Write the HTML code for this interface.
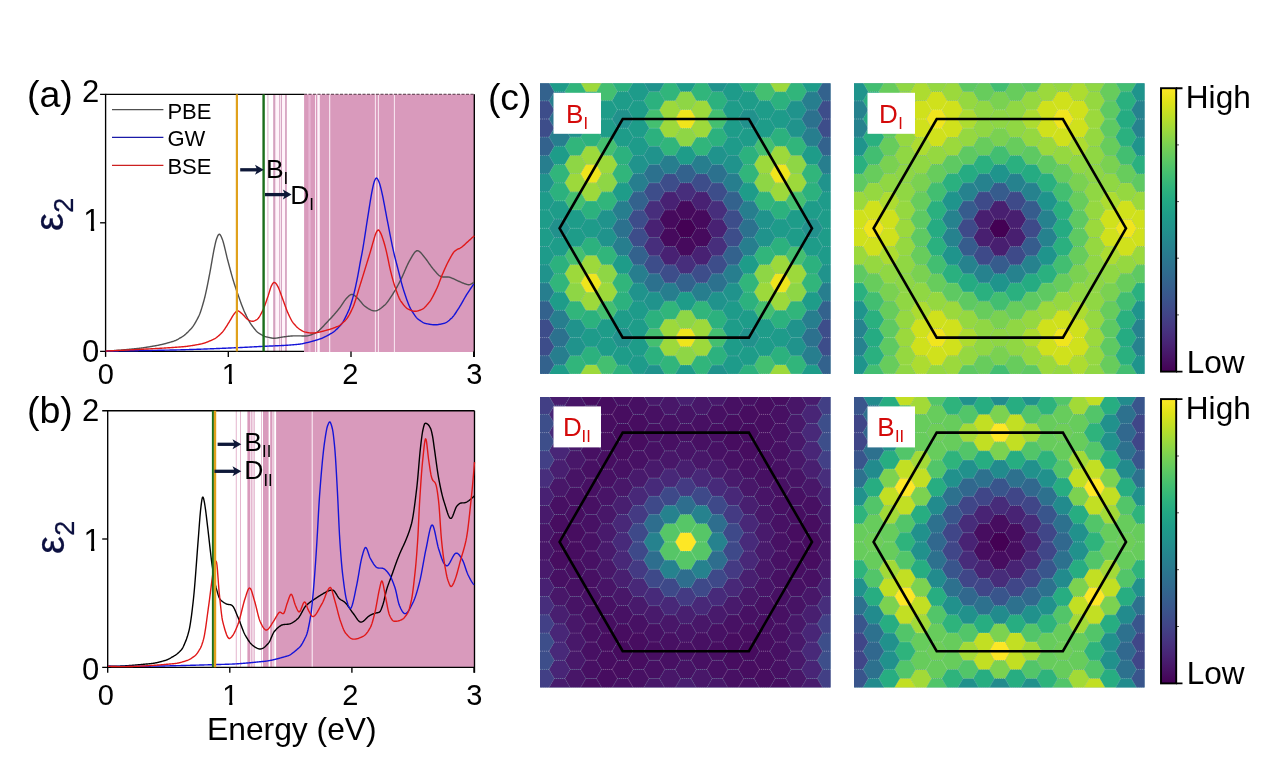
<!DOCTYPE html>
<html><head><meta charset="utf-8"><title>figure</title><style>html,body{margin:0;padding:0;background:#fff}svg{display:block}</style></head><body>
<svg width="1270" height="767" viewBox="0 0 1270 767" font-family="'Liberation Sans', Arial, sans-serif">
<rect width="1270" height="767" fill="#fff"/>
<rect x="304.1" y="94.3" width="170.7" height="257.7" fill="#d99abc"/>
<rect x="273" y="94.3" width="14" height="257.1" fill="#fff4fa"/>
<rect x="267.4" y="94.3" width="1" height="257.1" fill="#cf98b8" opacity="0.75"/>
<rect x="273.2" y="94.3" width="2.1" height="257.1" fill="#cf98b8" opacity="0.9"/>
<rect x="279.2" y="94.3" width="1" height="257.1" fill="#cf98b8" opacity="0.85"/>
<rect x="281" y="94.3" width="1" height="257.1" fill="#cf98b8" opacity="0.85"/>
<rect x="285.1" y="94.3" width="1.7" height="257.1" fill="#cf98b8" opacity="0.9"/>
<rect x="308.4" y="94.3" width="2.2" height="257.7" fill="#e6b3d2"/>
<rect x="315.1" y="94.3" width="0.9" height="257.7" fill="#fdf3f9"/>
<rect x="317" y="94.3" width="2.8" height="257.7" fill="#fdf3f9"/>
<rect x="329.2" y="94.3" width="1" height="257.7" fill="#fdf3f9"/>
<rect x="374.9" y="94.3" width="0.9" height="257.7" fill="#fdf3f9"/>
<rect x="377.9" y="94.3" width="0.9" height="257.7" fill="#fdf3f9"/>
<rect x="393.9" y="94.3" width="0.9" height="257.7" fill="#fdf3f9"/>
<rect x="316.7" y="94.3" width="0.6" height="257.7" fill="#d99abc"/>
<path d="M100.1,94.3 H105.6 M105.6,93.8 V351.9 M100.1,351.4 H304 M474.3,94.3 V356.9" stroke="#000" stroke-width="1.35" fill="none"/>
<path d="M105.6,94.3 H304" stroke="#000" stroke-width="1.35" fill="none"/>
<path d="M304,94.3 H474.3" stroke="#30101f" stroke-width="1.1" stroke-dasharray="3 1.5" opacity="0.8" fill="none"/>
<path d="M100.1,222.8 H105.6" stroke="#000" stroke-width="1.35"/>
<path d="M105.6,351.4 V356.9" stroke="#000" stroke-width="1.35"/>
<path d="M228.3,351.4 V356.9" stroke="#000" stroke-width="1.35"/>
<path d="M351,351.4 V356.9" stroke="#000" stroke-width="1.35"/>
<path d="M473.7,351.4 V356.9" stroke="#000" stroke-width="1.35"/>
<path d="M105.8,351 106.3,350.98 106.8,350.97 107.3,350.95 107.8,350.93 108.3,350.9 108.8,350.88 109.3,350.86 109.8,350.83 110.3,350.81 110.8,350.78 111.3,350.76 111.8,350.73 112.3,350.7 112.8,350.67 113.3,350.64 113.8,350.61 114.3,350.57 114.8,350.54 115.3,350.5 115.8,350.47 116.3,350.43 116.8,350.4 117.3,350.36 117.8,350.32 118.3,350.28 118.8,350.24 119.3,350.2 119.8,350.16 120.3,350.12 120.8,350.08 121.3,350.04 121.8,350 122.3,349.95 122.8,349.91 123.3,349.86 123.8,349.82 124.3,349.77 124.8,349.73 125.3,349.68 125.8,349.64 126.3,349.59 126.8,349.54 127.3,349.5 127.8,349.45 128.3,349.4 128.8,349.35 129.3,349.3 129.8,349.26 130.3,349.21 130.8,349.16 131.3,349.11 131.8,349.06 132.3,349.01 132.8,348.96 133.3,348.91 133.8,348.86 134.3,348.82 134.8,348.77 135.3,348.72 135.8,348.67 136.3,348.62 136.8,348.57 137.3,348.52 137.8,348.47 138.3,348.41 138.8,348.35 139.3,348.29 139.8,348.23 140.3,348.17 140.8,348.11 141.3,348.04 141.8,347.97 142.3,347.9 142.8,347.83 143.3,347.76 143.8,347.69 144.3,347.61 144.8,347.54 145.3,347.46 145.8,347.38 146.3,347.31 146.8,347.23 147.3,347.15 147.8,347.06 148.3,346.98 148.8,346.9 149.3,346.82 149.8,346.73 150.3,346.65 150.8,346.56 151.3,346.48 151.8,346.39 152.3,346.31 152.8,346.22 153.3,346.14 153.8,346.05 154.3,345.97 154.8,345.88 155.3,345.8 155.8,345.71 156.3,345.61 156.8,345.52 157.3,345.42 157.8,345.32 158.3,345.22 158.8,345.12 159.3,345.01 159.8,344.9 160.3,344.79 160.8,344.68 161.3,344.56 161.8,344.45 162.3,344.33 162.8,344.21 163.3,344.09 163.8,343.96 164.3,343.84 164.8,343.71 165.3,343.58 165.8,343.45 166.3,343.31 166.8,343.18 167.3,343.04 167.8,342.91 168.3,342.77 168.8,342.63 169.3,342.48 169.8,342.34 170.3,342.2 170.8,342.05 171.3,341.91 171.8,341.76 172.3,341.61 172.8,341.46 173.3,341.31 173.8,341.14 174.3,340.95 174.8,340.75 175.3,340.54 175.8,340.32 176.3,340.08 176.8,339.83 177.3,339.57 177.8,339.31 178.3,339.03 178.8,338.75 179.3,338.47 179.8,338.17 180.3,337.88 180.8,337.58 181.3,337.28 181.8,336.98 182.3,336.68 182.8,336.36 183.3,336.01 183.8,335.65 184.3,335.27 184.8,334.86 185.3,334.44 185.8,334.01 186.3,333.56 186.8,333.09 187.3,332.62 187.8,332.13 188.3,331.63 188.8,331.12 189.3,330.61 189.8,330.09 190.3,329.56 190.8,329.03 191.3,328.49 191.8,327.92 192.3,327.3 192.8,326.64 193.3,325.93 193.8,325.18 194.3,324.39 194.8,323.57 195.3,322.72 195.8,321.84 196.3,320.93 196.8,320 197.3,319.05 197.8,318.08 198.3,317.1 198.8,316.08 199.3,314.96 199.8,313.72 200.3,312.39 200.8,310.97 201.3,309.46 201.8,307.89 202.3,306.24 202.8,304.55 203.3,302.8 203.8,301.02 204.3,299.19 204.8,297.22 205.3,295.13 205.8,292.93 206.3,290.64 206.8,288.26 207.3,285.82 207.8,283.33 208.3,280.8 208.8,278.26 209.3,275.72 209.8,273.15 210.3,270.43 210.8,267.6 211.3,264.7 211.8,261.77 212.3,258.86 212.8,256.01 213.3,253.26 213.8,250.67 214.3,248.25 214.8,245.87 215.3,243.59 215.8,241.49 216.3,239.66 216.8,238.2 217.3,236.97 217.8,235.84 218.3,234.93 218.8,234.35 219.3,234.21 219.8,234.45 220.3,234.99 220.8,235.77 221.3,236.77 221.8,237.93 222.3,239.2 222.8,240.63 223.3,242.27 223.8,244.08 224.3,246.02 224.8,248.06 225.3,250.17 225.8,252.31 226.3,254.44 226.8,256.54 227.3,258.56 227.8,260.48 228.3,262.36 228.8,264.25 229.3,266.15 229.8,268.04 230.3,269.91 230.8,271.77 231.3,273.6 231.8,275.4 232.3,277.16 232.8,278.87 233.3,280.53 233.8,282.14 234.3,283.72 234.8,285.27 235.3,286.79 235.8,288.29 236.3,289.76 236.8,291.21 237.3,292.65 237.8,294.07 238.3,295.48 238.8,296.88 239.3,298.29 239.8,299.7 240.3,301.11 240.8,302.51 241.3,303.9 241.8,305.26 242.3,306.59 242.8,307.87 243.3,309.11 243.8,310.3 244.3,311.42 244.8,312.51 245.3,313.59 245.8,314.66 246.3,315.71 246.8,316.73 247.3,317.74 247.8,318.72 248.3,319.67 248.8,320.59 249.3,321.47 249.8,322.32 250.3,323.13 250.8,323.9 251.3,324.62 251.8,325.31 252.3,325.99 252.8,326.66 253.3,327.33 253.8,327.98 254.3,328.61 254.8,329.23 255.3,329.83 255.8,330.4 256.3,330.94 256.8,331.45 257.3,331.92 257.8,332.36 258.3,332.75 258.8,333.1 259.3,333.42 259.8,333.75 260.3,334.07 260.8,334.38 261.3,334.69 261.8,334.98 262.3,335.26 262.8,335.53 263.3,335.78 263.8,336.02 264.3,336.23 264.8,336.42 265.3,336.59 265.8,336.73 266.3,336.84 266.8,336.96 267.3,337.07 267.8,337.19 268.3,337.32 268.8,337.44 269.3,337.55 269.8,337.67 270.3,337.78 270.8,337.88 271.3,337.97 271.8,338.05 272.3,338.12 272.8,338.18 273.3,338.22 273.8,338.24 274.3,338.24 274.8,338.23 275.3,338.19 275.8,338.14 276.3,338.08 276.8,338.02 277.3,337.94 277.8,337.87 278.3,337.78 278.8,337.7 279.3,337.61 279.8,337.52 280.3,337.43 280.8,337.34 281.3,337.25 281.8,337.17 282.3,337.08 282.8,337.01 283.3,336.93 283.8,336.86 284.3,336.8 284.8,336.74 285.3,336.68 285.8,336.62 286.3,336.55 286.8,336.49 287.3,336.42 287.8,336.36 288.3,336.3 288.8,336.24 289.3,336.18 289.8,336.13 290.3,336.08 290.8,336.04 291.3,336 291.8,335.96 292.3,335.93 292.8,335.91 293.3,335.9 293.8,335.89 294.3,335.89 294.8,335.89 295.3,335.88 295.8,335.88 296.3,335.88 296.8,335.88 297.3,335.89 297.8,335.89 298.3,335.89 298.8,335.89 299.3,335.9 299.8,335.9 300.3,335.9 300.8,335.91 301.3,335.92 301.8,335.93 302.3,335.94 302.8,335.95 303.3,335.97 303.8,335.98 304.3,335.99 304.8,336 305.3,336 305.8,335.98 306.3,335.95 306.8,335.9 307.3,335.82 307.8,335.74 308.3,335.63 308.8,335.52 309.3,335.38 309.8,335.24 310.3,335.08 310.8,334.91 311.3,334.74 311.8,334.55 312.3,334.35 312.8,334.15 313.3,333.94 313.8,333.72 314.3,333.5 314.8,333.27 315.3,333.05 315.8,332.8 316.3,332.53 316.8,332.22 317.3,331.89 317.8,331.52 318.3,331.13 318.8,330.71 319.3,330.28 319.8,329.82 320.3,329.34 320.8,328.85 321.3,328.34 321.8,327.82 322.3,327.3 322.8,326.76 323.3,326.22 323.8,325.67 324.3,325.12 324.8,324.57 325.3,324.03 325.8,323.49 326.3,322.95 326.8,322.42 327.3,321.9 327.8,321.39 328.3,320.87 328.8,320.36 329.3,319.83 329.8,319.3 330.3,318.77 330.8,318.23 331.3,317.69 331.8,317.15 332.3,316.59 332.8,316.04 333.3,315.48 333.8,314.92 334.3,314.35 334.8,313.78 335.3,313.2 335.8,312.62 336.3,312.03 336.8,311.44 337.3,310.85 337.8,310.25 338.3,309.64 338.8,309.04 339.3,308.42 339.8,307.79 340.3,307.12 340.8,306.42 341.3,305.69 341.8,304.95 342.3,304.19 342.8,303.42 343.3,302.66 343.8,301.91 344.3,301.18 344.8,300.47 345.3,299.79 345.8,299.14 346.3,298.55 346.8,298 347.3,297.49 347.8,296.99 348.3,296.49 348.8,296.03 349.3,295.59 349.8,295.21 350.3,294.88 350.8,294.63 351.3,294.46 351.8,294.39 352.3,294.43 352.8,294.55 353.3,294.75 353.8,295.02 354.3,295.35 354.8,295.72 355.3,296.13 355.8,296.56 356.3,297 356.8,297.45 357.3,297.9 357.8,298.36 358.3,298.87 358.8,299.41 359.3,299.99 359.8,300.58 360.3,301.19 360.8,301.8 361.3,302.42 361.8,303.03 362.3,303.62 362.8,304.19 363.3,304.73 363.8,305.23 364.3,305.69 364.8,306.1 365.3,306.48 365.8,306.85 366.3,307.21 366.8,307.56 367.3,307.91 367.8,308.24 368.3,308.56 368.8,308.86 369.3,309.15 369.8,309.42 370.3,309.68 370.8,309.91 371.3,310.12 371.8,310.31 372.3,310.48 372.8,310.62 373.3,310.73 373.8,310.82 374.3,310.87 374.8,310.9 375.3,310.89 375.8,310.84 376.3,310.74 376.8,310.6 377.3,310.42 377.8,310.2 378.3,309.96 378.8,309.68 379.3,309.37 379.8,309.04 380.3,308.69 380.8,308.32 381.3,307.93 381.8,307.53 382.3,307.11 382.8,306.69 383.3,306.26 383.8,305.83 384.3,305.4 384.8,304.95 385.3,304.45 385.8,303.92 386.3,303.36 386.8,302.76 387.3,302.13 387.8,301.47 388.3,300.79 388.8,300.08 389.3,299.36 389.8,298.62 390.3,297.87 390.8,297.11 391.3,296.34 391.8,295.57 392.3,294.79 392.8,294.02 393.3,293.25 393.8,292.46 394.3,291.65 394.8,290.82 395.3,289.97 395.8,289.1 396.3,288.21 396.8,287.31 397.3,286.4 397.8,285.47 398.3,284.53 398.8,283.58 399.3,282.62 399.8,281.65 400.3,280.68 400.8,279.7 401.3,278.69 401.8,277.64 402.3,276.56 402.8,275.45 403.3,274.31 403.8,273.16 404.3,272 404.8,270.84 405.3,269.68 405.8,268.53 406.3,267.39 406.8,266.27 407.3,265.18 407.8,264.12 408.3,263.1 408.8,262.12 409.3,261.2 409.8,260.33 410.3,259.46 410.8,258.58 411.3,257.69 411.8,256.81 412.3,255.95 412.8,255.11 413.3,254.31 413.8,253.56 414.3,252.88 414.8,252.27 415.3,251.74 415.8,251.3 416.3,250.98 416.8,250.77 417.3,250.68 417.8,250.74 418.3,250.89 418.8,251.13 419.3,251.45 419.8,251.84 420.3,252.29 420.8,252.79 421.3,253.33 421.8,253.91 422.3,254.52 422.8,255.14 423.3,255.77 423.8,256.4 424.3,257.02 424.8,257.62 425.3,258.24 425.8,258.88 426.3,259.54 426.8,260.22 427.3,260.92 427.8,261.62 428.3,262.34 428.8,263.06 429.3,263.78 429.8,264.5 430.3,265.21 430.8,265.91 431.3,266.6 431.8,267.27 432.3,267.92 432.8,268.55 433.3,269.15 433.8,269.73 434.3,270.31 434.8,270.89 435.3,271.48 435.8,272.07 436.3,272.65 436.8,273.21 437.3,273.75 437.8,274.26 438.3,274.75 438.8,275.19 439.3,275.59 439.8,275.95 440.3,276.25 440.8,276.49 441.3,276.66 441.8,276.8 442.3,276.89 442.8,276.96 443.3,277 443.8,277.02 444.3,277.02 444.8,277.01 445.3,276.99 445.8,276.97 446.3,276.96 446.8,276.95 447.3,276.95 447.8,276.97 448.3,277.01 448.8,277.07 449.3,277.17 449.8,277.3 450.3,277.47 450.8,277.66 451.3,277.85 451.8,278.06 452.3,278.28 452.8,278.5 453.3,278.72 453.8,278.95 454.3,279.19 454.8,279.43 455.3,279.67 455.8,279.91 456.3,280.14 456.8,280.38 457.3,280.61 457.8,280.84 458.3,281.06 458.8,281.27 459.3,281.48 459.8,281.69 460.3,281.91 460.8,282.12 461.3,282.34 461.8,282.56 462.3,282.78 462.8,282.99 463.3,283.2 463.8,283.4 464.3,283.6 464.8,283.78 465.3,283.96 465.8,284.13 466.3,284.28 466.8,284.42 467.3,284.55 467.8,284.66 468.3,284.74 468.8,284.75 469.3,284.69 469.8,284.56 470.3,284.38 470.8,284.15 471.3,283.89 471.8,283.6 472.3,283.29 472.8,282.97 473.3,282.64 473.8,282.32" fill="none" stroke="#505050" stroke-width="1.4" stroke-linejoin="round"/>
<path d="M105.8,351 106.3,351 106.8,351 107.3,350.99 107.8,350.99 108.3,350.99 108.8,350.99 109.3,350.99 109.8,350.98 110.3,350.98 110.8,350.98 111.3,350.97 111.8,350.97 112.3,350.97 112.8,350.97 113.3,350.96 113.8,350.96 114.3,350.95 114.8,350.95 115.3,350.95 115.8,350.94 116.3,350.94 116.8,350.94 117.3,350.93 117.8,350.93 118.3,350.92 118.8,350.92 119.3,350.91 119.8,350.91 120.3,350.9 120.8,350.9 121.3,350.89 121.8,350.89 122.3,350.88 122.8,350.88 123.3,350.87 123.8,350.87 124.3,350.86 124.8,350.86 125.3,350.85 125.8,350.84 126.3,350.84 126.8,350.83 127.3,350.83 127.8,350.82 128.3,350.81 128.8,350.81 129.3,350.8 129.8,350.79 130.3,350.79 130.8,350.78 131.3,350.77 131.8,350.77 132.3,350.76 132.8,350.75 133.3,350.74 133.8,350.74 134.3,350.73 134.8,350.72 135.3,350.72 135.8,350.71 136.3,350.7 136.8,350.69 137.3,350.68 137.8,350.68 138.3,350.67 138.8,350.66 139.3,350.65 139.8,350.64 140.3,350.64 140.8,350.63 141.3,350.62 141.8,350.61 142.3,350.6 142.8,350.59 143.3,350.59 143.8,350.58 144.3,350.57 144.8,350.56 145.3,350.55 145.8,350.54 146.3,350.53 146.8,350.52 147.3,350.52 147.8,350.51 148.3,350.5 148.8,350.49 149.3,350.48 149.8,350.47 150.3,350.46 150.8,350.45 151.3,350.44 151.8,350.43 152.3,350.42 152.8,350.41 153.3,350.4 153.8,350.39 154.3,350.38 154.8,350.37 155.3,350.36 155.8,350.35 156.3,350.34 156.8,350.33 157.3,350.33 157.8,350.32 158.3,350.31 158.8,350.3 159.3,350.29 159.8,350.27 160.3,350.26 160.8,350.25 161.3,350.24 161.8,350.23 162.3,350.22 162.8,350.21 163.3,350.2 163.8,350.19 164.3,350.18 164.8,350.17 165.3,350.16 165.8,350.15 166.3,350.14 166.8,350.13 167.3,350.12 167.8,350.11 168.3,350.1 168.8,350.09 169.3,350.08 169.8,350.07 170.3,350.06 170.8,350.05 171.3,350.04 171.8,350.03 172.3,350.01 172.8,350 173.3,349.99 173.8,349.98 174.3,349.97 174.8,349.96 175.3,349.95 175.8,349.94 176.3,349.93 176.8,349.91 177.3,349.9 177.8,349.89 178.3,349.88 178.8,349.87 179.3,349.85 179.8,349.84 180.3,349.83 180.8,349.81 181.3,349.8 181.8,349.79 182.3,349.77 182.8,349.76 183.3,349.75 183.8,349.73 184.3,349.72 184.8,349.7 185.3,349.69 185.8,349.67 186.3,349.66 186.8,349.64 187.3,349.63 187.8,349.61 188.3,349.6 188.8,349.58 189.3,349.57 189.8,349.55 190.3,349.54 190.8,349.52 191.3,349.5 191.8,349.49 192.3,349.47 192.8,349.46 193.3,349.44 193.8,349.42 194.3,349.41 194.8,349.39 195.3,349.37 195.8,349.36 196.3,349.34 196.8,349.32 197.3,349.3 197.8,349.29 198.3,349.27 198.8,349.25 199.3,349.23 199.8,349.21 200.3,349.2 200.8,349.18 201.3,349.16 201.8,349.14 202.3,349.12 202.8,349.1 203.3,349.09 203.8,349.07 204.3,349.05 204.8,349.03 205.3,349.01 205.8,348.99 206.3,348.97 206.8,348.95 207.3,348.93 207.8,348.91 208.3,348.89 208.8,348.88 209.3,348.86 209.8,348.84 210.3,348.82 210.8,348.8 211.3,348.78 211.8,348.76 212.3,348.74 212.8,348.72 213.3,348.7 213.8,348.68 214.3,348.66 214.8,348.64 215.3,348.62 215.8,348.59 216.3,348.57 216.8,348.55 217.3,348.53 217.8,348.51 218.3,348.49 218.8,348.47 219.3,348.45 219.8,348.43 220.3,348.41 220.8,348.39 221.3,348.37 221.8,348.35 222.3,348.32 222.8,348.3 223.3,348.28 223.8,348.26 224.3,348.24 224.8,348.22 225.3,348.2 225.8,348.18 226.3,348.15 226.8,348.13 227.3,348.11 227.8,348.09 228.3,348.07 228.8,348.05 229.3,348.03 229.8,348.01 230.3,347.98 230.8,347.96 231.3,347.94 231.8,347.92 232.3,347.9 232.8,347.88 233.3,347.85 233.8,347.83 234.3,347.81 234.8,347.79 235.3,347.77 235.8,347.75 236.3,347.73 236.8,347.7 237.3,347.68 237.8,347.66 238.3,347.64 238.8,347.62 239.3,347.59 239.8,347.57 240.3,347.55 240.8,347.52 241.3,347.5 241.8,347.47 242.3,347.45 242.8,347.42 243.3,347.4 243.8,347.37 244.3,347.35 244.8,347.32 245.3,347.3 245.8,347.27 246.3,347.25 246.8,347.22 247.3,347.19 247.8,347.17 248.3,347.14 248.8,347.11 249.3,347.09 249.8,347.06 250.3,347.03 250.8,347.01 251.3,346.98 251.8,346.95 252.3,346.92 252.8,346.9 253.3,346.87 253.8,346.84 254.3,346.82 254.8,346.79 255.3,346.76 255.8,346.73 256.3,346.71 256.8,346.68 257.3,346.65 257.8,346.63 258.3,346.6 258.8,346.57 259.3,346.55 259.8,346.52 260.3,346.5 260.8,346.47 261.3,346.44 261.8,346.42 262.3,346.39 262.8,346.37 263.3,346.34 263.8,346.32 264.3,346.3 264.8,346.27 265.3,346.25 265.8,346.22 266.3,346.2 266.8,346.18 267.3,346.16 267.8,346.14 268.3,346.11 268.8,346.09 269.3,346.07 269.8,346.05 270.3,346.03 270.8,346.01 271.3,345.99 271.8,345.97 272.3,345.95 272.8,345.93 273.3,345.91 273.8,345.89 274.3,345.86 274.8,345.84 275.3,345.82 275.8,345.8 276.3,345.78 276.8,345.76 277.3,345.74 277.8,345.72 278.3,345.7 278.8,345.67 279.3,345.65 279.8,345.63 280.3,345.61 280.8,345.58 281.3,345.56 281.8,345.53 282.3,345.51 282.8,345.48 283.3,345.46 283.8,345.43 284.3,345.4 284.8,345.38 285.3,345.35 285.8,345.32 286.3,345.28 286.8,345.25 287.3,345.22 287.8,345.19 288.3,345.15 288.8,345.11 289.3,345.08 289.8,345.04 290.3,345 290.8,344.96 291.3,344.92 291.8,344.88 292.3,344.84 292.8,344.8 293.3,344.76 293.8,344.71 294.3,344.67 294.8,344.62 295.3,344.58 295.8,344.53 296.3,344.48 296.8,344.43 297.3,344.38 297.8,344.33 298.3,344.28 298.8,344.23 299.3,344.18 299.8,344.12 300.3,344.06 300.8,343.99 301.3,343.91 301.8,343.82 302.3,343.71 302.8,343.6 303.3,343.49 303.8,343.38 304.3,343.26 304.8,343.14 305.3,343.03 305.8,342.92 306.3,342.8 306.8,342.69 307.3,342.57 307.8,342.45 308.3,342.33 308.8,342.2 309.3,342.08 309.8,341.95 310.3,341.82 310.8,341.69 311.3,341.55 311.8,341.42 312.3,341.28 312.8,341.14 313.3,341 313.8,340.86 314.3,340.72 314.8,340.57 315.3,340.43 315.8,340.28 316.3,340.13 316.8,339.98 317.3,339.82 317.8,339.67 318.3,339.51 318.8,339.35 319.3,339.19 319.8,339.03 320.3,338.87 320.8,338.69 321.3,338.5 321.8,338.31 322.3,338.1 322.8,337.89 323.3,337.67 323.8,337.44 324.3,337.2 324.8,336.95 325.3,336.7 325.8,336.45 326.3,336.18 326.8,335.92 327.3,335.64 327.8,335.37 328.3,335.09 328.8,334.8 329.3,334.52 329.8,334.23 330.3,333.94 330.8,333.65 331.3,333.35 331.8,333.06 332.3,332.76 332.8,332.43 333.3,332.09 333.8,331.72 334.3,331.33 334.8,330.93 335.3,330.5 335.8,330.06 336.3,329.6 336.8,329.13 337.3,328.64 337.8,328.14 338.3,327.63 338.8,327.1 339.3,326.57 339.8,326.03 340.3,325.47 340.8,324.91 341.3,324.33 341.8,323.68 342.3,322.96 342.8,322.19 343.3,321.37 343.8,320.5 344.3,319.59 344.8,318.64 345.3,317.66 345.8,316.64 346.3,315.61 346.8,314.55 347.3,313.48 347.8,312.39 348.3,311.3 348.8,310.15 349.3,308.89 349.8,307.53 350.3,306.08 350.8,304.56 351.3,302.97 351.8,301.32 352.3,299.63 352.8,297.9 353.3,296.1 353.8,294.18 354.3,292.15 354.8,290.02 355.3,287.82 355.8,285.54 356.3,283.2 356.8,280.82 357.3,278.4 357.8,275.87 358.3,273.17 358.8,270.38 359.3,267.55 359.8,264.73 360.3,262 360.8,259.4 361.3,256.87 361.8,254.33 362.3,251.68 362.8,248.84 363.3,245.85 363.8,242.76 364.3,239.59 364.8,236.35 365.3,233.08 365.8,229.79 366.3,226.5 366.8,223.24 367.3,220.04 367.8,216.9 368.3,213.77 368.8,210.6 369.3,207.42 369.8,204.25 370.3,201.14 370.8,198.12 371.3,195.22 371.8,192.46 372.3,189.9 372.8,187.46 373.3,185.15 373.8,183.12 374.3,181.5 374.8,180.32 375.3,179.26 375.8,178.43 376.3,178.01 376.8,178.13 377.3,178.65 377.8,179.45 378.3,180.43 378.8,181.5 379.3,182.73 379.8,184.24 380.3,185.97 380.8,187.87 381.3,189.9 381.8,192.05 382.3,194.33 382.8,196.73 383.3,199.23 383.8,201.81 384.3,204.44 384.8,207.12 385.3,209.8 385.8,212.48 386.3,215.14 386.8,217.76 387.3,220.31 387.8,222.86 388.3,225.44 388.8,228.05 389.3,230.66 389.8,233.26 390.3,235.86 390.8,238.42 391.3,240.95 391.8,243.43 392.3,245.84 392.8,248.19 393.3,250.44 393.8,252.62 394.3,254.72 394.8,256.76 395.3,258.76 395.8,260.71 396.3,262.64 396.8,264.55 397.3,266.46 397.8,268.39 398.3,270.33 398.8,272.3 399.3,274.28 399.8,276.25 400.3,278.22 400.8,280.16 401.3,282.06 401.8,283.93 402.3,285.73 402.8,287.47 403.3,289.13 403.8,290.71 404.3,292.25 404.8,293.77 405.3,295.28 405.8,296.77 406.3,298.22 406.8,299.65 407.3,301.03 407.8,302.36 408.3,303.65 408.8,304.87 409.3,306.04 409.8,307.14 410.3,308.16 410.8,309.11 411.3,309.97 411.8,310.79 412.3,311.61 412.8,312.41 413.3,313.2 413.8,313.96 414.3,314.7 414.8,315.41 415.3,316.09 415.8,316.74 416.3,317.34 416.8,317.91 417.3,318.42 417.8,318.89 418.3,319.31 418.8,319.67 419.3,320.01 419.8,320.36 420.3,320.7 420.8,321.04 421.3,321.37 421.8,321.68 422.3,321.99 422.8,322.28 423.3,322.55 423.8,322.8 424.3,323.03 424.8,323.23 425.3,323.4 425.8,323.53 426.3,323.64 426.8,323.74 427.3,323.84 427.8,323.93 428.3,324.03 428.8,324.12 429.3,324.21 429.8,324.29 430.3,324.37 430.8,324.45 431.3,324.52 431.8,324.58 432.3,324.64 432.8,324.69 433.3,324.73 433.8,324.76 434.3,324.78 434.8,324.8 435.3,324.8 435.8,324.79 436.3,324.76 436.8,324.73 437.3,324.68 437.8,324.62 438.3,324.55 438.8,324.47 439.3,324.39 439.8,324.29 440.3,324.19 440.8,324.09 441.3,323.97 441.8,323.86 442.3,323.74 442.8,323.62 443.3,323.5 443.8,323.37 444.3,323.25 444.8,323.09 445.3,322.88 445.8,322.65 446.3,322.37 446.8,322.07 447.3,321.74 447.8,321.38 448.3,321 448.8,320.6 449.3,320.18 449.8,319.74 450.3,319.3 450.8,318.84 451.3,318.38 451.8,317.91 452.3,317.4 452.8,316.84 453.3,316.24 453.8,315.6 454.3,314.93 454.8,314.23 455.3,313.51 455.8,312.76 456.3,312 456.8,311.22 457.3,310.43 457.8,309.64 458.3,308.85 458.8,308.07 459.3,307.29 459.8,306.48 460.3,305.66 460.8,304.81 461.3,303.94 461.8,303.07 462.3,302.18 462.8,301.29 463.3,300.39 463.8,299.5 464.3,298.62 464.8,297.75 465.3,296.88 465.8,296.04 466.3,295.22 466.8,294.42 467.3,293.63 467.8,292.84 468.3,292.06 468.8,291.29 469.3,290.52 469.8,289.76 470.3,289.01 470.8,288.26 471.3,287.53 471.8,286.8 472.3,286.08 472.8,285.37 473.3,284.67 473.8,283.97" fill="none" stroke="#1414d8" stroke-width="1.4" stroke-linejoin="round"/>
<path d="M105.8,351 106.3,350.98 106.8,350.96 107.3,350.94 107.8,350.92 108.3,350.9 108.8,350.88 109.3,350.86 109.8,350.84 110.3,350.82 110.8,350.8 111.3,350.78 111.8,350.76 112.3,350.74 112.8,350.71 113.3,350.69 113.8,350.67 114.3,350.65 114.8,350.63 115.3,350.61 115.8,350.58 116.3,350.56 116.8,350.54 117.3,350.52 117.8,350.49 118.3,350.47 118.8,350.45 119.3,350.42 119.8,350.4 120.3,350.38 120.8,350.35 121.3,350.33 121.8,350.31 122.3,350.28 122.8,350.26 123.3,350.23 123.8,350.21 124.3,350.19 124.8,350.16 125.3,350.14 125.8,350.11 126.3,350.09 126.8,350.06 127.3,350.04 127.8,350.01 128.3,349.99 128.8,349.96 129.3,349.94 129.8,349.91 130.3,349.89 130.8,349.86 131.3,349.84 131.8,349.81 132.3,349.78 132.8,349.76 133.3,349.73 133.8,349.71 134.3,349.68 134.8,349.66 135.3,349.63 135.8,349.6 136.3,349.58 136.8,349.55 137.3,349.52 137.8,349.5 138.3,349.47 138.8,349.45 139.3,349.42 139.8,349.39 140.3,349.37 140.8,349.34 141.3,349.31 141.8,349.29 142.3,349.26 142.8,349.23 143.3,349.21 143.8,349.18 144.3,349.15 144.8,349.13 145.3,349.1 145.8,349.07 146.3,349.05 146.8,349.02 147.3,348.99 147.8,348.97 148.3,348.94 148.8,348.91 149.3,348.89 149.8,348.86 150.3,348.83 150.8,348.81 151.3,348.78 151.8,348.75 152.3,348.73 152.8,348.7 153.3,348.67 153.8,348.65 154.3,348.62 154.8,348.59 155.3,348.57 155.8,348.54 156.3,348.51 156.8,348.49 157.3,348.46 157.8,348.43 158.3,348.4 158.8,348.37 159.3,348.35 159.8,348.32 160.3,348.29 160.8,348.26 161.3,348.23 161.8,348.2 162.3,348.17 162.8,348.14 163.3,348.11 163.8,348.08 164.3,348.05 164.8,348.01 165.3,347.98 165.8,347.95 166.3,347.92 166.8,347.89 167.3,347.85 167.8,347.82 168.3,347.79 168.8,347.76 169.3,347.72 169.8,347.69 170.3,347.65 170.8,347.62 171.3,347.59 171.8,347.55 172.3,347.52 172.8,347.48 173.3,347.45 173.8,347.41 174.3,347.38 174.8,347.34 175.3,347.31 175.8,347.27 176.3,347.23 176.8,347.2 177.3,347.16 177.8,347.12 178.3,347.09 178.8,347.05 179.3,347.01 179.8,346.97 180.3,346.94 180.8,346.9 181.3,346.86 181.8,346.82 182.3,346.78 182.8,346.74 183.3,346.7 183.8,346.65 184.3,346.6 184.8,346.55 185.3,346.5 185.8,346.44 186.3,346.38 186.8,346.32 187.3,346.26 187.8,346.19 188.3,346.12 188.8,346.05 189.3,345.98 189.8,345.91 190.3,345.84 190.8,345.76 191.3,345.68 191.8,345.6 192.3,345.52 192.8,345.44 193.3,345.36 193.8,345.27 194.3,345.19 194.8,345.1 195.3,345.01 195.8,344.93 196.3,344.84 196.8,344.75 197.3,344.66 197.8,344.57 198.3,344.48 198.8,344.39 199.3,344.3 199.8,344.21 200.3,344.12 200.8,344.02 201.3,343.92 201.8,343.81 202.3,343.68 202.8,343.55 203.3,343.41 203.8,343.26 204.3,343.1 204.8,342.93 205.3,342.76 205.8,342.58 206.3,342.4 206.8,342.21 207.3,342.01 207.8,341.81 208.3,341.61 208.8,341.4 209.3,341.18 209.8,340.97 210.3,340.75 210.8,340.53 211.3,340.31 211.8,340.08 212.3,339.86 212.8,339.63 213.3,339.41 213.8,339.16 214.3,338.9 214.8,338.61 215.3,338.3 215.8,337.97 216.3,337.62 216.8,337.25 217.3,336.87 217.8,336.46 218.3,336.05 218.8,335.61 219.3,335.16 219.8,334.7 220.3,334.22 220.8,333.74 221.3,333.23 221.8,332.72 222.3,332.2 222.8,331.65 223.3,331.04 223.8,330.39 224.3,329.7 224.8,328.98 225.3,328.22 225.8,327.44 226.3,326.65 226.8,325.84 227.3,325.02 227.8,324.2 228.3,323.38 228.8,322.57 229.3,321.77 229.8,320.98 230.3,320.16 230.8,319.3 231.3,318.43 231.8,317.55 232.3,316.69 232.8,315.86 233.3,315.09 233.8,314.38 234.3,313.75 234.8,313.13 235.3,312.53 235.8,311.98 236.3,311.5 236.8,311.15 237.3,310.93 237.8,310.9 238.3,311.02 238.8,311.22 239.3,311.51 239.8,311.85 240.3,312.24 240.8,312.67 241.3,313.11 241.8,313.56 242.3,314 242.8,314.46 243.3,314.96 243.8,315.5 244.3,316.05 244.8,316.62 245.3,317.18 245.8,317.73 246.3,318.24 246.8,318.72 247.3,319.14 247.8,319.5 248.3,319.81 248.8,320.1 249.3,320.36 249.8,320.59 250.3,320.8 250.8,320.97 251.3,321.11 251.8,321.22 252.3,321.29 252.8,321.31 253.3,321.25 253.8,321.13 254.3,320.95 254.8,320.72 255.3,320.46 255.8,320.18 256.3,319.87 256.8,319.56 257.3,319.21 257.8,318.76 258.3,318.2 258.8,317.55 259.3,316.82 259.8,316.02 260.3,315.17 260.8,314.27 261.3,313.33 261.8,312.37 262.3,311.4 262.8,310.38 263.3,309.27 263.8,308.07 264.3,306.8 264.8,305.46 265.3,304.08 265.8,302.65 266.3,301.21 266.8,299.76 267.3,298.31 267.8,296.88 268.3,295.41 268.8,293.8 269.3,292.11 269.8,290.43 270.3,288.82 270.8,287.36 271.3,286.12 271.8,285.12 272.3,284.23 272.8,283.46 273.3,282.87 273.8,282.5 274.3,282.4 274.8,282.55 275.3,282.88 275.8,283.36 276.3,283.98 276.8,284.72 277.3,285.54 277.8,286.42 278.3,287.38 278.8,288.48 279.3,289.7 279.8,291 280.3,292.37 280.8,293.78 281.3,295.2 281.8,296.6 282.3,297.97 282.8,299.29 283.3,300.65 283.8,302.03 284.3,303.42 284.8,304.82 285.3,306.21 285.8,307.59 286.3,308.93 286.8,310.23 287.3,311.47 287.8,312.65 288.3,313.76 288.8,314.86 289.3,315.93 289.8,316.98 290.3,318 290.8,318.97 291.3,319.89 291.8,320.76 292.3,321.57 292.8,322.31 293.3,322.98 293.8,323.58 294.3,324.18 294.8,324.76 295.3,325.32 295.8,325.87 296.3,326.4 296.8,326.9 297.3,327.38 297.8,327.84 298.3,328.27 298.8,328.67 299.3,329.04 299.8,329.38 300.3,329.68 300.8,329.99 301.3,330.3 301.8,330.6 302.3,330.89 302.8,331.16 303.3,331.41 303.8,331.63 304.3,331.81 304.8,331.95 305.3,332.06 305.8,332.17 306.3,332.27 306.8,332.37 307.3,332.47 307.8,332.57 308.3,332.66 308.8,332.74 309.3,332.82 309.8,332.88 310.3,332.94 310.8,332.99 311.3,333.03 311.8,333.06 312.3,333.07 312.8,333.06 313.3,333.05 313.8,333.01 314.3,332.96 314.8,332.9 315.3,332.83 315.8,332.76 316.3,332.68 316.8,332.6 317.3,332.51 317.8,332.41 318.3,332.31 318.8,332.2 319.3,332.09 319.8,331.98 320.3,331.86 320.8,331.74 321.3,331.61 321.8,331.48 322.3,331.35 322.8,331.22 323.3,331.09 323.8,330.96 324.3,330.82 324.8,330.69 325.3,330.56 325.8,330.42 326.3,330.29 326.8,330.16 327.3,330.03 327.8,329.9 328.3,329.76 328.8,329.62 329.3,329.47 329.8,329.32 330.3,329.16 330.8,329 331.3,328.84 331.8,328.67 332.3,328.49 332.8,328.31 333.3,328.13 333.8,327.95 334.3,327.76 334.8,327.56 335.3,327.37 335.8,327.17 336.3,326.97 336.8,326.76 337.3,326.55 337.8,326.34 338.3,326.12 338.8,325.86 339.3,325.57 339.8,325.25 340.3,324.9 340.8,324.52 341.3,324.13 341.8,323.71 342.3,323.27 342.8,322.82 343.3,322.35 343.8,321.87 344.3,321.39 344.8,320.9 345.3,320.4 345.8,319.88 346.3,319.31 346.8,318.68 347.3,317.99 347.8,317.26 348.3,316.47 348.8,315.64 349.3,314.77 349.8,313.85 350.3,312.89 350.8,311.9 351.3,310.87 351.8,309.81 352.3,308.72 352.8,307.6 353.3,306.42 353.8,305.14 354.3,303.78 354.8,302.34 355.3,300.83 355.8,299.27 356.3,297.67 356.8,296.03 357.3,294.36 357.8,292.68 358.3,290.99 358.8,289.31 359.3,287.65 359.8,286.01 360.3,284.4 360.8,282.81 361.3,281.21 361.8,279.61 362.3,277.99 362.8,276.37 363.3,274.75 363.8,273.13 364.3,271.5 364.8,269.87 365.3,268.25 365.8,266.62 366.3,265 366.8,263.39 367.3,261.78 367.8,260.18 368.3,258.57 368.8,256.96 369.3,255.32 369.8,253.67 370.3,251.98 370.8,250.25 371.3,248.48 371.8,246.7 372.3,244.93 372.8,243.18 373.3,241.47 373.8,239.79 374.3,238.05 374.8,236.34 375.3,234.77 375.8,233.44 376.3,232.39 376.8,231.44 377.3,230.67 377.8,230.15 378.3,230 378.8,230.24 379.3,230.79 379.8,231.56 380.3,232.45 380.8,233.38 381.3,234.48 381.8,235.75 382.3,237.15 382.8,238.64 383.3,240.18 383.8,241.75 384.3,243.45 384.8,245.25 385.3,247.15 385.8,249.13 386.3,251.17 386.8,253.29 387.3,255.58 387.8,257.99 388.3,260.47 388.8,262.95 389.3,265.37 389.8,267.68 390.3,269.81 390.8,271.86 391.3,273.87 391.8,275.84 392.3,277.76 392.8,279.61 393.3,281.39 393.8,283.08 394.3,284.69 394.8,286.19 395.3,287.67 395.8,289.15 396.3,290.61 396.8,292.04 397.3,293.44 397.8,294.78 398.3,296.06 398.8,297.26 399.3,298.37 399.8,299.38 400.3,300.27 400.8,301.05 401.3,301.77 401.8,302.48 402.3,303.18 402.8,303.86 403.3,304.52 403.8,305.16 404.3,305.76 404.8,306.34 405.3,306.88 405.8,307.38 406.3,307.83 406.8,308.24 407.3,308.6 407.8,308.9 408.3,309.15 408.8,309.37 409.3,309.6 409.8,309.83 410.3,310.06 410.8,310.27 411.3,310.47 411.8,310.66 412.3,310.83 412.8,310.98 413.3,311.1 413.8,311.2 414.3,311.27 414.8,311.3 415.3,311.3 415.8,311.27 416.3,311.21 416.8,311.13 417.3,311.03 417.8,310.91 418.3,310.77 418.8,310.61 419.3,310.44 419.8,310.26 420.3,310.07 420.8,309.87 421.3,309.67 421.8,309.46 422.3,309.21 422.8,308.91 423.3,308.57 423.8,308.18 424.3,307.76 424.8,307.29 425.3,306.8 425.8,306.28 426.3,305.73 426.8,305.16 427.3,304.58 427.8,303.98 428.3,303.38 428.8,302.77 429.3,302.15 429.8,301.49 430.3,300.78 430.8,300.02 431.3,299.22 431.8,298.37 432.3,297.49 432.8,296.58 433.3,295.64 433.8,294.67 434.3,293.67 434.8,292.66 435.3,291.63 435.8,290.59 436.3,289.53 436.8,288.47 437.3,287.35 437.8,286.16 438.3,284.92 438.8,283.64 439.3,282.34 439.8,281.02 440.3,279.69 440.8,278.38 441.3,277.08 441.8,275.82 442.3,274.6 442.8,273.44 443.3,272.29 443.8,271.14 444.3,270 444.8,268.88 445.3,267.77 445.8,266.67 446.3,265.6 446.8,264.55 447.3,263.52 447.8,262.53 448.3,261.56 448.8,260.63 449.3,259.69 449.8,258.74 450.3,257.8 450.8,256.87 451.3,255.97 451.8,255.1 452.3,254.27 452.8,253.5 453.3,252.78 453.8,252.15 454.3,251.59 454.8,251.12 455.3,250.72 455.8,250.35 456.3,250.03 456.8,249.74 457.3,249.47 457.8,249.22 458.3,248.98 458.8,248.75 459.3,248.51 459.8,248.26 460.3,248 460.8,247.71 461.3,247.39 461.8,247.03 462.3,246.64 462.8,246.22 463.3,245.79 463.8,245.35 464.3,244.9 464.8,244.45 465.3,243.99 465.8,243.53 466.3,243.06 466.8,242.6 467.3,242.14 467.8,241.68 468.3,241.23 468.8,240.78 469.3,240.32 469.8,239.87 470.3,239.42 470.8,238.97 471.3,238.51 471.8,238.06 472.3,237.6 472.8,237.15 473.3,236.69 473.8,236.24 474.3,235.78" fill="none" stroke="#e01818" stroke-width="1.4" stroke-linejoin="round"/>
<rect x="235.8" y="94.3" width="2.2" height="257.1" fill="#e0a11c"/>
<rect x="262.4" y="94.3" width="2.4" height="257.1" fill="#1c6e1c"/>
<path d="M112,109.7 H163.4" stroke="#505050" stroke-width="1.3"/>
<text x="167.4" y="118.7" font-size="22">PBE</text>
<path d="M112,137.4 H163.4" stroke="#1a1aa8" stroke-width="1.3"/>
<text x="167.4" y="146.4" font-size="22">GW</text>
<path d="M112,165.3 H163.4" stroke="#cc2020" stroke-width="1.3"/>
<text x="167.4" y="174.3" font-size="22">BSE</text>
<text x="26.9" y="106.5" font-size="37.6">(a)</text>
<text x="99.3" y="101.9" font-size="31" text-anchor="end">2</text>
<text x="99.3" y="361.5" font-size="31" text-anchor="end">0</text>
<clipPath id="o1"><path d="M82.3,200.4 H114.3 V227.5 H82.3 z M90.8,226.8 H94.2 V232.4 H90.8 z"/></clipPath>
<text x="83.3" y="231.4" font-size="31" clip-path="url(#o1)">1</text>
<text x="105.8" y="384.2" font-size="29" text-anchor="middle">0</text>
<text x="350.4" y="384.2" font-size="29" text-anchor="middle">2</text>
<text x="474.2" y="384.2" font-size="29" text-anchor="middle">3</text>
<clipPath id="o2"><path d="M220.8,355.2 H250.8 V380.6 H220.8 z M228.8,379.8 H232 V385.2 H228.8 z"/></clipPath>
<text x="221.8" y="384.2" font-size="29" clip-path="url(#o2)">1</text>
<text transform="translate(63.4,231) rotate(-90)" font-size="40" fill="#0c1040" stroke="#0c1040" stroke-width="0.25">ε<tspan font-size="27" dy="9.6" dx="0.5">2</tspan></text>
<path d="M240.2,169.8 H258.8" stroke="#0e1838" stroke-width="3.3"/>
<path d="M263.8,169.8 l-8.8,-5 l2.2,5 l-2.2,5z" fill="#0e1838"/>
<text x="266.1" y="177.5" font-size="26.5">B<tspan font-size="17" dy="6.2" dx="-0.4">I</tspan></text>
<path d="M265,194.6 H286.6" stroke="#0e1838" stroke-width="3.3"/>
<path d="M291.6,194.6 l-8.8,-5 l2.2,5 l-2.2,5z" fill="#0e1838"/>
<text x="290.2" y="203.8" font-size="26.5">D<tspan font-size="17" dy="6.2" dx="-0.2">I</tspan></text>
<rect x="276.1" y="410.7" width="198.7" height="256.6" fill="#d99abc"/>
<rect x="235.8" y="410.7" width="0.9" height="256.6" fill="#d99abc" opacity="0.8"/>
<rect x="240" y="410.7" width="0.9" height="256.6" fill="#d99abc" opacity="0.8"/>
<rect x="247.4" y="410.7" width="2.9" height="256.6" fill="#d99abc"/>
<rect x="251.3" y="410.7" width="1.1" height="256.6" fill="#d99abc"/>
<rect x="253.6" y="410.7" width="1" height="256.6" fill="#d99abc"/>
<rect x="261.1" y="410.7" width="0.8" height="256.6" fill="#d99abc" opacity="0.8"/>
<rect x="263" y="410.7" width="5.6" height="256.6" fill="#d99abc"/>
<rect x="270.2" y="410.7" width="2.3" height="256.6" fill="#d99abc"/>
<rect x="273.4" y="410.7" width="0.8" height="256.6" fill="#d99abc" opacity="0.95"/>
<rect x="311.7" y="410.7" width="1" height="256.6" fill="#fdf3f9"/>
<path d="M102.2,410.7 H474.5 M107.7,410.2 V667.8 M102.2,667.3 H474.5 M474.5,410.7 V672.8" stroke="#000" stroke-width="1.35" fill="none"/>
<path d="M102.2,539 H107.7" stroke="#000" stroke-width="1.35"/>
<path d="M107.7,667.3 V672.8" stroke="#000" stroke-width="1.35"/>
<path d="M229.8,667.3 V672.8" stroke="#000" stroke-width="1.35"/>
<path d="M351.9,667.3 V672.8" stroke="#000" stroke-width="1.35"/>
<path d="M474,667.3 V672.8" stroke="#000" stroke-width="1.35"/>
<path d="M108,666.3 108.5,666.31 109,666.31 109.5,666.31 110,666.31 110.5,666.31 111,666.31 111.5,666.31 112,666.3 112.5,666.3 113,666.29 113.5,666.29 114,666.28 114.5,666.27 115,666.26 115.5,666.24 116,666.23 116.5,666.22 117,666.2 117.5,666.19 118,666.17 118.5,666.15 119,666.13 119.5,666.11 120,666.09 120.5,666.07 121,666.04 121.5,666.02 122,665.99 122.5,665.97 123,665.94 123.5,665.91 124,665.89 124.5,665.86 125,665.83 125.5,665.8 126,665.76 126.5,665.73 127,665.7 127.5,665.66 128,665.63 128.5,665.6 129,665.56 129.5,665.52 130,665.49 130.5,665.45 131,665.41 131.5,665.37 132,665.33 132.5,665.29 133,665.25 133.5,665.21 134,665.17 134.5,665.13 135,665.09 135.5,665.04 136,665 136.5,664.96 137,664.91 137.5,664.87 138,664.82 138.5,664.78 139,664.73 139.5,664.69 140,664.64 140.5,664.59 141,664.55 141.5,664.5 142,664.45 142.5,664.41 143,664.36 143.5,664.31 144,664.26 144.5,664.22 145,664.17 145.5,664.12 146,664.07 146.5,664.02 147,663.98 147.5,663.93 148,663.88 148.5,663.83 149,663.78 149.5,663.73 150,663.69 150.5,663.64 151,663.59 151.5,663.54 152,663.48 152.5,663.41 153,663.34 153.5,663.27 154,663.19 154.5,663.1 155,663.01 155.5,662.91 156,662.81 156.5,662.71 157,662.6 157.5,662.48 158,662.37 158.5,662.25 159,662.13 159.5,662 160,661.87 160.5,661.74 161,661.61 161.5,661.47 162,661.34 162.5,661.2 163,661.06 163.5,660.92 164,660.78 164.5,660.64 165,660.5 165.5,660.35 166,660.18 166.5,659.99 167,659.79 167.5,659.57 168,659.34 168.5,659.1 169,658.85 169.5,658.59 170,658.31 170.5,658.04 171,657.75 171.5,657.46 172,657.17 172.5,656.88 173,656.58 173.5,656.28 174,655.99 174.5,655.7 175,655.4 175.5,655.08 176,654.73 176.5,654.37 177,653.98 177.5,653.57 178,653.15 178.5,652.7 179,652.23 179.5,651.75 180,651.24 180.5,650.72 181,650.18 181.5,649.63 182,649.02 182.5,648.24 183,647.31 183.5,646.27 184,645.14 184.5,643.96 185,642.77 185.5,641.6 186,640.39 186.5,639.06 187,637.6 187.5,636.03 188,634.33 188.5,632.53 189,630.6 189.5,628.3 190,625.62 190.5,622.58 191,619.22 191.5,615.55 192,611.62 192.5,607.45 193,603.06 193.5,598.5 194,593.54 194.5,588 195,582.01 195.5,575.66 196,569.07 196.5,562.34 197,555.58 197.5,548.91 198,542.42 198.5,536.05 199,529.31 199.5,522.58 200,516.3 200.5,510.92 201,506.45 201.5,502.38 202,499.17 202.5,497.29 203,497.15 203.5,498.29 204,500.32 204.5,502.98 205,506 205.5,509.39 206,513.24 206.5,517.37 207,521.61 207.5,525.8 208,530.01 208.5,534.38 209,538.86 209.5,543.38 210,547.88 210.5,552.28 211,556.53 211.5,560.56 212,564.3 212.5,567.75 213,571.08 213.5,574.29 214,577.34 214.5,580.19 215,582.82 215.5,585.19 216,587.26 216.5,589.07 217,590.86 217.5,592.61 218,594.28 218.5,595.81 219,597.18 219.5,598.33 220,599.21 220.5,599.8 221,600.26 221.5,600.7 222,601.12 222.5,601.52 223,601.9 223.5,602.26 224,602.6 224.5,602.92 225,603.22 225.5,603.5 226,603.76 226.5,603.99 227,604.17 227.5,604.3 228,604.39 228.5,604.47 229,604.53 229.5,604.59 230,604.68 230.5,604.79 231,604.95 231.5,605.17 232,605.46 232.5,605.85 233,606.43 233.5,607.16 234,608.04 234.5,609.04 235,610.13 235.5,611.28 236,612.49 236.5,613.72 237,614.95 237.5,616.15 238,617.3 238.5,618.46 239,619.69 239.5,620.97 240,622.29 240.5,623.64 241,625 241.5,626.36 242,627.71 242.5,629.03 243,630.3 243.5,631.53 244,632.68 244.5,633.75 245,634.72 245.5,635.61 246,636.49 246.5,637.34 247,638.17 247.5,638.98 248,639.76 248.5,640.51 249,641.23 249.5,641.92 250,642.57 250.5,643.19 251,643.77 251.5,644.32 252,644.81 252.5,645.27 253,645.68 253.5,646.04 254,646.39 254.5,646.73 255,647.06 255.5,647.38 256,647.67 256.5,647.95 257,648.2 257.5,648.42 258,648.61 258.5,648.76 259,648.88 259.5,648.96 260,649 260.5,648.99 261,648.92 261.5,648.8 262,648.63 262.5,648.41 263,648.15 263.5,647.84 264,647.5 264.5,647.11 265,646.7 265.5,646.25 266,645.78 266.5,645.28 267,644.76 267.5,644.22 268,643.67 268.5,643.1 269,642.43 269.5,641.58 270,640.59 270.5,639.5 271,638.34 271.5,637.14 272,635.95 272.5,634.8 273,633.72 273.5,632.75 274,631.93 274.5,631.28 275,630.71 275.5,630.16 276,629.62 276.5,629.09 277,628.59 277.5,628.11 278,627.65 278.5,627.22 279,626.81 279.5,626.44 280,626.09 280.5,625.77 281,625.48 281.5,625.23 282,625.01 282.5,624.83 283,624.69 283.5,624.58 284,624.5 284.5,624.45 285,624.41 285.5,624.38 286,624.36 286.5,624.34 287,624.32 287.5,624.29 288,624.23 288.5,624.16 289,624.06 289.5,623.93 290,623.77 290.5,623.58 291,623.37 291.5,623.14 292,622.89 292.5,622.62 293,622.32 293.5,622.01 294,621.68 294.5,621.33 295,620.96 295.5,620.58 296,620.18 296.5,619.76 297,619.32 297.5,618.87 298,618.4 298.5,617.86 299,617.22 299.5,616.49 300,615.7 300.5,614.85 301,613.95 301.5,613.03 302,612.1 302.5,611.16 303,610.24 303.5,609.34 304,608.48 304.5,607.67 305,606.93 305.5,606.27 306,605.7 306.5,605.21 307,604.74 307.5,604.29 308,603.86 308.5,603.44 309,603.03 309.5,602.64 310,602.26 310.5,601.9 311,601.54 311.5,601.18 312,600.84 312.5,600.5 313,600.16 313.5,599.83 314,599.5 314.5,599.17 315,598.83 315.5,598.5 316,598.16 316.5,597.83 317,597.49 317.5,597.16 318,596.83 318.5,596.5 319,596.17 319.5,595.85 320,595.54 320.5,595.23 321,594.93 321.5,594.63 322,594.34 322.5,594.05 323,593.76 323.5,593.46 324,593.16 324.5,592.87 325,592.57 325.5,592.28 326,592.01 326.5,591.74 327,591.48 327.5,591.24 328,591.02 328.5,590.81 329,590.63 329.5,590.47 330,590.34 330.5,590.23 331,590.16 331.5,590.12 332,590.11 332.5,590.15 333,590.22 333.5,590.44 334,590.83 334.5,591.37 335,592.03 335.5,592.77 336,593.58 336.5,594.42 337,595.27 337.5,596.1 338,596.88 338.5,597.59 339,598.19 339.5,598.68 340,599.1 340.5,599.48 341,599.81 341.5,600.12 342,600.41 342.5,600.7 343,600.99 343.5,601.29 344,601.63 344.5,602 345,602.42 345.5,602.9 346,603.44 346.5,604.03 347,604.66 347.5,605.32 348,606.01 348.5,606.73 349,607.46 349.5,608.2 350,608.94 350.5,609.68 351,610.41 351.5,611.13 352,611.82 352.5,612.49 353,613.13 353.5,613.78 354,614.48 354.5,615.2 355,615.94 355.5,616.68 356,617.42 356.5,618.15 357,618.84 357.5,619.5 358,620.11 358.5,620.66 359,621.13 359.5,621.53 360,621.83 360.5,622.02 361,622.1 361.5,622.06 362,621.93 362.5,621.71 363,621.42 363.5,621.07 364,620.66 364.5,620.22 365,619.74 365.5,619.25 366,618.74 366.5,618.23 367,617.73 367.5,617.25 368,616.81 368.5,616.4 369,616.04 369.5,615.74 370,615.47 370.5,615.21 371,614.96 371.5,614.71 372,614.47 372.5,614.23 373,614 373.5,613.78 374,613.56 374.5,613.37 375,613.22 375.5,613.1 376,613 376.5,612.9 377,612.81 377.5,612.72 378,612.6 378.5,612.46 379,612.28 379.5,612.04 380,611.56 380.5,610.78 381,609.74 381.5,608.51 382,607.14 382.5,605.68 383,604.2 383.5,602.59 384,600.67 384.5,598.52 385,596.27 385.5,594.02 386,591.89 386.5,589.98 387,588.34 387.5,586.82 388,585.37 388.5,583.98 389,582.63 389.5,581.3 390,579.98 390.5,578.66 391,577.32 391.5,575.95 392,574.55 392.5,573.15 393,571.74 393.5,570.32 394,568.91 394.5,567.49 395,566.08 395.5,564.68 396,563.3 396.5,561.93 397,560.57 397.5,559.24 398,557.93 398.5,556.65 399,555.41 399.5,554.21 400,553.04 400.5,551.91 401,550.8 401.5,549.71 402,548.64 402.5,547.57 403,546.5 403.5,545.43 404,544.34 404.5,543.24 405,542.11 405.5,540.95 406,539.76 406.5,538.54 407,537.29 407.5,536.01 408,534.7 408.5,533.33 409,531.91 409.5,530.43 410,528.88 410.5,527.25 411,525.53 411.5,523.73 412,521.61 412.5,519.12 413,516.29 413.5,513.16 414,509.77 414.5,506.15 415,502.33 415.5,498.37 416,494.28 416.5,490.12 417,485.84 417.5,480.9 418,475.36 418.5,469.48 419,463.51 419.5,457.69 420,452.27 420.5,447.5 421,443.17 421.5,439.03 422,435.25 422.5,432.01 423,429.5 423.5,427.4 424,425.48 424.5,424.04 425,423.4 425.5,423.31 426,423.34 426.5,423.48 427,423.72 427.5,424.05 428,424.49 428.5,425.04 429,425.71 429.5,426.49 430,427.35 430.5,428.3 431,429.57 431.5,431.36 432,433.53 432.5,435.99 433,438.87 433.5,442.39 434,446.09 434.5,449.59 435,453.18 435.5,456.84 436,460.52 436.5,464.18 437,467.75 437.5,471.17 438,474.4 438.5,477.39 439,480.11 439.5,482.73 440,485.26 440.5,487.68 441,490.01 441.5,492.23 442,494.34 442.5,496.33 443,498.21 443.5,499.96 444,501.59 444.5,503.12 445,504.72 445.5,506.38 446,508.05 446.5,509.7 447,511.31 447.5,512.83 448,514.24 448.5,515.5 449,516.58 449.5,517.44 450,518.05 450.5,518.38 451,518.39 451.5,518.06 452,517.4 452.5,516.48 453,515.35 453.5,514.07 454,512.7 454.5,511.3 455,509.93 455.5,508.65 456,507.51 456.5,506.57 457,505.9 457.5,505.38 458,504.88 458.5,504.42 459,504 459.5,503.63 460,503.34 460.5,503.13 461,503 461.5,502.93 462,502.9 462.5,502.89 463,502.89 463.5,502.88 464,502.85 464.5,502.79 465,502.67 465.5,502.49 466,502.28 466.5,502.04 467,501.78 467.5,501.49 468,501.18 468.5,500.85 469,500.5 469.5,500.13 470,499.74 470.5,499.34 471,498.93 471.5,498.51 472,498.07 472.5,497.63 473,497.18 473.5,496.72 474,496.26 474.5,495.8" fill="none" stroke="#000" stroke-width="1.4" stroke-linejoin="round"/>
<path d="M108,666.3 108.5,666.31 109,666.31 109.5,666.31 110,666.32 110.5,666.32 111,666.33 111.5,666.33 112,666.34 112.5,666.34 113,666.34 113.5,666.35 114,666.35 114.5,666.35 115,666.36 115.5,666.36 116,666.36 116.5,666.36 117,666.36 117.5,666.37 118,666.37 118.5,666.37 119,666.37 119.5,666.37 120,666.37 120.5,666.38 121,666.38 121.5,666.38 122,666.38 122.5,666.38 123,666.38 123.5,666.38 124,666.38 124.5,666.38 125,666.38 125.5,666.38 126,666.38 126.5,666.38 127,666.38 127.5,666.37 128,666.37 128.5,666.37 129,666.37 129.5,666.37 130,666.37 130.5,666.36 131,666.36 131.5,666.36 132,666.36 132.5,666.35 133,666.35 133.5,666.35 134,666.35 134.5,666.34 135,666.34 135.5,666.34 136,666.33 136.5,666.33 137,666.33 137.5,666.32 138,666.32 138.5,666.31 139,666.31 139.5,666.3 140,666.3 140.5,666.3 141,666.29 141.5,666.29 142,666.28 142.5,666.28 143,666.27 143.5,666.26 144,666.26 144.5,666.25 145,666.25 145.5,666.24 146,666.24 146.5,666.23 147,666.22 147.5,666.22 148,666.21 148.5,666.2 149,666.2 149.5,666.19 150,666.18 150.5,666.18 151,666.17 151.5,666.16 152,666.15 152.5,666.15 153,666.14 153.5,666.13 154,666.12 154.5,666.12 155,666.11 155.5,666.1 156,666.09 156.5,666.08 157,666.07 157.5,666.07 158,666.06 158.5,666.05 159,666.04 159.5,666.03 160,666.02 160.5,666.01 161,666 161.5,665.99 162,665.98 162.5,665.97 163,665.97 163.5,665.96 164,665.95 164.5,665.94 165,665.93 165.5,665.92 166,665.91 166.5,665.9 167,665.88 167.5,665.87 168,665.86 168.5,665.85 169,665.84 169.5,665.83 170,665.82 170.5,665.81 171,665.8 171.5,665.79 172,665.78 172.5,665.77 173,665.75 173.5,665.74 174,665.73 174.5,665.72 175,665.71 175.5,665.7 176,665.69 176.5,665.67 177,665.66 177.5,665.65 178,665.64 178.5,665.63 179,665.61 179.5,665.6 180,665.59 180.5,665.58 181,665.56 181.5,665.55 182,665.54 182.5,665.53 183,665.51 183.5,665.5 184,665.49 184.5,665.47 185,665.46 185.5,665.45 186,665.44 186.5,665.42 187,665.41 187.5,665.4 188,665.38 188.5,665.37 189,665.36 189.5,665.34 190,665.33 190.5,665.32 191,665.3 191.5,665.29 192,665.28 192.5,665.26 193,665.25 193.5,665.23 194,665.22 194.5,665.21 195,665.19 195.5,665.18 196,665.16 196.5,665.15 197,665.14 197.5,665.12 198,665.11 198.5,665.09 199,665.08 199.5,665.07 200,665.05 200.5,665.04 201,665.02 201.5,665.01 202,664.99 202.5,664.98 203,664.97 203.5,664.95 204,664.94 204.5,664.92 205,664.91 205.5,664.89 206,664.88 206.5,664.86 207,664.85 207.5,664.83 208,664.82 208.5,664.8 209,664.79 209.5,664.77 210,664.76 210.5,664.74 211,664.73 211.5,664.72 212,664.7 212.5,664.69 213,664.67 213.5,664.66 214,664.64 214.5,664.63 215,664.61 215.5,664.6 216,664.58 216.5,664.57 217,664.55 217.5,664.54 218,664.52 218.5,664.51 219,664.49 219.5,664.48 220,664.46 220.5,664.45 221,664.43 221.5,664.42 222,664.4 222.5,664.39 223,664.37 223.5,664.36 224,664.34 224.5,664.33 225,664.31 225.5,664.3 226,664.28 226.5,664.27 227,664.25 227.5,664.24 228,664.22 228.5,664.21 229,664.19 229.5,664.17 230,664.16 230.5,664.14 231,664.12 231.5,664.1 232,664.08 232.5,664.05 233,664.03 233.5,664 234,663.98 234.5,663.95 235,663.92 235.5,663.9 236,663.87 236.5,663.83 237,663.8 237.5,663.77 238,663.74 238.5,663.7 239,663.67 239.5,663.63 240,663.6 240.5,663.56 241,663.52 241.5,663.48 242,663.44 242.5,663.41 243,663.36 243.5,663.32 244,663.28 244.5,663.24 245,663.2 245.5,663.15 246,663.11 246.5,663.07 247,663.02 247.5,662.98 248,662.93 248.5,662.89 249,662.84 249.5,662.79 250,662.75 250.5,662.7 251,662.65 251.5,662.6 252,662.56 252.5,662.51 253,662.46 253.5,662.41 254,662.36 254.5,662.31 255,662.26 255.5,662.21 256,662.16 256.5,662.12 257,662.07 257.5,662.02 258,661.97 258.5,661.92 259,661.87 259.5,661.82 260,661.77 260.5,661.72 261,661.67 261.5,661.62 262,661.57 262.5,661.53 263,661.48 263.5,661.43 264,661.38 264.5,661.33 265,661.27 265.5,661.21 266,661.15 266.5,661.08 267,661.01 267.5,660.93 268,660.85 268.5,660.77 269,660.68 269.5,660.59 270,660.5 270.5,660.4 271,660.3 271.5,660.2 272,660.09 272.5,659.98 273,659.87 273.5,659.76 274,659.64 274.5,659.52 275,659.4 275.5,659.28 276,659.15 276.5,659.03 277,658.9 277.5,658.77 278,658.63 278.5,658.5 279,658.37 279.5,658.23 280,658.09 280.5,657.95 281,657.81 281.5,657.67 282,657.53 282.5,657.39 283,657.24 283.5,657.1 284,656.95 284.5,656.81 285,656.67 285.5,656.52 286,656.38 286.5,656.23 287,656.09 287.5,655.94 288,655.77 288.5,655.57 289,655.35 289.5,655.1 290,654.83 290.5,654.54 291,654.23 291.5,653.9 292,653.55 292.5,653.19 293,652.81 293.5,652.42 294,652.03 294.5,651.62 295,651.2 295.5,650.78 296,650.36 296.5,649.93 297,649.5 297.5,649.07 298,648.64 298.5,648.22 299,647.8 299.5,647.34 300,646.8 300.5,646.19 301,645.51 301.5,644.76 302,643.96 302.5,643.11 303,642.21 303.5,641.28 304,640.31 304.5,639.31 305,638.29 305.5,637.26 306,636.21 306.5,635.05 307,633.56 307.5,631.78 308,629.74 308.5,627.46 309,624.99 309.5,622.36 310,619.6 310.5,616.74 311,613.74 311.5,609.9 312,605.29 312.5,600.19 313,594.87 313.5,589.36 314,583.36 314.5,576.94 315,570.22 315.5,563.3 316,555.97 316.5,548.12 317,540 317.5,531.36 318,522.14 318.5,512.87 319,504.11 319.5,496.37 320,489.7 320.5,483.26 321,477.06 321.5,471.13 322,465.49 322.5,460.18 323,455.21 323.5,450.62 324,446.44 324.5,442.69 325,439.26 325.5,435.93 326,432.81 326.5,430.03 327,427.72 327.5,426 328,424.65 328.5,423.46 329,422.54 329.5,421.99 330,421.97 330.5,422.65 331,423.9 331.5,425.51 332,427.29 332.5,429.26 333,432.19 333.5,435.99 334,440.46 334.5,445.42 335,450.95 335.5,457.9 336,465.98 336.5,474.81 337,483.98 337.5,493.15 338,503.31 338.5,514.32 339,525.21 339.5,535.03 340,542.99 340.5,550.13 341,556.76 341.5,562.84 342,568.32 342.5,573.14 343,577.28 343.5,581.2 344,585.04 344.5,588.72 345,592.14 345.5,595.2 346,597.81 346.5,599.86 347,601.5 347.5,603.11 348,604.64 348.5,606.01 349,607.15 349.5,608 350,608.48 350.5,608.53 351,608.06 351.5,607.1 352,605.8 352.5,604.2 353,602.36 353.5,600.32 354,598.11 354.5,595.78 355,593.36 355.5,590.91 356,588.47 356.5,586.07 357,583.64 357.5,581 358,578.2 358.5,575.28 359,572.32 359.5,569.36 360,566.48 360.5,563.72 361,561.14 361.5,558.8 362,556.77 362.5,554.96 363,553.17 363.5,551.49 364,549.99 364.5,548.77 365,547.91 365.5,547.49 366,547.61 366.5,548.26 367,549.28 367.5,550.57 368,552.03 368.5,553.57 369,555.1 369.5,556.51 370,557.71 370.5,558.65 371,559.53 371.5,560.41 372,561.29 372.5,562.14 373,562.97 373.5,563.77 374,564.51 374.5,565.21 375,565.84 375.5,566.4 376,566.88 376.5,567.27 377,567.57 377.5,567.79 378,567.94 378.5,568.04 379,568.1 379.5,568.13 380,568.14 380.5,568.14 381,568.14 381.5,568.15 382,568.19 382.5,568.26 383,568.38 383.5,568.56 384,568.8 384.5,569.11 385,569.49 385.5,569.93 386,570.42 386.5,570.96 387,571.54 387.5,572.15 388,572.8 388.5,573.46 389,574.14 389.5,574.84 390,575.62 390.5,576.5 391,577.48 391.5,578.55 392,579.7 392.5,580.92 393,582.2 393.5,583.54 394,584.92 394.5,586.34 395,587.8 395.5,589.51 396,591.51 396.5,593.71 397,596.02 397.5,598.32 398,600.54 398.5,602.57 399,604.32 399.5,605.7 400,606.84 400.5,607.93 401,608.97 401.5,609.93 402,610.82 402.5,611.6 403,612.28 403.5,612.84 404,613.26 404.5,613.54 405,613.65 405.5,613.6 406,613.4 406.5,613.08 407,612.66 407.5,612.14 408,611.53 408.5,610.84 409,610.09 409.5,609.27 410,608.39 410.5,607.47 411,606.52 411.5,605.54 412,604.53 412.5,603.52 413,602.51 413.5,601.47 414,600.34 414.5,599.11 415,597.78 415.5,596.36 416,594.86 416.5,593.27 417,591.61 417.5,589.88 418,588.09 418.5,586.24 419,584.34 419.5,582.39 420,580.35 420.5,578.1 421,575.67 421.5,573.11 422,570.43 422.5,567.68 423,564.89 423.5,562.09 424,559.31 424.5,556.59 425,553.96 425.5,551.45 426,549.1 426.5,546.74 427,544.22 427.5,541.62 428,538.99 428.5,536.41 429,533.93 429.5,531.63 430,529.56 430.5,527.79 431,526.4 431.5,525.43 432,524.97 432.5,525.07 433,525.73 433.5,526.88 434,528.45 434.5,530.35 435,532.51 435.5,534.85 436,537.3 436.5,539.78 437,542.22 437.5,544.52 438,546.63 438.5,548.46 439,550.02 439.5,551.58 440,553.15 440.5,554.71 441,556.24 441.5,557.71 442,559.11 442.5,560.4 443,561.56 443.5,562.58 444,563.42 444.5,564.09 445,564.68 445.5,565.18 446,565.55 446.5,565.76 447,565.79 447.5,565.6 448,565.21 448.5,564.67 449,564 449.5,563.22 450,562.36 450.5,561.44 451,560.47 451.5,559.48 452,558.49 452.5,557.52 453,556.6 453.5,555.74 454,554.97 454.5,554.31 455,553.78 455.5,553.4 456,553.19 456.5,553.14 457,553.22 457.5,553.42 458,553.75 458.5,554.18 459,554.7 459.5,555.31 460,555.99 460.5,556.73 461,557.52 461.5,558.36 462,559.22 462.5,560.1 463,561.09 463.5,562.25 464,563.56 464.5,564.98 465,566.46 465.5,567.97 466,569.48 466.5,570.94 467,572.32 467.5,573.59 468,574.7 468.5,575.72 469,576.73 469.5,577.72 470,578.69 470.5,579.63 471,580.52 471.5,581.38 472,582.17 472.5,582.91 473,583.59 473.5,584.18 474,584.7" fill="none" stroke="#1414d8" stroke-width="1.4" stroke-linejoin="round"/>
<path d="M108,666.3 108.5,666.32 109,666.34 109.5,666.37 110,666.39 110.5,666.41 111,666.42 111.5,666.44 112,666.46 112.5,666.47 113,666.49 113.5,666.5 114,666.52 114.5,666.53 115,666.54 115.5,666.55 116,666.56 116.5,666.57 117,666.58 117.5,666.58 118,666.59 118.5,666.6 119,666.6 119.5,666.6 120,666.61 120.5,666.61 121,666.61 121.5,666.61 122,666.61 122.5,666.61 123,666.61 123.5,666.61 124,666.61 124.5,666.6 125,666.6 125.5,666.59 126,666.59 126.5,666.58 127,666.58 127.5,666.57 128,666.56 128.5,666.55 129,666.54 129.5,666.53 130,666.52 130.5,666.51 131,666.5 131.5,666.48 132,666.47 132.5,666.45 133,666.44 133.5,666.42 134,666.41 134.5,666.39 135,666.37 135.5,666.36 136,666.34 136.5,666.32 137,666.3 137.5,666.28 138,666.26 138.5,666.24 139,666.21 139.5,666.19 140,666.17 140.5,666.14 141,666.12 141.5,666.1 142,666.07 142.5,666.04 143,666.02 143.5,665.99 144,665.96 144.5,665.94 145,665.91 145.5,665.88 146,665.85 146.5,665.82 147,665.79 147.5,665.76 148,665.73 148.5,665.7 149,665.67 149.5,665.63 150,665.6 150.5,665.57 151,665.53 151.5,665.5 152,665.47 152.5,665.43 153,665.4 153.5,665.36 154,665.32 154.5,665.29 155,665.25 155.5,665.21 156,665.18 156.5,665.14 157,665.1 157.5,665.06 158,665.02 158.5,664.98 159,664.95 159.5,664.91 160,664.87 160.5,664.83 161,664.78 161.5,664.74 162,664.7 162.5,664.66 163,664.62 163.5,664.58 164,664.54 164.5,664.49 165,664.45 165.5,664.41 166,664.36 166.5,664.32 167,664.28 167.5,664.23 168,664.19 168.5,664.15 169,664.1 169.5,664.06 170,664.01 170.5,663.97 171,663.92 171.5,663.88 172,663.83 172.5,663.78 173,663.74 173.5,663.69 174,663.65 174.5,663.6 175,663.55 175.5,663.49 176,663.42 176.5,663.34 177,663.26 177.5,663.16 178,663.06 178.5,662.95 179,662.84 179.5,662.72 180,662.6 180.5,662.47 181,662.33 181.5,662.2 182,662.05 182.5,661.91 183,661.76 183.5,661.61 184,661.46 184.5,661.31 185,661.15 185.5,661 186,660.84 186.5,660.69 187,660.53 187.5,660.37 188,660.18 188.5,659.96 189,659.72 189.5,659.46 190,659.18 190.5,658.88 191,658.57 191.5,658.24 192,657.9 192.5,657.55 193,657.19 193.5,656.82 194,656.45 194.5,656.07 195,655.7 195.5,655.28 196,654.76 196.5,654.17 197,653.52 197.5,652.81 198,652.06 198.5,651.29 199,650.5 199.5,649.71 200,648.91 200.5,647.97 201,646.9 201.5,645.69 202,644.33 202.5,642.83 203,641.18 203.5,639.38 204,637.32 204.5,634.83 205,631.95 205.5,628.77 206,625.35 206.5,621.75 207,618.03 207.5,614.28 208,610.55 208.5,606.91 209,603.35 209.5,599.6 210,595.69 210.5,591.69 211,587.67 211.5,583.69 212,579.82 212.5,576.14 213,572.72 213.5,569.6 214,566.75 214.5,564.27 215,562.37 215.5,561.26 216,561.13 216.5,562.2 217,565.34 217.5,570.69 218,577.3 218.5,584.24 219,590.58 219.5,595.57 220,600.35 220.5,605.14 221,609.74 221.5,613.97 222,617.64 222.5,620.58 223,622.66 223.5,624.56 224,626.42 224.5,628.22 225,629.96 225.5,631.59 226,633.1 226.5,634.47 227,635.68 227.5,636.7 228,637.52 228.5,638.1 229,638.44 229.5,638.5 230,638.29 230.5,637.95 231,637.52 231.5,637.02 232,636.43 232.5,635.77 233,635.03 233.5,634.22 234,633.34 234.5,632.4 235,631.39 235.5,630.33 236,629.2 236.5,628.03 237,626.8 237.5,625.52 238,624.2 238.5,622.77 239,621.18 239.5,619.46 240,617.64 240.5,615.73 241,613.76 241.5,611.75 242,609.73 242.5,607.72 243,605.75 243.5,603.84 244,602.01 244.5,600.29 245,598.7 245.5,597.18 246,595.61 246.5,594.04 247,592.52 247.5,591.13 248,589.92 248.5,588.95 249,588.29 249.5,587.98 250,588.1 250.5,588.65 251,589.57 251.5,590.79 252,592.24 252.5,593.87 253,595.61 253.5,597.38 254,599.14 254.5,600.8 255,602.49 255.5,604.36 256,606.34 256.5,608.4 257,610.49 257.5,612.57 258,614.6 258.5,616.52 259,618.29 259.5,619.88 260,621.22 260.5,622.31 261,623.34 261.5,624.33 262,625.29 262.5,626.19 263,627.03 263.5,627.79 264,628.47 264.5,629.04 265,629.49 265.5,629.82 266,630.01 266.5,630.05 267,629.93 267.5,629.63 268,629.21 268.5,628.7 269,628.12 269.5,627.48 270,626.79 270.5,626.05 271,625.29 271.5,624.52 272,623.73 272.5,622.96 273,622.2 273.5,621.45 274,620.65 274.5,619.82 275,618.95 275.5,618.07 276,617.19 276.5,616.33 277,615.48 277.5,614.68 278,613.92 278.5,613.23 279,612.61 279.5,612.18 280,612.08 280.5,612.23 281,612.54 281.5,612.92 282,613.3 282.5,613.57 283,613.66 283.5,613.48 284,612.92 284.5,611.91 285,610.52 285.5,608.89 286,607.14 286.5,605.41 287,603.83 287.5,602.47 288,601.04 288.5,599.53 289,598.05 289.5,596.68 290,595.54 290.5,594.72 291,594.31 291.5,594.41 292,595.08 292.5,596.2 293,597.66 293.5,599.32 294,601.07 294.5,602.78 295,604.33 295.5,605.6 296,606.72 296.5,607.88 297,609.01 297.5,610.05 298,610.92 298.5,611.56 299,611.9 299.5,611.82 300,611.3 300.5,610.43 301,609.31 301.5,608.02 302,606.66 302.5,605.31 303,604.08 303.5,603.04 304,602.3 304.5,601.95 305,602.07 305.5,602.72 306,603.79 306.5,605.14 307,606.62 307.5,608.08 308,609.38 308.5,610.38 309,611.3 309.5,612.25 310,613.21 310.5,614.12 311,614.94 311.5,615.64 312,616.18 312.5,616.52 313,616.61 313.5,616.48 314,616.22 314.5,615.85 315,615.38 315.5,614.82 316,614.17 316.5,613.45 317,612.67 317.5,611.84 318,610.97 318.5,610.07 319,609.14 319.5,608.21 320,607.28 320.5,606.35 321,605.45 321.5,604.57 322,603.73 322.5,602.82 323,601.78 323.5,600.64 324,599.44 324.5,598.18 325,596.89 325.5,595.6 326,594.32 326.5,593.09 327,591.92 327.5,590.84 328,589.87 328.5,589.03 329,588.34 329.5,587.84 330,587.53 330.5,587.57 331,588.13 331.5,589.15 332,590.52 332.5,592.15 333,593.97 333.5,595.86 334,597.75 334.5,599.53 335,601.2 335.5,602.96 336,604.81 336.5,606.73 337,608.7 337.5,610.67 338,612.62 338.5,614.53 339,616.36 339.5,618.1 340,619.7 340.5,621.18 341,622.64 341.5,624.08 342,625.48 342.5,626.83 343,628.12 343.5,629.32 344,630.42 344.5,631.41 345,632.27 345.5,632.98 346,633.58 346.5,634.17 347,634.75 347.5,635.32 348,635.86 348.5,636.38 349,636.87 349.5,637.32 350,637.73 350.5,638.1 351,638.42 351.5,638.69 352,638.89 352.5,639.04 353,639.11 353.5,639.14 354,639.15 354.5,639.14 355,639.1 355.5,639.05 356,638.97 356.5,638.87 357,638.75 357.5,638.62 358,638.47 358.5,638.3 359,638.12 359.5,637.93 360,637.72 360.5,637.51 361,637.28 361.5,637.04 362,636.79 362.5,636.54 363,636.28 363.5,636.02 364,635.74 364.5,635.42 365,635.02 365.5,634.55 366,634.01 366.5,633.42 367,632.78 367.5,632.09 368,631.36 368.5,630.59 369,629.79 369.5,628.96 370,628.11 370.5,627.24 371,626.16 371.5,624.87 372,623.39 372.5,621.76 373,620 373.5,618.13 374,616.19 374.5,614.2 375,612.17 375.5,609.88 376,607.36 376.5,604.66 377,601.86 377.5,599.03 378,596.25 378.5,593.58 379,591.1 379.5,588.87 380,586.58 380.5,584.32 381,582.42 381.5,581.21 382,580.99 382.5,581.91 383,583.6 383.5,585.86 384,588.52 384.5,591.37 385,594.24 385.5,596.94 386,599.34 386.5,601.85 387,604.47 387.5,607.08 388,609.57 388.5,611.8 389,613.66 389.5,615.04 390,616.18 390.5,617.22 391,618.17 391.5,619.01 392,619.72 392.5,620.31 393,620.76 393.5,621.06 394,621.2 394.5,621.25 395,621.27 395.5,621.28 396,621.26 396.5,621.22 397,621.16 397.5,621.08 398,620.98 398.5,620.86 399,620.72 399.5,620.57 400,620.39 400.5,620.19 401,619.98 401.5,619.75 402,619.5 402.5,619.23 403,618.88 403.5,618.45 404,617.96 404.5,617.41 405,616.81 405.5,616.16 406,615.48 406.5,614.77 407,614.04 407.5,613.3 408,612.48 408.5,611.33 409,609.87 409.5,608.15 410,606.23 410.5,604.15 411,601.98 411.5,599.74 412,597.06 412.5,593.83 413,590.14 413.5,586.09 414,581.8 414.5,577.37 415,572.9 415.5,568.12 416,562.71 416.5,556.69 417,550.11 417.5,542.99 418,534.89 418.5,524.64 419,513.72 419.5,503.88 420,495.78 420.5,487.99 421,480.6 421.5,473.73 422,467.52 422.5,462.11 423,457.36 423.5,452.43 424,447.66 424.5,443.5 425,440.4 425.5,438.81 426,439.2 426.5,441.6 427,445.35 427.5,449.86 428,454.53 428.5,458.76 429,462.24 429.5,465.68 430,469.05 430.5,472.18 431,474.91 431.5,477.08 432,478.65 432.5,479.75 433,480.49 433.5,481.01 434,481.44 434.5,481.91 435,482.56 435.5,483.51 436,484.9 436.5,486.88 437,489.49 437.5,492.67 438,496.34 438.5,500.45 439,505.25 439.5,511.68 440,519.14 440.5,526.86 441,534.07 441.5,540 442,544.87 442.5,549.41 443,553.58 443.5,557.35 444,560.69 444.5,563.66 445,566.6 445.5,569.47 446,572.21 446.5,574.76 447,577.02 447.5,578.95 448,580.48 448.5,581.89 449,583.26 449.5,584.5 450,585.53 450.5,586.23 451,586.52 451.5,586.36 452,585.92 452.5,585.27 453,584.42 453.5,583.42 454,582.28 454.5,581.04 455,579.74 455.5,578.37 456,576.87 456.5,575.25 457,573.53 457.5,571.73 458,569.87 458.5,567.98 459,566.07 459.5,564.17 460,562.29 460.5,560.46 461,558.69 461.5,556.99 462,555.32 462.5,553.66 463,551.99 463.5,550.29 464,548.53 464.5,546.69 465,544.75 465.5,542.68 466,540.46 466.5,537.97 467,534.99 467.5,531.59 468,527.82 468.5,523.74 469,519.4 469.5,514.86 470,510.18 470.5,505.41 471,500.61 471.5,495.85 472,490.99 472.5,485.77 473,480.21 473.5,474.37 474,468.32 474.5,462.1" fill="none" stroke="#e01818" stroke-width="1.4" stroke-linejoin="round"/>
<rect x="211.9" y="410.7" width="2" height="256.6" fill="#1c6e1c"/>
<rect x="213.9" y="410.7" width="2.3" height="256.6" fill="#e0a11c"/>
<text x="26.9" y="423.3" font-size="37.6">(b)</text>
<text x="99.3" y="420.7" font-size="31" text-anchor="end">2</text>
<text x="99.3" y="680" font-size="31" text-anchor="end">0</text>
<clipPath id="o3"><path d="M82.5,520.1 H114.5 V547.2 H82.5 z M91,546.5 H94.4 V552.1 H91 z"/></clipPath>
<text x="83.5" y="551.1" font-size="31" clip-path="url(#o3)">1</text>
<text x="105.8" y="704.8" font-size="29" text-anchor="middle">0</text>
<text x="350.4" y="704.8" font-size="29" text-anchor="middle">2</text>
<text x="474.2" y="704.8" font-size="29" text-anchor="middle">3</text>
<clipPath id="o4"><path d="M221.2,675.8 H251.2 V701.2 H221.2 z M229.2,700.4 H232.4 V705.8 H229.2 z"/></clipPath>
<text x="222.2" y="704.8" font-size="29" clip-path="url(#o4)">1</text>
<text x="207" y="740.4" font-size="31.8">Energy (eV)</text>
<text transform="translate(64.1,554) rotate(-90)" font-size="40" fill="#0c1040" stroke="#0c1040" stroke-width="0.25">ε<tspan font-size="27" dy="9.6" dx="0.5">2</tspan></text>
<path d="M217.6,444.3 H236.3" stroke="#0e1838" stroke-width="3.3"/>
<path d="M241.3,444.3 l-8.8,-5 l2.2,5 l-2.2,5z" fill="#0e1838"/>
<text x="244.2" y="451.2" font-size="26.5">B<tspan font-size="16.5" dy="6.2" dx="0.2">II</tspan></text>
<path d="M214.5,471.3 H236.3" stroke="#0e1838" stroke-width="3.3"/>
<path d="M241.3,471.3 l-8.8,-5 l2.2,5 l-2.2,5z" fill="#0e1838"/>
<text x="244.2" y="479.4" font-size="26.5">D<tspan font-size="16.5" dy="6.2" dx="0.2">II</tspan></text>
<clipPath id="c540_83"><rect x="540" y="83.3" width="290.6" height="290.6"/></clipPath>
<g clip-path="url(#c540_83)" stroke="#fff" stroke-opacity="0.45" stroke-width="0.4" stroke-dasharray="1.2 0.8">
<rect x="540" y="83.3" width="290.6" height="290.6" fill="#2a788e" stroke="none"/>
<path fill="#3d4d8a" d="M517.53,82.58l5.26,-9.11h10.52l5.26,9.11l-5.26,9.11h-10.52zM517.53,155.44l5.26,-9.11h10.52l5.26,9.11l-5.26,9.11h-10.52zM517.53,301.16l5.26,-9.11h10.52l5.26,9.11l-5.26,9.11h-10.52zM517.53,374.02l5.26,-9.11h10.52l5.26,9.11l-5.26,9.11h-10.52zM533.31,109.9l5.26,-9.11h10.52l5.26,9.11l-5.26,9.11h-10.52zM533.31,128.12l5.26,-9.11h10.52l5.26,9.11l-5.26,9.11h-10.52zM533.31,328.48l5.26,-9.11h10.52l5.26,9.11l-5.26,9.11h-10.52zM533.31,346.7l5.26,-9.11h10.52l5.26,9.11l-5.26,9.11h-10.52zM627.96,219.19l5.26,-9.11h10.52l5.26,9.11l-5.26,9.11h-10.52zM627.96,237.41l5.26,-9.11h10.52l5.26,9.11l-5.26,9.11h-10.52zM643.73,191.87l5.26,-9.11h10.52l5.26,9.11l-5.26,9.11h-10.52zM643.73,264.73l5.26,-9.11h10.52l5.26,9.11l-5.26,9.11h-10.52zM659.51,182.76l5.26,-9.11h10.52l5.26,9.11l-5.26,9.11h-10.52zM659.51,273.84l5.26,-9.11h10.52l5.26,9.11l-5.26,9.11h-10.52zM691.06,182.76l5.26,-9.11h10.52l5.26,9.11l-5.26,9.11h-10.52zM691.06,273.84l5.26,-9.11h10.52l5.26,9.11l-5.26,9.11h-10.52zM706.83,191.87l5.26,-9.11h10.52l5.26,9.11l-5.26,9.11h-10.52zM706.83,264.73l5.26,-9.11h10.52l5.26,9.11l-5.26,9.11h-10.52zM722.61,219.19l5.26,-9.11h10.52l5.26,9.11l-5.26,9.11h-10.52zM722.61,237.41l5.26,-9.11h10.52l5.26,9.11l-5.26,9.11h-10.52zM817.26,109.9l5.26,-9.11h10.52l5.26,9.11l-5.26,9.11h-10.52zM817.26,128.12l5.26,-9.11h10.52l5.26,9.11l-5.26,9.11h-10.52zM817.26,328.48l5.26,-9.11h10.52l5.26,9.11l-5.26,9.11h-10.52zM817.26,346.7l5.26,-9.11h10.52l5.26,9.11l-5.26,9.11h-10.52zM833.03,82.58l5.26,-9.11h10.52l5.26,9.11l-5.26,9.11h-10.52zM833.03,155.44l5.26,-9.11h10.52l5.26,9.11l-5.26,9.11h-10.52zM833.03,301.16l5.26,-9.11h10.52l5.26,9.11l-5.26,9.11h-10.52zM833.03,374.02l5.26,-9.11h10.52l5.26,9.11l-5.26,9.11h-10.52z"/>
<path fill="#472e7c" d="M517.53,100.79l5.26,-9.11h10.52l5.26,9.11l-5.26,9.11h-10.52zM517.53,137.22l5.26,-9.11h10.52l5.26,9.11l-5.26,9.11h-10.52zM517.53,319.38l5.26,-9.11h10.52l5.26,9.11l-5.26,9.11h-10.52zM517.53,355.81l5.26,-9.11h10.52l5.26,9.11l-5.26,9.11h-10.52zM643.73,210.08l5.26,-9.11h10.52l5.26,9.11l-5.26,9.11h-10.52zM643.73,246.52l5.26,-9.11h10.52l5.26,9.11l-5.26,9.11h-10.52zM675.28,191.87l5.26,-9.11h10.52l5.26,9.11l-5.26,9.11h-10.52zM675.28,264.73l5.26,-9.11h10.52l5.26,9.11l-5.26,9.11h-10.52zM706.83,210.08l5.26,-9.11h10.52l5.26,9.11l-5.26,9.11h-10.52zM706.83,246.52l5.26,-9.11h10.52l5.26,9.11l-5.26,9.11h-10.52zM833.03,100.79l5.26,-9.11h10.52l5.26,9.11l-5.26,9.11h-10.52zM833.03,137.22l5.26,-9.11h10.52l5.26,9.11l-5.26,9.11h-10.52zM833.03,319.38l5.26,-9.11h10.52l5.26,9.11l-5.26,9.11h-10.52zM833.03,355.81l5.26,-9.11h10.52l5.26,9.11l-5.26,9.11h-10.52z"/>
<path fill="#482173" d="M517.53,119.01l5.26,-9.11h10.52l5.26,9.11l-5.26,9.11h-10.52zM517.53,337.59l5.26,-9.11h10.52l5.26,9.11l-5.26,9.11h-10.52zM643.73,228.3l5.26,-9.11h10.52l5.26,9.11l-5.26,9.11h-10.52zM659.51,200.98l5.26,-9.11h10.52l5.26,9.11l-5.26,9.11h-10.52zM659.51,255.62l5.26,-9.11h10.52l5.26,9.11l-5.26,9.11h-10.52zM691.06,200.98l5.26,-9.11h10.52l5.26,9.11l-5.26,9.11h-10.52zM691.06,255.62l5.26,-9.11h10.52l5.26,9.11l-5.26,9.11h-10.52zM706.83,228.3l5.26,-9.11h10.52l5.26,9.11l-5.26,9.11h-10.52zM833.03,119.01l5.26,-9.11h10.52l5.26,9.11l-5.26,9.11h-10.52zM833.03,337.59l5.26,-9.11h10.52l5.26,9.11l-5.26,9.11h-10.52z"/>
<path fill="#2c718e" d="M517.53,173.65l5.26,-9.11h10.52l5.26,9.11l-5.26,9.11h-10.52zM517.53,282.95l5.26,-9.11h10.52l5.26,9.11l-5.26,9.11h-10.52zM549.08,119.01l5.26,-9.11h10.52l5.26,9.11l-5.26,9.11h-10.52zM549.08,337.59l5.26,-9.11h10.52l5.26,9.11l-5.26,9.11h-10.52zM612.18,228.3l5.26,-9.11h10.52l5.26,9.11l-5.26,9.11h-10.52zM643.73,173.65l5.26,-9.11h10.52l5.26,9.11l-5.26,9.11h-10.52zM643.73,282.95l5.26,-9.11h10.52l5.26,9.11l-5.26,9.11h-10.52zM706.83,173.65l5.26,-9.11h10.52l5.26,9.11l-5.26,9.11h-10.52zM706.83,282.95l5.26,-9.11h10.52l5.26,9.11l-5.26,9.11h-10.52zM738.38,228.3l5.26,-9.11h10.52l5.26,9.11l-5.26,9.11h-10.52zM801.48,119.01l5.26,-9.11h10.52l5.26,9.11l-5.26,9.11h-10.52zM801.48,337.59l5.26,-9.11h10.52l5.26,9.11l-5.26,9.11h-10.52zM833.03,173.65l5.26,-9.11h10.52l5.26,9.11l-5.26,9.11h-10.52zM833.03,282.95l5.26,-9.11h10.52l5.26,9.11l-5.26,9.11h-10.52z"/>
<path fill="#20938c" d="M517.53,191.87l5.26,-9.11h10.52l5.26,9.11l-5.26,9.11h-10.52zM517.53,264.73l5.26,-9.11h10.52l5.26,9.11l-5.26,9.11h-10.52zM533.31,182.76l5.26,-9.11h10.52l5.26,9.11l-5.26,9.11h-10.52zM533.31,273.84l5.26,-9.11h10.52l5.26,9.11l-5.26,9.11h-10.52zM564.86,109.9l5.26,-9.11h10.52l5.26,9.11l-5.26,9.11h-10.52zM564.86,128.12l5.26,-9.11h10.52l5.26,9.11l-5.26,9.11h-10.52zM564.86,328.48l5.26,-9.11h10.52l5.26,9.11l-5.26,9.11h-10.52zM564.86,346.7l5.26,-9.11h10.52l5.26,9.11l-5.26,9.11h-10.52zM596.41,219.19l5.26,-9.11h10.52l5.26,9.11l-5.26,9.11h-10.52zM596.41,237.41l5.26,-9.11h10.52l5.26,9.11l-5.26,9.11h-10.52zM627.96,73.47l5.26,-9.11h10.52l5.26,9.11l-5.26,9.11h-10.52zM627.96,164.55l5.26,-9.11h10.52l5.26,9.11l-5.26,9.11h-10.52zM627.96,292.05l5.26,-9.11h10.52l5.26,9.11l-5.26,9.11h-10.52zM627.96,383.13l5.26,-9.11h10.52l5.26,9.11l-5.26,9.11h-10.52zM643.73,82.58l5.26,-9.11h10.52l5.26,9.11l-5.26,9.11h-10.52zM643.73,155.44l5.26,-9.11h10.52l5.26,9.11l-5.26,9.11h-10.52zM643.73,301.16l5.26,-9.11h10.52l5.26,9.11l-5.26,9.11h-10.52zM643.73,374.02l5.26,-9.11h10.52l5.26,9.11l-5.26,9.11h-10.52zM706.83,82.58l5.26,-9.11h10.52l5.26,9.11l-5.26,9.11h-10.52zM706.83,155.44l5.26,-9.11h10.52l5.26,9.11l-5.26,9.11h-10.52zM706.83,301.16l5.26,-9.11h10.52l5.26,9.11l-5.26,9.11h-10.52zM706.83,374.02l5.26,-9.11h10.52l5.26,9.11l-5.26,9.11h-10.52zM722.61,73.47l5.26,-9.11h10.52l5.26,9.11l-5.26,9.11h-10.52zM722.61,164.55l5.26,-9.11h10.52l5.26,9.11l-5.26,9.11h-10.52zM722.61,292.05l5.26,-9.11h10.52l5.26,9.11l-5.26,9.11h-10.52zM722.61,383.13l5.26,-9.11h10.52l5.26,9.11l-5.26,9.11h-10.52zM754.16,219.19l5.26,-9.11h10.52l5.26,9.11l-5.26,9.11h-10.52zM754.16,237.41l5.26,-9.11h10.52l5.26,9.11l-5.26,9.11h-10.52zM785.71,109.9l5.26,-9.11h10.52l5.26,9.11l-5.26,9.11h-10.52zM785.71,128.12l5.26,-9.11h10.52l5.26,9.11l-5.26,9.11h-10.52zM785.71,328.48l5.26,-9.11h10.52l5.26,9.11l-5.26,9.11h-10.52zM785.71,346.7l5.26,-9.11h10.52l5.26,9.11l-5.26,9.11h-10.52zM817.26,182.76l5.26,-9.11h10.52l5.26,9.11l-5.26,9.11h-10.52zM817.26,273.84l5.26,-9.11h10.52l5.26,9.11l-5.26,9.11h-10.52zM833.03,191.87l5.26,-9.11h10.52l5.26,9.11l-5.26,9.11h-10.52zM833.03,264.73l5.26,-9.11h10.52l5.26,9.11l-5.26,9.11h-10.52z"/>
<path fill="#2cb17e" d="M517.53,210.08l5.26,-9.11h10.52l5.26,9.11l-5.26,9.11h-10.52zM517.53,246.52l5.26,-9.11h10.52l5.26,9.11l-5.26,9.11h-10.52zM549.08,191.87l5.26,-9.11h10.52l5.26,9.11l-5.26,9.11h-10.52zM549.08,264.73l5.26,-9.11h10.52l5.26,9.11l-5.26,9.11h-10.52zM580.63,100.79l5.26,-9.11h10.52l5.26,9.11l-5.26,9.11h-10.52zM580.63,137.22l5.26,-9.11h10.52l5.26,9.11l-5.26,9.11h-10.52zM580.63,210.08l5.26,-9.11h10.52l5.26,9.11l-5.26,9.11h-10.52zM580.63,246.52l5.26,-9.11h10.52l5.26,9.11l-5.26,9.11h-10.52zM580.63,319.38l5.26,-9.11h10.52l5.26,9.11l-5.26,9.11h-10.52zM580.63,355.81l5.26,-9.11h10.52l5.26,9.11l-5.26,9.11h-10.52zM612.18,82.58l5.26,-9.11h10.52l5.26,9.11l-5.26,9.11h-10.52zM612.18,155.44l5.26,-9.11h10.52l5.26,9.11l-5.26,9.11h-10.52zM612.18,301.16l5.26,-9.11h10.52l5.26,9.11l-5.26,9.11h-10.52zM612.18,374.02l5.26,-9.11h10.52l5.26,9.11l-5.26,9.11h-10.52zM643.73,100.79l5.26,-9.11h10.52l5.26,9.11l-5.26,9.11h-10.52zM643.73,137.22l5.26,-9.11h10.52l5.26,9.11l-5.26,9.11h-10.52zM643.73,319.38l5.26,-9.11h10.52l5.26,9.11l-5.26,9.11h-10.52zM643.73,355.81l5.26,-9.11h10.52l5.26,9.11l-5.26,9.11h-10.52zM706.83,100.79l5.26,-9.11h10.52l5.26,9.11l-5.26,9.11h-10.52zM706.83,137.22l5.26,-9.11h10.52l5.26,9.11l-5.26,9.11h-10.52zM706.83,319.38l5.26,-9.11h10.52l5.26,9.11l-5.26,9.11h-10.52zM706.83,355.81l5.26,-9.11h10.52l5.26,9.11l-5.26,9.11h-10.52zM738.38,82.58l5.26,-9.11h10.52l5.26,9.11l-5.26,9.11h-10.52zM738.38,155.44l5.26,-9.11h10.52l5.26,9.11l-5.26,9.11h-10.52zM738.38,301.16l5.26,-9.11h10.52l5.26,9.11l-5.26,9.11h-10.52zM738.38,374.02l5.26,-9.11h10.52l5.26,9.11l-5.26,9.11h-10.52zM769.93,100.79l5.26,-9.11h10.52l5.26,9.11l-5.26,9.11h-10.52zM769.93,137.22l5.26,-9.11h10.52l5.26,9.11l-5.26,9.11h-10.52zM769.93,210.08l5.26,-9.11h10.52l5.26,9.11l-5.26,9.11h-10.52zM769.93,246.52l5.26,-9.11h10.52l5.26,9.11l-5.26,9.11h-10.52zM769.93,319.38l5.26,-9.11h10.52l5.26,9.11l-5.26,9.11h-10.52zM769.93,355.81l5.26,-9.11h10.52l5.26,9.11l-5.26,9.11h-10.52zM801.48,191.87l5.26,-9.11h10.52l5.26,9.11l-5.26,9.11h-10.52zM801.48,264.73l5.26,-9.11h10.52l5.26,9.11l-5.26,9.11h-10.52zM833.03,210.08l5.26,-9.11h10.52l5.26,9.11l-5.26,9.11h-10.52zM833.03,246.52l5.26,-9.11h10.52l5.26,9.11l-5.26,9.11h-10.52z"/>
<path fill="#44bf70" d="M517.53,228.3l5.26,-9.11h10.52l5.26,9.11l-5.26,9.11h-10.52zM564.86,200.98l5.26,-9.11h10.52l5.26,9.11l-5.26,9.11h-10.52zM564.86,255.62l5.26,-9.11h10.52l5.26,9.11l-5.26,9.11h-10.52zM596.41,91.68l5.26,-9.11h10.52l5.26,9.11l-5.26,9.11h-10.52zM596.41,146.33l5.26,-9.11h10.52l5.26,9.11l-5.26,9.11h-10.52zM596.41,310.27l5.26,-9.11h10.52l5.26,9.11l-5.26,9.11h-10.52zM596.41,364.92l5.26,-9.11h10.52l5.26,9.11l-5.26,9.11h-10.52zM643.73,119.01l5.26,-9.11h10.52l5.26,9.11l-5.26,9.11h-10.52zM643.73,337.59l5.26,-9.11h10.52l5.26,9.11l-5.26,9.11h-10.52zM706.83,119.01l5.26,-9.11h10.52l5.26,9.11l-5.26,9.11h-10.52zM706.83,337.59l5.26,-9.11h10.52l5.26,9.11l-5.26,9.11h-10.52zM754.16,91.68l5.26,-9.11h10.52l5.26,9.11l-5.26,9.11h-10.52zM754.16,146.33l5.26,-9.11h10.52l5.26,9.11l-5.26,9.11h-10.52zM754.16,310.27l5.26,-9.11h10.52l5.26,9.11l-5.26,9.11h-10.52zM754.16,364.92l5.26,-9.11h10.52l5.26,9.11l-5.26,9.11h-10.52zM785.71,200.98l5.26,-9.11h10.52l5.26,9.11l-5.26,9.11h-10.52zM785.71,255.62l5.26,-9.11h10.52l5.26,9.11l-5.26,9.11h-10.52zM833.03,228.3l5.26,-9.11h10.52l5.26,9.11l-5.26,9.11h-10.52z"/>
<path fill="#277e8e" d="M533.31,73.47l5.26,-9.11h10.52l5.26,9.11l-5.26,9.11h-10.52zM533.31,164.55l5.26,-9.11h10.52l5.26,9.11l-5.26,9.11h-10.52zM533.31,292.05l5.26,-9.11h10.52l5.26,9.11l-5.26,9.11h-10.52zM533.31,383.13l5.26,-9.11h10.52l5.26,9.11l-5.26,9.11h-10.52zM549.08,100.79l5.26,-9.11h10.52l5.26,9.11l-5.26,9.11h-10.52zM549.08,137.22l5.26,-9.11h10.52l5.26,9.11l-5.26,9.11h-10.52zM549.08,319.38l5.26,-9.11h10.52l5.26,9.11l-5.26,9.11h-10.52zM549.08,355.81l5.26,-9.11h10.52l5.26,9.11l-5.26,9.11h-10.52zM612.18,210.08l5.26,-9.11h10.52l5.26,9.11l-5.26,9.11h-10.52zM612.18,246.52l5.26,-9.11h10.52l5.26,9.11l-5.26,9.11h-10.52zM627.96,182.76l5.26,-9.11h10.52l5.26,9.11l-5.26,9.11h-10.52zM627.96,273.84l5.26,-9.11h10.52l5.26,9.11l-5.26,9.11h-10.52zM659.51,73.47l5.26,-9.11h10.52l5.26,9.11l-5.26,9.11h-10.52zM659.51,164.55l5.26,-9.11h10.52l5.26,9.11l-5.26,9.11h-10.52zM659.51,292.05l5.26,-9.11h10.52l5.26,9.11l-5.26,9.11h-10.52zM659.51,383.13l5.26,-9.11h10.52l5.26,9.11l-5.26,9.11h-10.52zM691.06,73.47l5.26,-9.11h10.52l5.26,9.11l-5.26,9.11h-10.52zM691.06,164.55l5.26,-9.11h10.52l5.26,9.11l-5.26,9.11h-10.52zM691.06,292.05l5.26,-9.11h10.52l5.26,9.11l-5.26,9.11h-10.52zM691.06,383.13l5.26,-9.11h10.52l5.26,9.11l-5.26,9.11h-10.52zM722.61,182.76l5.26,-9.11h10.52l5.26,9.11l-5.26,9.11h-10.52zM722.61,273.84l5.26,-9.11h10.52l5.26,9.11l-5.26,9.11h-10.52zM738.38,210.08l5.26,-9.11h10.52l5.26,9.11l-5.26,9.11h-10.52zM738.38,246.52l5.26,-9.11h10.52l5.26,9.11l-5.26,9.11h-10.52zM801.48,100.79l5.26,-9.11h10.52l5.26,9.11l-5.26,9.11h-10.52zM801.48,137.22l5.26,-9.11h10.52l5.26,9.11l-5.26,9.11h-10.52zM801.48,319.38l5.26,-9.11h10.52l5.26,9.11l-5.26,9.11h-10.52zM801.48,355.81l5.26,-9.11h10.52l5.26,9.11l-5.26,9.11h-10.52zM817.26,73.47l5.26,-9.11h10.52l5.26,9.11l-5.26,9.11h-10.52zM817.26,164.55l5.26,-9.11h10.52l5.26,9.11l-5.26,9.11h-10.52zM817.26,292.05l5.26,-9.11h10.52l5.26,9.11l-5.26,9.11h-10.52zM817.26,383.13l5.26,-9.11h10.52l5.26,9.11l-5.26,9.11h-10.52z"/>
<path fill="#33628d" d="M533.31,91.68l5.26,-9.11h10.52l5.26,9.11l-5.26,9.11h-10.52zM533.31,146.33l5.26,-9.11h10.52l5.26,9.11l-5.26,9.11h-10.52zM533.31,310.27l5.26,-9.11h10.52l5.26,9.11l-5.26,9.11h-10.52zM533.31,364.92l5.26,-9.11h10.52l5.26,9.11l-5.26,9.11h-10.52zM627.96,200.98l5.26,-9.11h10.52l5.26,9.11l-5.26,9.11h-10.52zM627.96,255.62l5.26,-9.11h10.52l5.26,9.11l-5.26,9.11h-10.52zM675.28,173.65l5.26,-9.11h10.52l5.26,9.11l-5.26,9.11h-10.52zM675.28,282.95l5.26,-9.11h10.52l5.26,9.11l-5.26,9.11h-10.52zM722.61,200.98l5.26,-9.11h10.52l5.26,9.11l-5.26,9.11h-10.52zM722.61,255.62l5.26,-9.11h10.52l5.26,9.11l-5.26,9.11h-10.52zM817.26,91.68l5.26,-9.11h10.52l5.26,9.11l-5.26,9.11h-10.52zM817.26,146.33l5.26,-9.11h10.52l5.26,9.11l-5.26,9.11h-10.52zM817.26,310.27l5.26,-9.11h10.52l5.26,9.11l-5.26,9.11h-10.52zM817.26,364.92l5.26,-9.11h10.52l5.26,9.11l-5.26,9.11h-10.52z"/>
<path fill="#1e9b8a" d="M533.31,200.98l5.26,-9.11h10.52l5.26,9.11l-5.26,9.11h-10.52zM533.31,255.62l5.26,-9.11h10.52l5.26,9.11l-5.26,9.11h-10.52zM580.63,119.01l5.26,-9.11h10.52l5.26,9.11l-5.26,9.11h-10.52zM580.63,228.3l5.26,-9.11h10.52l5.26,9.11l-5.26,9.11h-10.52zM580.63,337.59l5.26,-9.11h10.52l5.26,9.11l-5.26,9.11h-10.52zM627.96,91.68l5.26,-9.11h10.52l5.26,9.11l-5.26,9.11h-10.52zM627.96,146.33l5.26,-9.11h10.52l5.26,9.11l-5.26,9.11h-10.52zM627.96,310.27l5.26,-9.11h10.52l5.26,9.11l-5.26,9.11h-10.52zM627.96,364.92l5.26,-9.11h10.52l5.26,9.11l-5.26,9.11h-10.52zM722.61,91.68l5.26,-9.11h10.52l5.26,9.11l-5.26,9.11h-10.52zM722.61,146.33l5.26,-9.11h10.52l5.26,9.11l-5.26,9.11h-10.52zM722.61,310.27l5.26,-9.11h10.52l5.26,9.11l-5.26,9.11h-10.52zM722.61,364.92l5.26,-9.11h10.52l5.26,9.11l-5.26,9.11h-10.52zM769.93,119.01l5.26,-9.11h10.52l5.26,9.11l-5.26,9.11h-10.52zM769.93,228.3l5.26,-9.11h10.52l5.26,9.11l-5.26,9.11h-10.52zM769.93,337.59l5.26,-9.11h10.52l5.26,9.11l-5.26,9.11h-10.52zM817.26,200.98l5.26,-9.11h10.52l5.26,9.11l-5.26,9.11h-10.52zM817.26,255.62l5.26,-9.11h10.52l5.26,9.11l-5.26,9.11h-10.52z"/>
<path fill="#1e9c89" d="M533.31,219.19l5.26,-9.11h10.52l5.26,9.11l-5.26,9.11h-10.52zM533.31,237.41l5.26,-9.11h10.52l5.26,9.11l-5.26,9.11h-10.52zM549.08,82.58l5.26,-9.11h10.52l5.26,9.11l-5.26,9.11h-10.52zM549.08,155.44l5.26,-9.11h10.52l5.26,9.11l-5.26,9.11h-10.52zM549.08,210.08l5.26,-9.11h10.52l5.26,9.11l-5.26,9.11h-10.52zM549.08,246.52l5.26,-9.11h10.52l5.26,9.11l-5.26,9.11h-10.52zM549.08,301.16l5.26,-9.11h10.52l5.26,9.11l-5.26,9.11h-10.52zM549.08,374.02l5.26,-9.11h10.52l5.26,9.11l-5.26,9.11h-10.52zM564.86,219.19l5.26,-9.11h10.52l5.26,9.11l-5.26,9.11h-10.52zM564.86,237.41l5.26,-9.11h10.52l5.26,9.11l-5.26,9.11h-10.52zM596.41,109.9l5.26,-9.11h10.52l5.26,9.11l-5.26,9.11h-10.52zM596.41,128.12l5.26,-9.11h10.52l5.26,9.11l-5.26,9.11h-10.52zM596.41,328.48l5.26,-9.11h10.52l5.26,9.11l-5.26,9.11h-10.52zM596.41,346.7l5.26,-9.11h10.52l5.26,9.11l-5.26,9.11h-10.52zM612.18,100.79l5.26,-9.11h10.52l5.26,9.11l-5.26,9.11h-10.52zM612.18,137.22l5.26,-9.11h10.52l5.26,9.11l-5.26,9.11h-10.52zM612.18,191.87l5.26,-9.11h10.52l5.26,9.11l-5.26,9.11h-10.52zM612.18,264.73l5.26,-9.11h10.52l5.26,9.11l-5.26,9.11h-10.52zM612.18,319.38l5.26,-9.11h10.52l5.26,9.11l-5.26,9.11h-10.52zM612.18,355.81l5.26,-9.11h10.52l5.26,9.11l-5.26,9.11h-10.52zM627.96,109.9l5.26,-9.11h10.52l5.26,9.11l-5.26,9.11h-10.52zM627.96,128.12l5.26,-9.11h10.52l5.26,9.11l-5.26,9.11h-10.52zM627.96,328.48l5.26,-9.11h10.52l5.26,9.11l-5.26,9.11h-10.52zM627.96,346.7l5.26,-9.11h10.52l5.26,9.11l-5.26,9.11h-10.52zM675.28,82.58l5.26,-9.11h10.52l5.26,9.11l-5.26,9.11h-10.52zM675.28,155.44l5.26,-9.11h10.52l5.26,9.11l-5.26,9.11h-10.52zM675.28,301.16l5.26,-9.11h10.52l5.26,9.11l-5.26,9.11h-10.52zM675.28,374.02l5.26,-9.11h10.52l5.26,9.11l-5.26,9.11h-10.52zM722.61,109.9l5.26,-9.11h10.52l5.26,9.11l-5.26,9.11h-10.52zM722.61,128.12l5.26,-9.11h10.52l5.26,9.11l-5.26,9.11h-10.52zM722.61,328.48l5.26,-9.11h10.52l5.26,9.11l-5.26,9.11h-10.52zM722.61,346.7l5.26,-9.11h10.52l5.26,9.11l-5.26,9.11h-10.52zM738.38,100.79l5.26,-9.11h10.52l5.26,9.11l-5.26,9.11h-10.52zM738.38,137.22l5.26,-9.11h10.52l5.26,9.11l-5.26,9.11h-10.52zM738.38,191.87l5.26,-9.11h10.52l5.26,9.11l-5.26,9.11h-10.52zM738.38,264.73l5.26,-9.11h10.52l5.26,9.11l-5.26,9.11h-10.52zM738.38,319.38l5.26,-9.11h10.52l5.26,9.11l-5.26,9.11h-10.52zM738.38,355.81l5.26,-9.11h10.52l5.26,9.11l-5.26,9.11h-10.52zM754.16,109.9l5.26,-9.11h10.52l5.26,9.11l-5.26,9.11h-10.52zM754.16,128.12l5.26,-9.11h10.52l5.26,9.11l-5.26,9.11h-10.52zM754.16,328.48l5.26,-9.11h10.52l5.26,9.11l-5.26,9.11h-10.52zM754.16,346.7l5.26,-9.11h10.52l5.26,9.11l-5.26,9.11h-10.52zM785.71,219.19l5.26,-9.11h10.52l5.26,9.11l-5.26,9.11h-10.52zM785.71,237.41l5.26,-9.11h10.52l5.26,9.11l-5.26,9.11h-10.52zM801.48,82.58l5.26,-9.11h10.52l5.26,9.11l-5.26,9.11h-10.52zM801.48,155.44l5.26,-9.11h10.52l5.26,9.11l-5.26,9.11h-10.52zM801.48,210.08l5.26,-9.11h10.52l5.26,9.11l-5.26,9.11h-10.52zM801.48,246.52l5.26,-9.11h10.52l5.26,9.11l-5.26,9.11h-10.52zM801.48,301.16l5.26,-9.11h10.52l5.26,9.11l-5.26,9.11h-10.52zM801.48,374.02l5.26,-9.11h10.52l5.26,9.11l-5.26,9.11h-10.52zM817.26,219.19l5.26,-9.11h10.52l5.26,9.11l-5.26,9.11h-10.52zM817.26,237.41l5.26,-9.11h10.52l5.26,9.11l-5.26,9.11h-10.52z"/>
<path fill="#31b57b" d="M549.08,173.65l5.26,-9.11h10.52l5.26,9.11l-5.26,9.11h-10.52zM549.08,282.95l5.26,-9.11h10.52l5.26,9.11l-5.26,9.11h-10.52zM564.86,91.68l5.26,-9.11h10.52l5.26,9.11l-5.26,9.11h-10.52zM564.86,146.33l5.26,-9.11h10.52l5.26,9.11l-5.26,9.11h-10.52zM564.86,310.27l5.26,-9.11h10.52l5.26,9.11l-5.26,9.11h-10.52zM564.86,364.92l5.26,-9.11h10.52l5.26,9.11l-5.26,9.11h-10.52zM596.41,200.98l5.26,-9.11h10.52l5.26,9.11l-5.26,9.11h-10.52zM596.41,255.62l5.26,-9.11h10.52l5.26,9.11l-5.26,9.11h-10.52zM612.18,173.65l5.26,-9.11h10.52l5.26,9.11l-5.26,9.11h-10.52zM612.18,282.95l5.26,-9.11h10.52l5.26,9.11l-5.26,9.11h-10.52zM659.51,91.68l5.26,-9.11h10.52l5.26,9.11l-5.26,9.11h-10.52zM659.51,146.33l5.26,-9.11h10.52l5.26,9.11l-5.26,9.11h-10.52zM659.51,310.27l5.26,-9.11h10.52l5.26,9.11l-5.26,9.11h-10.52zM659.51,364.92l5.26,-9.11h10.52l5.26,9.11l-5.26,9.11h-10.52zM691.06,91.68l5.26,-9.11h10.52l5.26,9.11l-5.26,9.11h-10.52zM691.06,146.33l5.26,-9.11h10.52l5.26,9.11l-5.26,9.11h-10.52zM691.06,310.27l5.26,-9.11h10.52l5.26,9.11l-5.26,9.11h-10.52zM691.06,364.92l5.26,-9.11h10.52l5.26,9.11l-5.26,9.11h-10.52zM738.38,173.65l5.26,-9.11h10.52l5.26,9.11l-5.26,9.11h-10.52zM738.38,282.95l5.26,-9.11h10.52l5.26,9.11l-5.26,9.11h-10.52zM754.16,200.98l5.26,-9.11h10.52l5.26,9.11l-5.26,9.11h-10.52zM754.16,255.62l5.26,-9.11h10.52l5.26,9.11l-5.26,9.11h-10.52zM785.71,91.68l5.26,-9.11h10.52l5.26,9.11l-5.26,9.11h-10.52zM785.71,146.33l5.26,-9.11h10.52l5.26,9.11l-5.26,9.11h-10.52zM785.71,310.27l5.26,-9.11h10.52l5.26,9.11l-5.26,9.11h-10.52zM785.71,364.92l5.26,-9.11h10.52l5.26,9.11l-5.26,9.11h-10.52zM801.48,173.65l5.26,-9.11h10.52l5.26,9.11l-5.26,9.11h-10.52zM801.48,282.95l5.26,-9.11h10.52l5.26,9.11l-5.26,9.11h-10.52z"/>
<path fill="#21918c" d="M549.08,228.3l5.26,-9.11h10.52l5.26,9.11l-5.26,9.11h-10.52zM612.18,119.01l5.26,-9.11h10.52l5.26,9.11l-5.26,9.11h-10.52zM612.18,337.59l5.26,-9.11h10.52l5.26,9.11l-5.26,9.11h-10.52zM738.38,119.01l5.26,-9.11h10.52l5.26,9.11l-5.26,9.11h-10.52zM738.38,337.59l5.26,-9.11h10.52l5.26,9.11l-5.26,9.11h-10.52zM801.48,228.3l5.26,-9.11h10.52l5.26,9.11l-5.26,9.11h-10.52z"/>
<path fill="#8ed645" d="M564.86,73.47l5.26,-9.11h10.52l5.26,9.11l-5.26,9.11h-10.52zM564.86,164.55l5.26,-9.11h10.52l5.26,9.11l-5.26,9.11h-10.52zM564.86,292.05l5.26,-9.11h10.52l5.26,9.11l-5.26,9.11h-10.52zM564.86,383.13l5.26,-9.11h10.52l5.26,9.11l-5.26,9.11h-10.52zM596.41,182.76l5.26,-9.11h10.52l5.26,9.11l-5.26,9.11h-10.52zM596.41,273.84l5.26,-9.11h10.52l5.26,9.11l-5.26,9.11h-10.52zM675.28,100.79l5.26,-9.11h10.52l5.26,9.11l-5.26,9.11h-10.52zM675.28,137.22l5.26,-9.11h10.52l5.26,9.11l-5.26,9.11h-10.52zM675.28,319.38l5.26,-9.11h10.52l5.26,9.11l-5.26,9.11h-10.52zM675.28,355.81l5.26,-9.11h10.52l5.26,9.11l-5.26,9.11h-10.52zM754.16,182.76l5.26,-9.11h10.52l5.26,9.11l-5.26,9.11h-10.52zM754.16,273.84l5.26,-9.11h10.52l5.26,9.11l-5.26,9.11h-10.52zM785.71,73.47l5.26,-9.11h10.52l5.26,9.11l-5.26,9.11h-10.52zM785.71,164.55l5.26,-9.11h10.52l5.26,9.11l-5.26,9.11h-10.52zM785.71,292.05l5.26,-9.11h10.52l5.26,9.11l-5.26,9.11h-10.52zM785.71,383.13l5.26,-9.11h10.52l5.26,9.11l-5.26,9.11h-10.52z"/>
<path fill="#9dd93b" d="M564.86,182.76l5.26,-9.11h10.52l5.26,9.11l-5.26,9.11h-10.52zM564.86,273.84l5.26,-9.11h10.52l5.26,9.11l-5.26,9.11h-10.52zM580.63,82.58l5.26,-9.11h10.52l5.26,9.11l-5.26,9.11h-10.52zM580.63,155.44l5.26,-9.11h10.52l5.26,9.11l-5.26,9.11h-10.52zM580.63,191.87l5.26,-9.11h10.52l5.26,9.11l-5.26,9.11h-10.52zM580.63,264.73l5.26,-9.11h10.52l5.26,9.11l-5.26,9.11h-10.52zM580.63,301.16l5.26,-9.11h10.52l5.26,9.11l-5.26,9.11h-10.52zM580.63,374.02l5.26,-9.11h10.52l5.26,9.11l-5.26,9.11h-10.52zM596.41,73.47l5.26,-9.11h10.52l5.26,9.11l-5.26,9.11h-10.52zM596.41,164.55l5.26,-9.11h10.52l5.26,9.11l-5.26,9.11h-10.52zM596.41,292.05l5.26,-9.11h10.52l5.26,9.11l-5.26,9.11h-10.52zM596.41,383.13l5.26,-9.11h10.52l5.26,9.11l-5.26,9.11h-10.52zM659.51,109.9l5.26,-9.11h10.52l5.26,9.11l-5.26,9.11h-10.52zM659.51,128.12l5.26,-9.11h10.52l5.26,9.11l-5.26,9.11h-10.52zM659.51,328.48l5.26,-9.11h10.52l5.26,9.11l-5.26,9.11h-10.52zM659.51,346.7l5.26,-9.11h10.52l5.26,9.11l-5.26,9.11h-10.52zM691.06,109.9l5.26,-9.11h10.52l5.26,9.11l-5.26,9.11h-10.52zM691.06,128.12l5.26,-9.11h10.52l5.26,9.11l-5.26,9.11h-10.52zM691.06,328.48l5.26,-9.11h10.52l5.26,9.11l-5.26,9.11h-10.52zM691.06,346.7l5.26,-9.11h10.52l5.26,9.11l-5.26,9.11h-10.52zM754.16,73.47l5.26,-9.11h10.52l5.26,9.11l-5.26,9.11h-10.52zM754.16,164.55l5.26,-9.11h10.52l5.26,9.11l-5.26,9.11h-10.52zM754.16,292.05l5.26,-9.11h10.52l5.26,9.11l-5.26,9.11h-10.52zM754.16,383.13l5.26,-9.11h10.52l5.26,9.11l-5.26,9.11h-10.52zM769.93,82.58l5.26,-9.11h10.52l5.26,9.11l-5.26,9.11h-10.52zM769.93,155.44l5.26,-9.11h10.52l5.26,9.11l-5.26,9.11h-10.52zM769.93,191.87l5.26,-9.11h10.52l5.26,9.11l-5.26,9.11h-10.52zM769.93,264.73l5.26,-9.11h10.52l5.26,9.11l-5.26,9.11h-10.52zM769.93,301.16l5.26,-9.11h10.52l5.26,9.11l-5.26,9.11h-10.52zM769.93,374.02l5.26,-9.11h10.52l5.26,9.11l-5.26,9.11h-10.52zM785.71,182.76l5.26,-9.11h10.52l5.26,9.11l-5.26,9.11h-10.52zM785.71,273.84l5.26,-9.11h10.52l5.26,9.11l-5.26,9.11h-10.52z"/>
<path fill="#efe51c" d="M580.63,173.65l5.26,-9.11h10.52l5.26,9.11l-5.26,9.11h-10.52zM580.63,282.95l5.26,-9.11h10.52l5.26,9.11l-5.26,9.11h-10.52zM675.28,119.01l5.26,-9.11h10.52l5.26,9.11l-5.26,9.11h-10.52zM675.28,337.59l5.26,-9.11h10.52l5.26,9.11l-5.26,9.11h-10.52zM769.93,173.65l5.26,-9.11h10.52l5.26,9.11l-5.26,9.11h-10.52zM769.93,282.95l5.26,-9.11h10.52l5.26,9.11l-5.26,9.11h-10.52z"/>
<path fill="#460a5d" d="M659.51,219.19l5.26,-9.11h10.52l5.26,9.11l-5.26,9.11h-10.52zM659.51,237.41l5.26,-9.11h10.52l5.26,9.11l-5.26,9.11h-10.52zM675.28,210.08l5.26,-9.11h10.52l5.26,9.11l-5.26,9.11h-10.52zM675.28,246.52l5.26,-9.11h10.52l5.26,9.11l-5.26,9.11h-10.52zM691.06,219.19l5.26,-9.11h10.52l5.26,9.11l-5.26,9.11h-10.52zM691.06,237.41l5.26,-9.11h10.52l5.26,9.11l-5.26,9.11h-10.52z"/>
<path fill="#440154" d="M675.28,228.3l5.26,-9.11h10.52l5.26,9.11l-5.26,9.11h-10.52z"/>
</g>
<polygon points="812.0,228.3 748.9,119.0 622.7,119.0 559.6,228.3 622.7,337.6 748.9,337.6" fill="none" stroke="#000" stroke-width="2.6" stroke-linejoin="miter"/>
<rect x="553.5" y="92.8" width="47.5" height="41" fill="#fff"/>
<text x="566.1" y="122.5" font-size="26" fill="#d40a0a">B<tspan font-size="16.5" dy="6.2" dx="0.1">I</tspan></text>
<clipPath id="c854_83"><rect x="854" y="83.3" width="290.6" height="290.6"/></clipPath>
<g clip-path="url(#c854_83)" stroke="#fff" stroke-opacity="0.45" stroke-width="0.4" stroke-dasharray="1.2 0.8">
<rect x="854" y="83.3" width="290.6" height="290.6" fill="#2a788e" stroke="none"/>
<path fill="#26828e" d="M831.53,82.58l5.26,-9.11h10.52l5.26,9.11l-5.26,9.11h-10.52zM831.53,155.44l5.26,-9.11h10.52l5.26,9.11l-5.26,9.11h-10.52zM831.53,301.16l5.26,-9.11h10.52l5.26,9.11l-5.26,9.11h-10.52zM831.53,374.02l5.26,-9.11h10.52l5.26,9.11l-5.26,9.11h-10.52zM847.31,109.9l5.26,-9.11h10.52l5.26,9.11l-5.26,9.11h-10.52zM847.31,128.12l5.26,-9.11h10.52l5.26,9.11l-5.26,9.11h-10.52zM847.31,328.48l5.26,-9.11h10.52l5.26,9.11l-5.26,9.11h-10.52zM847.31,346.7l5.26,-9.11h10.52l5.26,9.11l-5.26,9.11h-10.52zM941.96,219.19l5.26,-9.11h10.52l5.26,9.11l-5.26,9.11h-10.52zM941.96,237.41l5.26,-9.11h10.52l5.26,9.11l-5.26,9.11h-10.52zM957.73,191.87l5.26,-9.11h10.52l5.26,9.11l-5.26,9.11h-10.52zM957.73,264.73l5.26,-9.11h10.52l5.26,9.11l-5.26,9.11h-10.52zM973.51,182.76l5.26,-9.11h10.52l5.26,9.11l-5.26,9.11h-10.52zM973.51,273.84l5.26,-9.11h10.52l5.26,9.11l-5.26,9.11h-10.52zM1005.06,182.76l5.26,-9.11h10.52l5.26,9.11l-5.26,9.11h-10.52zM1005.06,273.84l5.26,-9.11h10.52l5.26,9.11l-5.26,9.11h-10.52zM1020.83,191.87l5.26,-9.11h10.52l5.26,9.11l-5.26,9.11h-10.52zM1020.83,264.73l5.26,-9.11h10.52l5.26,9.11l-5.26,9.11h-10.52zM1036.61,219.19l5.26,-9.11h10.52l5.26,9.11l-5.26,9.11h-10.52zM1036.61,237.41l5.26,-9.11h10.52l5.26,9.11l-5.26,9.11h-10.52zM1131.26,109.9l5.26,-9.11h10.52l5.26,9.11l-5.26,9.11h-10.52zM1131.26,128.12l5.26,-9.11h10.52l5.26,9.11l-5.26,9.11h-10.52zM1131.26,328.48l5.26,-9.11h10.52l5.26,9.11l-5.26,9.11h-10.52zM1131.26,346.7l5.26,-9.11h10.52l5.26,9.11l-5.26,9.11h-10.52zM1147.03,82.58l5.26,-9.11h10.52l5.26,9.11l-5.26,9.11h-10.52zM1147.03,155.44l5.26,-9.11h10.52l5.26,9.11l-5.26,9.11h-10.52zM1147.03,301.16l5.26,-9.11h10.52l5.26,9.11l-5.26,9.11h-10.52zM1147.03,374.02l5.26,-9.11h10.52l5.26,9.11l-5.26,9.11h-10.52z"/>
<path fill="#365c8d" d="M831.53,100.79l5.26,-9.11h10.52l5.26,9.11l-5.26,9.11h-10.52zM831.53,137.22l5.26,-9.11h10.52l5.26,9.11l-5.26,9.11h-10.52zM831.53,319.38l5.26,-9.11h10.52l5.26,9.11l-5.26,9.11h-10.52zM831.53,355.81l5.26,-9.11h10.52l5.26,9.11l-5.26,9.11h-10.52zM957.73,210.08l5.26,-9.11h10.52l5.26,9.11l-5.26,9.11h-10.52zM957.73,246.52l5.26,-9.11h10.52l5.26,9.11l-5.26,9.11h-10.52zM989.28,191.87l5.26,-9.11h10.52l5.26,9.11l-5.26,9.11h-10.52zM989.28,264.73l5.26,-9.11h10.52l5.26,9.11l-5.26,9.11h-10.52zM1020.83,210.08l5.26,-9.11h10.52l5.26,9.11l-5.26,9.11h-10.52zM1020.83,246.52l5.26,-9.11h10.52l5.26,9.11l-5.26,9.11h-10.52zM1147.03,100.79l5.26,-9.11h10.52l5.26,9.11l-5.26,9.11h-10.52zM1147.03,137.22l5.26,-9.11h10.52l5.26,9.11l-5.26,9.11h-10.52zM1147.03,319.38l5.26,-9.11h10.52l5.26,9.11l-5.26,9.11h-10.52zM1147.03,355.81l5.26,-9.11h10.52l5.26,9.11l-5.26,9.11h-10.52z"/>
<path fill="#3e4a89" d="M831.53,119.01l5.26,-9.11h10.52l5.26,9.11l-5.26,9.11h-10.52zM831.53,337.59l5.26,-9.11h10.52l5.26,9.11l-5.26,9.11h-10.52zM957.73,228.3l5.26,-9.11h10.52l5.26,9.11l-5.26,9.11h-10.52zM973.51,200.98l5.26,-9.11h10.52l5.26,9.11l-5.26,9.11h-10.52zM973.51,255.62l5.26,-9.11h10.52l5.26,9.11l-5.26,9.11h-10.52zM1005.06,200.98l5.26,-9.11h10.52l5.26,9.11l-5.26,9.11h-10.52zM1005.06,255.62l5.26,-9.11h10.52l5.26,9.11l-5.26,9.11h-10.52zM1020.83,228.3l5.26,-9.11h10.52l5.26,9.11l-5.26,9.11h-10.52zM1147.03,119.01l5.26,-9.11h10.52l5.26,9.11l-5.26,9.11h-10.52zM1147.03,337.59l5.26,-9.11h10.52l5.26,9.11l-5.26,9.11h-10.52z"/>
<path fill="#25ab82" d="M831.53,173.65l5.26,-9.11h10.52l5.26,9.11l-5.26,9.11h-10.52zM831.53,282.95l5.26,-9.11h10.52l5.26,9.11l-5.26,9.11h-10.52zM863.08,119.01l5.26,-9.11h10.52l5.26,9.11l-5.26,9.11h-10.52zM863.08,337.59l5.26,-9.11h10.52l5.26,9.11l-5.26,9.11h-10.52zM926.18,228.3l5.26,-9.11h10.52l5.26,9.11l-5.26,9.11h-10.52zM957.73,173.65l5.26,-9.11h10.52l5.26,9.11l-5.26,9.11h-10.52zM957.73,282.95l5.26,-9.11h10.52l5.26,9.11l-5.26,9.11h-10.52zM1020.83,173.65l5.26,-9.11h10.52l5.26,9.11l-5.26,9.11h-10.52zM1020.83,282.95l5.26,-9.11h10.52l5.26,9.11l-5.26,9.11h-10.52zM1052.38,228.3l5.26,-9.11h10.52l5.26,9.11l-5.26,9.11h-10.52zM1115.48,119.01l5.26,-9.11h10.52l5.26,9.11l-5.26,9.11h-10.52zM1115.48,337.59l5.26,-9.11h10.52l5.26,9.11l-5.26,9.11h-10.52zM1147.03,173.65l5.26,-9.11h10.52l5.26,9.11l-5.26,9.11h-10.52zM1147.03,282.95l5.26,-9.11h10.52l5.26,9.11l-5.26,9.11h-10.52z"/>
<path fill="#5ec962" d="M831.53,191.87l5.26,-9.11h10.52l5.26,9.11l-5.26,9.11h-10.52zM831.53,264.73l5.26,-9.11h10.52l5.26,9.11l-5.26,9.11h-10.52zM847.31,182.76l5.26,-9.11h10.52l5.26,9.11l-5.26,9.11h-10.52zM847.31,273.84l5.26,-9.11h10.52l5.26,9.11l-5.26,9.11h-10.52zM878.86,109.9l5.26,-9.11h10.52l5.26,9.11l-5.26,9.11h-10.52zM878.86,128.12l5.26,-9.11h10.52l5.26,9.11l-5.26,9.11h-10.52zM878.86,328.48l5.26,-9.11h10.52l5.26,9.11l-5.26,9.11h-10.52zM878.86,346.7l5.26,-9.11h10.52l5.26,9.11l-5.26,9.11h-10.52zM910.41,219.19l5.26,-9.11h10.52l5.26,9.11l-5.26,9.11h-10.52zM910.41,237.41l5.26,-9.11h10.52l5.26,9.11l-5.26,9.11h-10.52zM941.96,73.47l5.26,-9.11h10.52l5.26,9.11l-5.26,9.11h-10.52zM941.96,164.55l5.26,-9.11h10.52l5.26,9.11l-5.26,9.11h-10.52zM941.96,292.05l5.26,-9.11h10.52l5.26,9.11l-5.26,9.11h-10.52zM941.96,383.13l5.26,-9.11h10.52l5.26,9.11l-5.26,9.11h-10.52zM957.73,82.58l5.26,-9.11h10.52l5.26,9.11l-5.26,9.11h-10.52zM957.73,155.44l5.26,-9.11h10.52l5.26,9.11l-5.26,9.11h-10.52zM957.73,301.16l5.26,-9.11h10.52l5.26,9.11l-5.26,9.11h-10.52zM957.73,374.02l5.26,-9.11h10.52l5.26,9.11l-5.26,9.11h-10.52zM1020.83,82.58l5.26,-9.11h10.52l5.26,9.11l-5.26,9.11h-10.52zM1020.83,155.44l5.26,-9.11h10.52l5.26,9.11l-5.26,9.11h-10.52zM1020.83,301.16l5.26,-9.11h10.52l5.26,9.11l-5.26,9.11h-10.52zM1020.83,374.02l5.26,-9.11h10.52l5.26,9.11l-5.26,9.11h-10.52zM1036.61,73.47l5.26,-9.11h10.52l5.26,9.11l-5.26,9.11h-10.52zM1036.61,164.55l5.26,-9.11h10.52l5.26,9.11l-5.26,9.11h-10.52zM1036.61,292.05l5.26,-9.11h10.52l5.26,9.11l-5.26,9.11h-10.52zM1036.61,383.13l5.26,-9.11h10.52l5.26,9.11l-5.26,9.11h-10.52zM1068.16,219.19l5.26,-9.11h10.52l5.26,9.11l-5.26,9.11h-10.52zM1068.16,237.41l5.26,-9.11h10.52l5.26,9.11l-5.26,9.11h-10.52zM1099.71,109.9l5.26,-9.11h10.52l5.26,9.11l-5.26,9.11h-10.52zM1099.71,128.12l5.26,-9.11h10.52l5.26,9.11l-5.26,9.11h-10.52zM1099.71,328.48l5.26,-9.11h10.52l5.26,9.11l-5.26,9.11h-10.52zM1099.71,346.7l5.26,-9.11h10.52l5.26,9.11l-5.26,9.11h-10.52zM1131.26,182.76l5.26,-9.11h10.52l5.26,9.11l-5.26,9.11h-10.52zM1131.26,273.84l5.26,-9.11h10.52l5.26,9.11l-5.26,9.11h-10.52zM1147.03,191.87l5.26,-9.11h10.52l5.26,9.11l-5.26,9.11h-10.52zM1147.03,264.73l5.26,-9.11h10.52l5.26,9.11l-5.26,9.11h-10.52z"/>
<path fill="#95d840" d="M831.53,210.08l5.26,-9.11h10.52l5.26,9.11l-5.26,9.11h-10.52zM831.53,246.52l5.26,-9.11h10.52l5.26,9.11l-5.26,9.11h-10.52zM863.08,191.87l5.26,-9.11h10.52l5.26,9.11l-5.26,9.11h-10.52zM863.08,264.73l5.26,-9.11h10.52l5.26,9.11l-5.26,9.11h-10.52zM894.63,100.79l5.26,-9.11h10.52l5.26,9.11l-5.26,9.11h-10.52zM894.63,137.22l5.26,-9.11h10.52l5.26,9.11l-5.26,9.11h-10.52zM894.63,210.08l5.26,-9.11h10.52l5.26,9.11l-5.26,9.11h-10.52zM894.63,246.52l5.26,-9.11h10.52l5.26,9.11l-5.26,9.11h-10.52zM894.63,319.38l5.26,-9.11h10.52l5.26,9.11l-5.26,9.11h-10.52zM894.63,355.81l5.26,-9.11h10.52l5.26,9.11l-5.26,9.11h-10.52zM926.18,82.58l5.26,-9.11h10.52l5.26,9.11l-5.26,9.11h-10.52zM926.18,155.44l5.26,-9.11h10.52l5.26,9.11l-5.26,9.11h-10.52zM926.18,301.16l5.26,-9.11h10.52l5.26,9.11l-5.26,9.11h-10.52zM926.18,374.02l5.26,-9.11h10.52l5.26,9.11l-5.26,9.11h-10.52zM957.73,100.79l5.26,-9.11h10.52l5.26,9.11l-5.26,9.11h-10.52zM957.73,137.22l5.26,-9.11h10.52l5.26,9.11l-5.26,9.11h-10.52zM957.73,319.38l5.26,-9.11h10.52l5.26,9.11l-5.26,9.11h-10.52zM957.73,355.81l5.26,-9.11h10.52l5.26,9.11l-5.26,9.11h-10.52zM1020.83,100.79l5.26,-9.11h10.52l5.26,9.11l-5.26,9.11h-10.52zM1020.83,137.22l5.26,-9.11h10.52l5.26,9.11l-5.26,9.11h-10.52zM1020.83,319.38l5.26,-9.11h10.52l5.26,9.11l-5.26,9.11h-10.52zM1020.83,355.81l5.26,-9.11h10.52l5.26,9.11l-5.26,9.11h-10.52zM1052.38,82.58l5.26,-9.11h10.52l5.26,9.11l-5.26,9.11h-10.52zM1052.38,155.44l5.26,-9.11h10.52l5.26,9.11l-5.26,9.11h-10.52zM1052.38,301.16l5.26,-9.11h10.52l5.26,9.11l-5.26,9.11h-10.52zM1052.38,374.02l5.26,-9.11h10.52l5.26,9.11l-5.26,9.11h-10.52zM1083.93,100.79l5.26,-9.11h10.52l5.26,9.11l-5.26,9.11h-10.52zM1083.93,137.22l5.26,-9.11h10.52l5.26,9.11l-5.26,9.11h-10.52zM1083.93,210.08l5.26,-9.11h10.52l5.26,9.11l-5.26,9.11h-10.52zM1083.93,246.52l5.26,-9.11h10.52l5.26,9.11l-5.26,9.11h-10.52zM1083.93,319.38l5.26,-9.11h10.52l5.26,9.11l-5.26,9.11h-10.52zM1083.93,355.81l5.26,-9.11h10.52l5.26,9.11l-5.26,9.11h-10.52zM1115.48,191.87l5.26,-9.11h10.52l5.26,9.11l-5.26,9.11h-10.52zM1115.48,264.73l5.26,-9.11h10.52l5.26,9.11l-5.26,9.11h-10.52zM1147.03,210.08l5.26,-9.11h10.52l5.26,9.11l-5.26,9.11h-10.52zM1147.03,246.52l5.26,-9.11h10.52l5.26,9.11l-5.26,9.11h-10.52z"/>
<path fill="#addc30" d="M831.53,228.3l5.26,-9.11h10.52l5.26,9.11l-5.26,9.11h-10.52zM878.86,200.98l5.26,-9.11h10.52l5.26,9.11l-5.26,9.11h-10.52zM878.86,255.62l5.26,-9.11h10.52l5.26,9.11l-5.26,9.11h-10.52zM910.41,91.68l5.26,-9.11h10.52l5.26,9.11l-5.26,9.11h-10.52zM910.41,146.33l5.26,-9.11h10.52l5.26,9.11l-5.26,9.11h-10.52zM910.41,310.27l5.26,-9.11h10.52l5.26,9.11l-5.26,9.11h-10.52zM910.41,364.92l5.26,-9.11h10.52l5.26,9.11l-5.26,9.11h-10.52zM957.73,119.01l5.26,-9.11h10.52l5.26,9.11l-5.26,9.11h-10.52zM957.73,337.59l5.26,-9.11h10.52l5.26,9.11l-5.26,9.11h-10.52zM1020.83,119.01l5.26,-9.11h10.52l5.26,9.11l-5.26,9.11h-10.52zM1020.83,337.59l5.26,-9.11h10.52l5.26,9.11l-5.26,9.11h-10.52zM1068.16,91.68l5.26,-9.11h10.52l5.26,9.11l-5.26,9.11h-10.52zM1068.16,146.33l5.26,-9.11h10.52l5.26,9.11l-5.26,9.11h-10.52zM1068.16,310.27l5.26,-9.11h10.52l5.26,9.11l-5.26,9.11h-10.52zM1068.16,364.92l5.26,-9.11h10.52l5.26,9.11l-5.26,9.11h-10.52zM1099.71,200.98l5.26,-9.11h10.52l5.26,9.11l-5.26,9.11h-10.52zM1099.71,255.62l5.26,-9.11h10.52l5.26,9.11l-5.26,9.11h-10.52zM1147.03,228.3l5.26,-9.11h10.52l5.26,9.11l-5.26,9.11h-10.52z"/>
<path fill="#2ab07f" d="M847.31,73.47l5.26,-9.11h10.52l5.26,9.11l-5.26,9.11h-10.52zM847.31,164.55l5.26,-9.11h10.52l5.26,9.11l-5.26,9.11h-10.52zM847.31,292.05l5.26,-9.11h10.52l5.26,9.11l-5.26,9.11h-10.52zM847.31,383.13l5.26,-9.11h10.52l5.26,9.11l-5.26,9.11h-10.52zM863.08,100.79l5.26,-9.11h10.52l5.26,9.11l-5.26,9.11h-10.52zM863.08,137.22l5.26,-9.11h10.52l5.26,9.11l-5.26,9.11h-10.52zM863.08,319.38l5.26,-9.11h10.52l5.26,9.11l-5.26,9.11h-10.52zM863.08,355.81l5.26,-9.11h10.52l5.26,9.11l-5.26,9.11h-10.52zM926.18,210.08l5.26,-9.11h10.52l5.26,9.11l-5.26,9.11h-10.52zM926.18,246.52l5.26,-9.11h10.52l5.26,9.11l-5.26,9.11h-10.52zM941.96,182.76l5.26,-9.11h10.52l5.26,9.11l-5.26,9.11h-10.52zM941.96,273.84l5.26,-9.11h10.52l5.26,9.11l-5.26,9.11h-10.52zM973.51,73.47l5.26,-9.11h10.52l5.26,9.11l-5.26,9.11h-10.52zM973.51,164.55l5.26,-9.11h10.52l5.26,9.11l-5.26,9.11h-10.52zM973.51,292.05l5.26,-9.11h10.52l5.26,9.11l-5.26,9.11h-10.52zM973.51,383.13l5.26,-9.11h10.52l5.26,9.11l-5.26,9.11h-10.52zM1005.06,73.47l5.26,-9.11h10.52l5.26,9.11l-5.26,9.11h-10.52zM1005.06,164.55l5.26,-9.11h10.52l5.26,9.11l-5.26,9.11h-10.52zM1005.06,292.05l5.26,-9.11h10.52l5.26,9.11l-5.26,9.11h-10.52zM1005.06,383.13l5.26,-9.11h10.52l5.26,9.11l-5.26,9.11h-10.52zM1036.61,182.76l5.26,-9.11h10.52l5.26,9.11l-5.26,9.11h-10.52zM1036.61,273.84l5.26,-9.11h10.52l5.26,9.11l-5.26,9.11h-10.52zM1052.38,210.08l5.26,-9.11h10.52l5.26,9.11l-5.26,9.11h-10.52zM1052.38,246.52l5.26,-9.11h10.52l5.26,9.11l-5.26,9.11h-10.52zM1115.48,100.79l5.26,-9.11h10.52l5.26,9.11l-5.26,9.11h-10.52zM1115.48,137.22l5.26,-9.11h10.52l5.26,9.11l-5.26,9.11h-10.52zM1115.48,319.38l5.26,-9.11h10.52l5.26,9.11l-5.26,9.11h-10.52zM1115.48,355.81l5.26,-9.11h10.52l5.26,9.11l-5.26,9.11h-10.52zM1131.26,73.47l5.26,-9.11h10.52l5.26,9.11l-5.26,9.11h-10.52zM1131.26,164.55l5.26,-9.11h10.52l5.26,9.11l-5.26,9.11h-10.52zM1131.26,292.05l5.26,-9.11h10.52l5.26,9.11l-5.26,9.11h-10.52zM1131.26,383.13l5.26,-9.11h10.52l5.26,9.11l-5.26,9.11h-10.52z"/>
<path fill="#1f948c" d="M847.31,91.68l5.26,-9.11h10.52l5.26,9.11l-5.26,9.11h-10.52zM847.31,146.33l5.26,-9.11h10.52l5.26,9.11l-5.26,9.11h-10.52zM847.31,310.27l5.26,-9.11h10.52l5.26,9.11l-5.26,9.11h-10.52zM847.31,364.92l5.26,-9.11h10.52l5.26,9.11l-5.26,9.11h-10.52zM941.96,200.98l5.26,-9.11h10.52l5.26,9.11l-5.26,9.11h-10.52zM941.96,255.62l5.26,-9.11h10.52l5.26,9.11l-5.26,9.11h-10.52zM989.28,173.65l5.26,-9.11h10.52l5.26,9.11l-5.26,9.11h-10.52zM989.28,282.95l5.26,-9.11h10.52l5.26,9.11l-5.26,9.11h-10.52zM1036.61,200.98l5.26,-9.11h10.52l5.26,9.11l-5.26,9.11h-10.52zM1036.61,255.62l5.26,-9.11h10.52l5.26,9.11l-5.26,9.11h-10.52zM1131.26,91.68l5.26,-9.11h10.52l5.26,9.11l-5.26,9.11h-10.52zM1131.26,146.33l5.26,-9.11h10.52l5.26,9.11l-5.26,9.11h-10.52zM1131.26,310.27l5.26,-9.11h10.52l5.26,9.11l-5.26,9.11h-10.52zM1131.26,364.92l5.26,-9.11h10.52l5.26,9.11l-5.26,9.11h-10.52z"/>
<path fill="#9bd93c" d="M847.31,200.98l5.26,-9.11h10.52l5.26,9.11l-5.26,9.11h-10.52zM847.31,255.62l5.26,-9.11h10.52l5.26,9.11l-5.26,9.11h-10.52zM894.63,119.01l5.26,-9.11h10.52l5.26,9.11l-5.26,9.11h-10.52zM894.63,228.3l5.26,-9.11h10.52l5.26,9.11l-5.26,9.11h-10.52zM894.63,337.59l5.26,-9.11h10.52l5.26,9.11l-5.26,9.11h-10.52zM941.96,91.68l5.26,-9.11h10.52l5.26,9.11l-5.26,9.11h-10.52zM941.96,146.33l5.26,-9.11h10.52l5.26,9.11l-5.26,9.11h-10.52zM941.96,310.27l5.26,-9.11h10.52l5.26,9.11l-5.26,9.11h-10.52zM941.96,364.92l5.26,-9.11h10.52l5.26,9.11l-5.26,9.11h-10.52zM1036.61,91.68l5.26,-9.11h10.52l5.26,9.11l-5.26,9.11h-10.52zM1036.61,146.33l5.26,-9.11h10.52l5.26,9.11l-5.26,9.11h-10.52zM1036.61,310.27l5.26,-9.11h10.52l5.26,9.11l-5.26,9.11h-10.52zM1036.61,364.92l5.26,-9.11h10.52l5.26,9.11l-5.26,9.11h-10.52zM1083.93,119.01l5.26,-9.11h10.52l5.26,9.11l-5.26,9.11h-10.52zM1083.93,228.3l5.26,-9.11h10.52l5.26,9.11l-5.26,9.11h-10.52zM1083.93,337.59l5.26,-9.11h10.52l5.26,9.11l-5.26,9.11h-10.52zM1131.26,200.98l5.26,-9.11h10.52l5.26,9.11l-5.26,9.11h-10.52zM1131.26,255.62l5.26,-9.11h10.52l5.26,9.11l-5.26,9.11h-10.52z"/>
<path fill="#d0e11c" d="M847.31,219.19l5.26,-9.11h10.52l5.26,9.11l-5.26,9.11h-10.52zM847.31,237.41l5.26,-9.11h10.52l5.26,9.11l-5.26,9.11h-10.52zM863.08,210.08l5.26,-9.11h10.52l5.26,9.11l-5.26,9.11h-10.52zM863.08,246.52l5.26,-9.11h10.52l5.26,9.11l-5.26,9.11h-10.52zM878.86,219.19l5.26,-9.11h10.52l5.26,9.11l-5.26,9.11h-10.52zM878.86,237.41l5.26,-9.11h10.52l5.26,9.11l-5.26,9.11h-10.52zM910.41,109.9l5.26,-9.11h10.52l5.26,9.11l-5.26,9.11h-10.52zM910.41,128.12l5.26,-9.11h10.52l5.26,9.11l-5.26,9.11h-10.52zM910.41,328.48l5.26,-9.11h10.52l5.26,9.11l-5.26,9.11h-10.52zM910.41,346.7l5.26,-9.11h10.52l5.26,9.11l-5.26,9.11h-10.52zM926.18,100.79l5.26,-9.11h10.52l5.26,9.11l-5.26,9.11h-10.52zM926.18,137.22l5.26,-9.11h10.52l5.26,9.11l-5.26,9.11h-10.52zM926.18,319.38l5.26,-9.11h10.52l5.26,9.11l-5.26,9.11h-10.52zM926.18,355.81l5.26,-9.11h10.52l5.26,9.11l-5.26,9.11h-10.52zM941.96,109.9l5.26,-9.11h10.52l5.26,9.11l-5.26,9.11h-10.52zM941.96,128.12l5.26,-9.11h10.52l5.26,9.11l-5.26,9.11h-10.52zM941.96,328.48l5.26,-9.11h10.52l5.26,9.11l-5.26,9.11h-10.52zM941.96,346.7l5.26,-9.11h10.52l5.26,9.11l-5.26,9.11h-10.52zM1036.61,109.9l5.26,-9.11h10.52l5.26,9.11l-5.26,9.11h-10.52zM1036.61,128.12l5.26,-9.11h10.52l5.26,9.11l-5.26,9.11h-10.52zM1036.61,328.48l5.26,-9.11h10.52l5.26,9.11l-5.26,9.11h-10.52zM1036.61,346.7l5.26,-9.11h10.52l5.26,9.11l-5.26,9.11h-10.52zM1052.38,100.79l5.26,-9.11h10.52l5.26,9.11l-5.26,9.11h-10.52zM1052.38,137.22l5.26,-9.11h10.52l5.26,9.11l-5.26,9.11h-10.52zM1052.38,319.38l5.26,-9.11h10.52l5.26,9.11l-5.26,9.11h-10.52zM1052.38,355.81l5.26,-9.11h10.52l5.26,9.11l-5.26,9.11h-10.52zM1068.16,109.9l5.26,-9.11h10.52l5.26,9.11l-5.26,9.11h-10.52zM1068.16,128.12l5.26,-9.11h10.52l5.26,9.11l-5.26,9.11h-10.52zM1068.16,328.48l5.26,-9.11h10.52l5.26,9.11l-5.26,9.11h-10.52zM1068.16,346.7l5.26,-9.11h10.52l5.26,9.11l-5.26,9.11h-10.52zM1099.71,219.19l5.26,-9.11h10.52l5.26,9.11l-5.26,9.11h-10.52zM1099.71,237.41l5.26,-9.11h10.52l5.26,9.11l-5.26,9.11h-10.52zM1115.48,210.08l5.26,-9.11h10.52l5.26,9.11l-5.26,9.11h-10.52zM1115.48,246.52l5.26,-9.11h10.52l5.26,9.11l-5.26,9.11h-10.52zM1131.26,219.19l5.26,-9.11h10.52l5.26,9.11l-5.26,9.11h-10.52zM1131.26,237.41l5.26,-9.11h10.52l5.26,9.11l-5.26,9.11h-10.52z"/>
<path fill="#42be71" d="M863.08,82.58l5.26,-9.11h10.52l5.26,9.11l-5.26,9.11h-10.52zM863.08,155.44l5.26,-9.11h10.52l5.26,9.11l-5.26,9.11h-10.52zM863.08,301.16l5.26,-9.11h10.52l5.26,9.11l-5.26,9.11h-10.52zM863.08,374.02l5.26,-9.11h10.52l5.26,9.11l-5.26,9.11h-10.52zM926.18,191.87l5.26,-9.11h10.52l5.26,9.11l-5.26,9.11h-10.52zM926.18,264.73l5.26,-9.11h10.52l5.26,9.11l-5.26,9.11h-10.52zM989.28,82.58l5.26,-9.11h10.52l5.26,9.11l-5.26,9.11h-10.52zM989.28,155.44l5.26,-9.11h10.52l5.26,9.11l-5.26,9.11h-10.52zM989.28,301.16l5.26,-9.11h10.52l5.26,9.11l-5.26,9.11h-10.52zM989.28,374.02l5.26,-9.11h10.52l5.26,9.11l-5.26,9.11h-10.52zM1052.38,191.87l5.26,-9.11h10.52l5.26,9.11l-5.26,9.11h-10.52zM1052.38,264.73l5.26,-9.11h10.52l5.26,9.11l-5.26,9.11h-10.52zM1115.48,82.58l5.26,-9.11h10.52l5.26,9.11l-5.26,9.11h-10.52zM1115.48,155.44l5.26,-9.11h10.52l5.26,9.11l-5.26,9.11h-10.52zM1115.48,301.16l5.26,-9.11h10.52l5.26,9.11l-5.26,9.11h-10.52zM1115.48,374.02l5.26,-9.11h10.52l5.26,9.11l-5.26,9.11h-10.52z"/>
<path fill="#67cc5c" d="M863.08,173.65l5.26,-9.11h10.52l5.26,9.11l-5.26,9.11h-10.52zM863.08,282.95l5.26,-9.11h10.52l5.26,9.11l-5.26,9.11h-10.52zM878.86,91.68l5.26,-9.11h10.52l5.26,9.11l-5.26,9.11h-10.52zM878.86,146.33l5.26,-9.11h10.52l5.26,9.11l-5.26,9.11h-10.52zM878.86,310.27l5.26,-9.11h10.52l5.26,9.11l-5.26,9.11h-10.52zM878.86,364.92l5.26,-9.11h10.52l5.26,9.11l-5.26,9.11h-10.52zM910.41,200.98l5.26,-9.11h10.52l5.26,9.11l-5.26,9.11h-10.52zM910.41,255.62l5.26,-9.11h10.52l5.26,9.11l-5.26,9.11h-10.52zM926.18,173.65l5.26,-9.11h10.52l5.26,9.11l-5.26,9.11h-10.52zM926.18,282.95l5.26,-9.11h10.52l5.26,9.11l-5.26,9.11h-10.52zM973.51,91.68l5.26,-9.11h10.52l5.26,9.11l-5.26,9.11h-10.52zM973.51,146.33l5.26,-9.11h10.52l5.26,9.11l-5.26,9.11h-10.52zM973.51,310.27l5.26,-9.11h10.52l5.26,9.11l-5.26,9.11h-10.52zM973.51,364.92l5.26,-9.11h10.52l5.26,9.11l-5.26,9.11h-10.52zM1005.06,91.68l5.26,-9.11h10.52l5.26,9.11l-5.26,9.11h-10.52zM1005.06,146.33l5.26,-9.11h10.52l5.26,9.11l-5.26,9.11h-10.52zM1005.06,310.27l5.26,-9.11h10.52l5.26,9.11l-5.26,9.11h-10.52zM1005.06,364.92l5.26,-9.11h10.52l5.26,9.11l-5.26,9.11h-10.52zM1052.38,173.65l5.26,-9.11h10.52l5.26,9.11l-5.26,9.11h-10.52zM1052.38,282.95l5.26,-9.11h10.52l5.26,9.11l-5.26,9.11h-10.52zM1068.16,200.98l5.26,-9.11h10.52l5.26,9.11l-5.26,9.11h-10.52zM1068.16,255.62l5.26,-9.11h10.52l5.26,9.11l-5.26,9.11h-10.52zM1099.71,91.68l5.26,-9.11h10.52l5.26,9.11l-5.26,9.11h-10.52zM1099.71,146.33l5.26,-9.11h10.52l5.26,9.11l-5.26,9.11h-10.52zM1099.71,310.27l5.26,-9.11h10.52l5.26,9.11l-5.26,9.11h-10.52zM1099.71,364.92l5.26,-9.11h10.52l5.26,9.11l-5.26,9.11h-10.52zM1115.48,173.65l5.26,-9.11h10.52l5.26,9.11l-5.26,9.11h-10.52zM1115.48,282.95l5.26,-9.11h10.52l5.26,9.11l-5.26,9.11h-10.52z"/>
<path fill="#f1e51d" d="M863.08,228.3l5.26,-9.11h10.52l5.26,9.11l-5.26,9.11h-10.52zM926.18,119.01l5.26,-9.11h10.52l5.26,9.11l-5.26,9.11h-10.52zM926.18,337.59l5.26,-9.11h10.52l5.26,9.11l-5.26,9.11h-10.52zM1052.38,119.01l5.26,-9.11h10.52l5.26,9.11l-5.26,9.11h-10.52zM1052.38,337.59l5.26,-9.11h10.52l5.26,9.11l-5.26,9.11h-10.52zM1115.48,228.3l5.26,-9.11h10.52l5.26,9.11l-5.26,9.11h-10.52z"/>
<path fill="#7ad151" d="M878.86,73.47l5.26,-9.11h10.52l5.26,9.11l-5.26,9.11h-10.52zM878.86,164.55l5.26,-9.11h10.52l5.26,9.11l-5.26,9.11h-10.52zM878.86,292.05l5.26,-9.11h10.52l5.26,9.11l-5.26,9.11h-10.52zM878.86,383.13l5.26,-9.11h10.52l5.26,9.11l-5.26,9.11h-10.52zM910.41,182.76l5.26,-9.11h10.52l5.26,9.11l-5.26,9.11h-10.52zM910.41,273.84l5.26,-9.11h10.52l5.26,9.11l-5.26,9.11h-10.52zM989.28,100.79l5.26,-9.11h10.52l5.26,9.11l-5.26,9.11h-10.52zM989.28,137.22l5.26,-9.11h10.52l5.26,9.11l-5.26,9.11h-10.52zM989.28,319.38l5.26,-9.11h10.52l5.26,9.11l-5.26,9.11h-10.52zM989.28,355.81l5.26,-9.11h10.52l5.26,9.11l-5.26,9.11h-10.52zM1068.16,182.76l5.26,-9.11h10.52l5.26,9.11l-5.26,9.11h-10.52zM1068.16,273.84l5.26,-9.11h10.52l5.26,9.11l-5.26,9.11h-10.52zM1099.71,73.47l5.26,-9.11h10.52l5.26,9.11l-5.26,9.11h-10.52zM1099.71,164.55l5.26,-9.11h10.52l5.26,9.11l-5.26,9.11h-10.52zM1099.71,292.05l5.26,-9.11h10.52l5.26,9.11l-5.26,9.11h-10.52zM1099.71,383.13l5.26,-9.11h10.52l5.26,9.11l-5.26,9.11h-10.52z"/>
<path fill="#90d743" d="M878.86,182.76l5.26,-9.11h10.52l5.26,9.11l-5.26,9.11h-10.52zM878.86,273.84l5.26,-9.11h10.52l5.26,9.11l-5.26,9.11h-10.52zM894.63,82.58l5.26,-9.11h10.52l5.26,9.11l-5.26,9.11h-10.52zM894.63,155.44l5.26,-9.11h10.52l5.26,9.11l-5.26,9.11h-10.52zM894.63,191.87l5.26,-9.11h10.52l5.26,9.11l-5.26,9.11h-10.52zM894.63,264.73l5.26,-9.11h10.52l5.26,9.11l-5.26,9.11h-10.52zM894.63,301.16l5.26,-9.11h10.52l5.26,9.11l-5.26,9.11h-10.52zM894.63,374.02l5.26,-9.11h10.52l5.26,9.11l-5.26,9.11h-10.52zM910.41,73.47l5.26,-9.11h10.52l5.26,9.11l-5.26,9.11h-10.52zM910.41,164.55l5.26,-9.11h10.52l5.26,9.11l-5.26,9.11h-10.52zM910.41,292.05l5.26,-9.11h10.52l5.26,9.11l-5.26,9.11h-10.52zM910.41,383.13l5.26,-9.11h10.52l5.26,9.11l-5.26,9.11h-10.52zM973.51,109.9l5.26,-9.11h10.52l5.26,9.11l-5.26,9.11h-10.52zM973.51,128.12l5.26,-9.11h10.52l5.26,9.11l-5.26,9.11h-10.52zM973.51,328.48l5.26,-9.11h10.52l5.26,9.11l-5.26,9.11h-10.52zM973.51,346.7l5.26,-9.11h10.52l5.26,9.11l-5.26,9.11h-10.52zM1005.06,109.9l5.26,-9.11h10.52l5.26,9.11l-5.26,9.11h-10.52zM1005.06,128.12l5.26,-9.11h10.52l5.26,9.11l-5.26,9.11h-10.52zM1005.06,328.48l5.26,-9.11h10.52l5.26,9.11l-5.26,9.11h-10.52zM1005.06,346.7l5.26,-9.11h10.52l5.26,9.11l-5.26,9.11h-10.52zM1068.16,73.47l5.26,-9.11h10.52l5.26,9.11l-5.26,9.11h-10.52zM1068.16,164.55l5.26,-9.11h10.52l5.26,9.11l-5.26,9.11h-10.52zM1068.16,292.05l5.26,-9.11h10.52l5.26,9.11l-5.26,9.11h-10.52zM1068.16,383.13l5.26,-9.11h10.52l5.26,9.11l-5.26,9.11h-10.52zM1083.93,82.58l5.26,-9.11h10.52l5.26,9.11l-5.26,9.11h-10.52zM1083.93,155.44l5.26,-9.11h10.52l5.26,9.11l-5.26,9.11h-10.52zM1083.93,191.87l5.26,-9.11h10.52l5.26,9.11l-5.26,9.11h-10.52zM1083.93,264.73l5.26,-9.11h10.52l5.26,9.11l-5.26,9.11h-10.52zM1083.93,301.16l5.26,-9.11h10.52l5.26,9.11l-5.26,9.11h-10.52zM1083.93,374.02l5.26,-9.11h10.52l5.26,9.11l-5.26,9.11h-10.52zM1099.71,182.76l5.26,-9.11h10.52l5.26,9.11l-5.26,9.11h-10.52zM1099.71,273.84l5.26,-9.11h10.52l5.26,9.11l-5.26,9.11h-10.52z"/>
<path fill="#8ed645" d="M894.63,173.65l5.26,-9.11h10.52l5.26,9.11l-5.26,9.11h-10.52zM894.63,282.95l5.26,-9.11h10.52l5.26,9.11l-5.26,9.11h-10.52zM989.28,119.01l5.26,-9.11h10.52l5.26,9.11l-5.26,9.11h-10.52zM989.28,337.59l5.26,-9.11h10.52l5.26,9.11l-5.26,9.11h-10.52zM1083.93,173.65l5.26,-9.11h10.52l5.26,9.11l-5.26,9.11h-10.52zM1083.93,282.95l5.26,-9.11h10.52l5.26,9.11l-5.26,9.11h-10.52z"/>
<path fill="#481f70" d="M973.51,219.19l5.26,-9.11h10.52l5.26,9.11l-5.26,9.11h-10.52zM973.51,237.41l5.26,-9.11h10.52l5.26,9.11l-5.26,9.11h-10.52zM989.28,210.08l5.26,-9.11h10.52l5.26,9.11l-5.26,9.11h-10.52zM989.28,246.52l5.26,-9.11h10.52l5.26,9.11l-5.26,9.11h-10.52zM1005.06,219.19l5.26,-9.11h10.52l5.26,9.11l-5.26,9.11h-10.52zM1005.06,237.41l5.26,-9.11h10.52l5.26,9.11l-5.26,9.11h-10.52z"/>
<path fill="#440154" d="M989.28,228.3l5.26,-9.11h10.52l5.26,9.11l-5.26,9.11h-10.52z"/>
</g>
<polygon points="1126.0,228.3 1062.9,119.0 936.7,119.0 873.6,228.3 936.7,337.6 1062.9,337.6" fill="none" stroke="#000" stroke-width="2.6" stroke-linejoin="miter"/>
<rect x="867.5" y="92.8" width="47.5" height="41" fill="#fff"/>
<text x="879.1" y="122.5" font-size="26" fill="#d40a0a">D<tspan font-size="16.5" dy="6.2" dx="0.3">I</tspan></text>
<clipPath id="c540_396"><rect x="540" y="396.9" width="290.6" height="290.6"/></clipPath>
<g clip-path="url(#c540_396)" stroke="#fff" stroke-opacity="0.45" stroke-width="0.4" stroke-dasharray="1.2 0.8">
<rect x="540" y="396.9" width="290.6" height="290.6" fill="#2a788e" stroke="none"/>
<path fill="#3d4d8a" d="M517.53,396.18l5.26,-9.11h10.52l5.26,9.11l-5.26,9.11h-10.52zM517.53,687.62l5.26,-9.11h10.52l5.26,9.11l-5.26,9.11h-10.52zM833.03,396.18l5.26,-9.11h10.52l5.26,9.11l-5.26,9.11h-10.52zM833.03,687.62l5.26,-9.11h10.52l5.26,9.11l-5.26,9.11h-10.52z"/>
<path fill="#2c718e" d="M517.53,414.39l5.26,-9.11h10.52l5.26,9.11l-5.26,9.11h-10.52zM517.53,669.41l5.26,-9.11h10.52l5.26,9.11l-5.26,9.11h-10.52zM833.03,414.39l5.26,-9.11h10.52l5.26,9.11l-5.26,9.11h-10.52zM833.03,669.41l5.26,-9.11h10.52l5.26,9.11l-5.26,9.11h-10.52z"/>
<path fill="#24868e" d="M517.53,432.61l5.26,-9.11h10.52l5.26,9.11l-5.26,9.11h-10.52zM517.53,651.19l5.26,-9.11h10.52l5.26,9.11l-5.26,9.11h-10.52zM833.03,432.61l5.26,-9.11h10.52l5.26,9.11l-5.26,9.11h-10.52zM833.03,651.19l5.26,-9.11h10.52l5.26,9.11l-5.26,9.11h-10.52z"/>
<path fill="#2c728e" d="M517.53,450.82l5.26,-9.11h10.52l5.26,9.11l-5.26,9.11h-10.52zM517.53,632.98l5.26,-9.11h10.52l5.26,9.11l-5.26,9.11h-10.52zM833.03,450.82l5.26,-9.11h10.52l5.26,9.11l-5.26,9.11h-10.52zM833.03,632.98l5.26,-9.11h10.52l5.26,9.11l-5.26,9.11h-10.52z"/>
<path fill="#3d4e8a" d="M517.53,469.04l5.26,-9.11h10.52l5.26,9.11l-5.26,9.11h-10.52zM517.53,614.76l5.26,-9.11h10.52l5.26,9.11l-5.26,9.11h-10.52zM533.31,423.5l5.26,-9.11h10.52l5.26,9.11l-5.26,9.11h-10.52zM533.31,441.72l5.26,-9.11h10.52l5.26,9.11l-5.26,9.11h-10.52zM533.31,642.08l5.26,-9.11h10.52l5.26,9.11l-5.26,9.11h-10.52zM533.31,660.3l5.26,-9.11h10.52l5.26,9.11l-5.26,9.11h-10.52zM817.26,423.5l5.26,-9.11h10.52l5.26,9.11l-5.26,9.11h-10.52zM817.26,441.72l5.26,-9.11h10.52l5.26,9.11l-5.26,9.11h-10.52zM817.26,642.08l5.26,-9.11h10.52l5.26,9.11l-5.26,9.11h-10.52zM817.26,660.3l5.26,-9.11h10.52l5.26,9.11l-5.26,9.11h-10.52zM833.03,469.04l5.26,-9.11h10.52l5.26,9.11l-5.26,9.11h-10.52zM833.03,614.76l5.26,-9.11h10.52l5.26,9.11l-5.26,9.11h-10.52z"/>
<path fill="#46327e" d="M517.53,487.25l5.26,-9.11h10.52l5.26,9.11l-5.26,9.11h-10.52zM517.53,596.55l5.26,-9.11h10.52l5.26,9.11l-5.26,9.11h-10.52zM833.03,487.25l5.26,-9.11h10.52l5.26,9.11l-5.26,9.11h-10.52zM833.03,596.55l5.26,-9.11h10.52l5.26,9.11l-5.26,9.11h-10.52z"/>
<path fill="#482071" d="M517.53,505.47l5.26,-9.11h10.52l5.26,9.11l-5.26,9.11h-10.52zM517.53,578.33l5.26,-9.11h10.52l5.26,9.11l-5.26,9.11h-10.52zM833.03,505.47l5.26,-9.11h10.52l5.26,9.11l-5.26,9.11h-10.52zM833.03,578.33l5.26,-9.11h10.52l5.26,9.11l-5.26,9.11h-10.52z"/>
<path fill="#48186a" d="M517.53,523.68l5.26,-9.11h10.52l5.26,9.11l-5.26,9.11h-10.52zM517.53,560.12l5.26,-9.11h10.52l5.26,9.11l-5.26,9.11h-10.52zM564.86,423.5l5.26,-9.11h10.52l5.26,9.11l-5.26,9.11h-10.52zM564.86,441.72l5.26,-9.11h10.52l5.26,9.11l-5.26,9.11h-10.52zM564.86,642.08l5.26,-9.11h10.52l5.26,9.11l-5.26,9.11h-10.52zM564.86,660.3l5.26,-9.11h10.52l5.26,9.11l-5.26,9.11h-10.52zM627.96,387.07l5.26,-9.11h10.52l5.26,9.11l-5.26,9.11h-10.52zM627.96,696.73l5.26,-9.11h10.52l5.26,9.11l-5.26,9.11h-10.52zM643.73,396.18l5.26,-9.11h10.52l5.26,9.11l-5.26,9.11h-10.52zM643.73,687.62l5.26,-9.11h10.52l5.26,9.11l-5.26,9.11h-10.52zM706.83,396.18l5.26,-9.11h10.52l5.26,9.11l-5.26,9.11h-10.52zM706.83,687.62l5.26,-9.11h10.52l5.26,9.11l-5.26,9.11h-10.52zM722.61,387.07l5.26,-9.11h10.52l5.26,9.11l-5.26,9.11h-10.52zM722.61,696.73l5.26,-9.11h10.52l5.26,9.11l-5.26,9.11h-10.52zM785.71,423.5l5.26,-9.11h10.52l5.26,9.11l-5.26,9.11h-10.52zM785.71,441.72l5.26,-9.11h10.52l5.26,9.11l-5.26,9.11h-10.52zM785.71,642.08l5.26,-9.11h10.52l5.26,9.11l-5.26,9.11h-10.52zM785.71,660.3l5.26,-9.11h10.52l5.26,9.11l-5.26,9.11h-10.52zM833.03,523.68l5.26,-9.11h10.52l5.26,9.11l-5.26,9.11h-10.52zM833.03,560.12l5.26,-9.11h10.52l5.26,9.11l-5.26,9.11h-10.52z"/>
<path fill="#481668" d="M517.53,541.9l5.26,-9.11h10.52l5.26,9.11l-5.26,9.11h-10.52zM533.31,532.79l5.26,-9.11h10.52l5.26,9.11l-5.26,9.11h-10.52zM533.31,551.01l5.26,-9.11h10.52l5.26,9.11l-5.26,9.11h-10.52zM564.86,405.28l5.26,-9.11h10.52l5.26,9.11l-5.26,9.11h-10.52zM564.86,678.52l5.26,-9.11h10.52l5.26,9.11l-5.26,9.11h-10.52zM785.71,405.28l5.26,-9.11h10.52l5.26,9.11l-5.26,9.11h-10.52zM785.71,678.52l5.26,-9.11h10.52l5.26,9.11l-5.26,9.11h-10.52zM817.26,532.79l5.26,-9.11h10.52l5.26,9.11l-5.26,9.11h-10.52zM817.26,551.01l5.26,-9.11h10.52l5.26,9.11l-5.26,9.11h-10.52zM833.03,541.9l5.26,-9.11h10.52l5.26,9.11l-5.26,9.11h-10.52z"/>
<path fill="#472c7a" d="M533.31,387.07l5.26,-9.11h10.52l5.26,9.11l-5.26,9.11h-10.52zM533.31,696.73l5.26,-9.11h10.52l5.26,9.11l-5.26,9.11h-10.52zM817.26,387.07l5.26,-9.11h10.52l5.26,9.11l-5.26,9.11h-10.52zM817.26,696.73l5.26,-9.11h10.52l5.26,9.11l-5.26,9.11h-10.52z"/>
<path fill="#423f85" d="M533.31,405.28l5.26,-9.11h10.52l5.26,9.11l-5.26,9.11h-10.52zM533.31,678.52l5.26,-9.11h10.52l5.26,9.11l-5.26,9.11h-10.52zM817.26,405.28l5.26,-9.11h10.52l5.26,9.11l-5.26,9.11h-10.52zM817.26,678.52l5.26,-9.11h10.52l5.26,9.11l-5.26,9.11h-10.52z"/>
<path fill="#424086" d="M533.31,459.93l5.26,-9.11h10.52l5.26,9.11l-5.26,9.11h-10.52zM533.31,623.87l5.26,-9.11h10.52l5.26,9.11l-5.26,9.11h-10.52zM817.26,459.93l5.26,-9.11h10.52l5.26,9.11l-5.26,9.11h-10.52zM817.26,623.87l5.26,-9.11h10.52l5.26,9.11l-5.26,9.11h-10.52z"/>
<path fill="#472e7c" d="M533.31,478.15l5.26,-9.11h10.52l5.26,9.11l-5.26,9.11h-10.52zM533.31,605.65l5.26,-9.11h10.52l5.26,9.11l-5.26,9.11h-10.52zM817.26,478.15l5.26,-9.11h10.52l5.26,9.11l-5.26,9.11h-10.52zM817.26,605.65l5.26,-9.11h10.52l5.26,9.11l-5.26,9.11h-10.52z"/>
<path fill="#482173" d="M533.31,496.36l5.26,-9.11h10.52l5.26,9.11l-5.26,9.11h-10.52zM533.31,587.44l5.26,-9.11h10.52l5.26,9.11l-5.26,9.11h-10.52zM817.26,496.36l5.26,-9.11h10.52l5.26,9.11l-5.26,9.11h-10.52zM817.26,587.44l5.26,-9.11h10.52l5.26,9.11l-5.26,9.11h-10.52z"/>
<path fill="#481a6c" d="M533.31,514.58l5.26,-9.11h10.52l5.26,9.11l-5.26,9.11h-10.52zM533.31,569.22l5.26,-9.11h10.52l5.26,9.11l-5.26,9.11h-10.52zM596.41,532.79l5.26,-9.11h10.52l5.26,9.11l-5.26,9.11h-10.52zM596.41,551.01l5.26,-9.11h10.52l5.26,9.11l-5.26,9.11h-10.52zM627.96,478.15l5.26,-9.11h10.52l5.26,9.11l-5.26,9.11h-10.52zM627.96,605.65l5.26,-9.11h10.52l5.26,9.11l-5.26,9.11h-10.52zM643.73,469.04l5.26,-9.11h10.52l5.26,9.11l-5.26,9.11h-10.52zM643.73,614.76l5.26,-9.11h10.52l5.26,9.11l-5.26,9.11h-10.52zM706.83,469.04l5.26,-9.11h10.52l5.26,9.11l-5.26,9.11h-10.52zM706.83,614.76l5.26,-9.11h10.52l5.26,9.11l-5.26,9.11h-10.52zM722.61,478.15l5.26,-9.11h10.52l5.26,9.11l-5.26,9.11h-10.52zM722.61,605.65l5.26,-9.11h10.52l5.26,9.11l-5.26,9.11h-10.52zM754.16,532.79l5.26,-9.11h10.52l5.26,9.11l-5.26,9.11h-10.52zM754.16,551.01l5.26,-9.11h10.52l5.26,9.11l-5.26,9.11h-10.52zM817.26,514.58l5.26,-9.11h10.52l5.26,9.11l-5.26,9.11h-10.52zM817.26,569.22l5.26,-9.11h10.52l5.26,9.11l-5.26,9.11h-10.52z"/>
<path fill="#481c6e" d="M549.08,396.18l5.26,-9.11h10.52l5.26,9.11l-5.26,9.11h-10.52zM549.08,687.62l5.26,-9.11h10.52l5.26,9.11l-5.26,9.11h-10.52zM801.48,396.18l5.26,-9.11h10.52l5.26,9.11l-5.26,9.11h-10.52zM801.48,687.62l5.26,-9.11h10.52l5.26,9.11l-5.26,9.11h-10.52z"/>
<path fill="#482576" d="M549.08,414.39l5.26,-9.11h10.52l5.26,9.11l-5.26,9.11h-10.52zM549.08,669.41l5.26,-9.11h10.52l5.26,9.11l-5.26,9.11h-10.52zM801.48,414.39l5.26,-9.11h10.52l5.26,9.11l-5.26,9.11h-10.52zM801.48,669.41l5.26,-9.11h10.52l5.26,9.11l-5.26,9.11h-10.52z"/>
<path fill="#482979" d="M549.08,432.61l5.26,-9.11h10.52l5.26,9.11l-5.26,9.11h-10.52zM549.08,651.19l5.26,-9.11h10.52l5.26,9.11l-5.26,9.11h-10.52zM801.48,432.61l5.26,-9.11h10.52l5.26,9.11l-5.26,9.11h-10.52zM801.48,651.19l5.26,-9.11h10.52l5.26,9.11l-5.26,9.11h-10.52z"/>
<path fill="#482677" d="M549.08,450.82l5.26,-9.11h10.52l5.26,9.11l-5.26,9.11h-10.52zM549.08,632.98l5.26,-9.11h10.52l5.26,9.11l-5.26,9.11h-10.52zM659.51,387.07l5.26,-9.11h10.52l5.26,9.11l-5.26,9.11h-10.52zM659.51,696.73l5.26,-9.11h10.52l5.26,9.11l-5.26,9.11h-10.52zM691.06,387.07l5.26,-9.11h10.52l5.26,9.11l-5.26,9.11h-10.52zM691.06,696.73l5.26,-9.11h10.52l5.26,9.11l-5.26,9.11h-10.52zM801.48,450.82l5.26,-9.11h10.52l5.26,9.11l-5.26,9.11h-10.52zM801.48,632.98l5.26,-9.11h10.52l5.26,9.11l-5.26,9.11h-10.52z"/>
<path fill="#481f70" d="M549.08,469.04l5.26,-9.11h10.52l5.26,9.11l-5.26,9.11h-10.52zM549.08,614.76l5.26,-9.11h10.52l5.26,9.11l-5.26,9.11h-10.52zM612.18,505.47l5.26,-9.11h10.52l5.26,9.11l-5.26,9.11h-10.52zM612.18,578.33l5.26,-9.11h10.52l5.26,9.11l-5.26,9.11h-10.52zM675.28,396.18l5.26,-9.11h10.52l5.26,9.11l-5.26,9.11h-10.52zM675.28,469.04l5.26,-9.11h10.52l5.26,9.11l-5.26,9.11h-10.52zM675.28,614.76l5.26,-9.11h10.52l5.26,9.11l-5.26,9.11h-10.52zM675.28,687.62l5.26,-9.11h10.52l5.26,9.11l-5.26,9.11h-10.52zM738.38,505.47l5.26,-9.11h10.52l5.26,9.11l-5.26,9.11h-10.52zM738.38,578.33l5.26,-9.11h10.52l5.26,9.11l-5.26,9.11h-10.52zM801.48,469.04l5.26,-9.11h10.52l5.26,9.11l-5.26,9.11h-10.52zM801.48,614.76l5.26,-9.11h10.52l5.26,9.11l-5.26,9.11h-10.52z"/>
<path fill="#481769" d="M549.08,487.25l5.26,-9.11h10.52l5.26,9.11l-5.26,9.11h-10.52zM549.08,596.55l5.26,-9.11h10.52l5.26,9.11l-5.26,9.11h-10.52zM564.86,459.93l5.26,-9.11h10.52l5.26,9.11l-5.26,9.11h-10.52zM564.86,623.87l5.26,-9.11h10.52l5.26,9.11l-5.26,9.11h-10.52zM596.41,514.58l5.26,-9.11h10.52l5.26,9.11l-5.26,9.11h-10.52zM596.41,569.22l5.26,-9.11h10.52l5.26,9.11l-5.26,9.11h-10.52zM612.18,487.25l5.26,-9.11h10.52l5.26,9.11l-5.26,9.11h-10.52zM612.18,596.55l5.26,-9.11h10.52l5.26,9.11l-5.26,9.11h-10.52zM659.51,405.28l5.26,-9.11h10.52l5.26,9.11l-5.26,9.11h-10.52zM659.51,459.93l5.26,-9.11h10.52l5.26,9.11l-5.26,9.11h-10.52zM659.51,623.87l5.26,-9.11h10.52l5.26,9.11l-5.26,9.11h-10.52zM659.51,678.52l5.26,-9.11h10.52l5.26,9.11l-5.26,9.11h-10.52zM691.06,405.28l5.26,-9.11h10.52l5.26,9.11l-5.26,9.11h-10.52zM691.06,459.93l5.26,-9.11h10.52l5.26,9.11l-5.26,9.11h-10.52zM691.06,623.87l5.26,-9.11h10.52l5.26,9.11l-5.26,9.11h-10.52zM691.06,678.52l5.26,-9.11h10.52l5.26,9.11l-5.26,9.11h-10.52zM738.38,487.25l5.26,-9.11h10.52l5.26,9.11l-5.26,9.11h-10.52zM738.38,596.55l5.26,-9.11h10.52l5.26,9.11l-5.26,9.11h-10.52zM754.16,514.58l5.26,-9.11h10.52l5.26,9.11l-5.26,9.11h-10.52zM754.16,569.22l5.26,-9.11h10.52l5.26,9.11l-5.26,9.11h-10.52zM785.71,459.93l5.26,-9.11h10.52l5.26,9.11l-5.26,9.11h-10.52zM785.71,623.87l5.26,-9.11h10.52l5.26,9.11l-5.26,9.11h-10.52zM801.48,487.25l5.26,-9.11h10.52l5.26,9.11l-5.26,9.11h-10.52zM801.48,596.55l5.26,-9.11h10.52l5.26,9.11l-5.26,9.11h-10.52z"/>
<path fill="#471063" d="M549.08,505.47l5.26,-9.11h10.52l5.26,9.11l-5.26,9.11h-10.52zM549.08,578.33l5.26,-9.11h10.52l5.26,9.11l-5.26,9.11h-10.52zM564.86,496.36l5.26,-9.11h10.52l5.26,9.11l-5.26,9.11h-10.52zM564.86,587.44l5.26,-9.11h10.52l5.26,9.11l-5.26,9.11h-10.52zM580.63,414.39l5.26,-9.11h10.52l5.26,9.11l-5.26,9.11h-10.52zM580.63,432.61l5.26,-9.11h10.52l5.26,9.11l-5.26,9.11h-10.52zM580.63,450.82l5.26,-9.11h10.52l5.26,9.11l-5.26,9.11h-10.52zM580.63,469.04l5.26,-9.11h10.52l5.26,9.11l-5.26,9.11h-10.52zM580.63,487.25l5.26,-9.11h10.52l5.26,9.11l-5.26,9.11h-10.52zM580.63,505.47l5.26,-9.11h10.52l5.26,9.11l-5.26,9.11h-10.52zM580.63,578.33l5.26,-9.11h10.52l5.26,9.11l-5.26,9.11h-10.52zM580.63,596.55l5.26,-9.11h10.52l5.26,9.11l-5.26,9.11h-10.52zM580.63,614.76l5.26,-9.11h10.52l5.26,9.11l-5.26,9.11h-10.52zM580.63,632.98l5.26,-9.11h10.52l5.26,9.11l-5.26,9.11h-10.52zM580.63,651.19l5.26,-9.11h10.52l5.26,9.11l-5.26,9.11h-10.52zM580.63,669.41l5.26,-9.11h10.52l5.26,9.11l-5.26,9.11h-10.52zM596.41,478.15l5.26,-9.11h10.52l5.26,9.11l-5.26,9.11h-10.52zM596.41,605.65l5.26,-9.11h10.52l5.26,9.11l-5.26,9.11h-10.52zM612.18,396.18l5.26,-9.11h10.52l5.26,9.11l-5.26,9.11h-10.52zM612.18,687.62l5.26,-9.11h10.52l5.26,9.11l-5.26,9.11h-10.52zM627.96,405.28l5.26,-9.11h10.52l5.26,9.11l-5.26,9.11h-10.52zM627.96,678.52l5.26,-9.11h10.52l5.26,9.11l-5.26,9.11h-10.52zM643.73,414.39l5.26,-9.11h10.52l5.26,9.11l-5.26,9.11h-10.52zM643.73,669.41l5.26,-9.11h10.52l5.26,9.11l-5.26,9.11h-10.52zM659.51,423.5l5.26,-9.11h10.52l5.26,9.11l-5.26,9.11h-10.52zM659.51,441.72l5.26,-9.11h10.52l5.26,9.11l-5.26,9.11h-10.52zM659.51,642.08l5.26,-9.11h10.52l5.26,9.11l-5.26,9.11h-10.52zM659.51,660.3l5.26,-9.11h10.52l5.26,9.11l-5.26,9.11h-10.52zM675.28,432.61l5.26,-9.11h10.52l5.26,9.11l-5.26,9.11h-10.52zM675.28,651.19l5.26,-9.11h10.52l5.26,9.11l-5.26,9.11h-10.52zM691.06,423.5l5.26,-9.11h10.52l5.26,9.11l-5.26,9.11h-10.52zM691.06,441.72l5.26,-9.11h10.52l5.26,9.11l-5.26,9.11h-10.52zM691.06,642.08l5.26,-9.11h10.52l5.26,9.11l-5.26,9.11h-10.52zM691.06,660.3l5.26,-9.11h10.52l5.26,9.11l-5.26,9.11h-10.52zM706.83,414.39l5.26,-9.11h10.52l5.26,9.11l-5.26,9.11h-10.52zM706.83,669.41l5.26,-9.11h10.52l5.26,9.11l-5.26,9.11h-10.52zM722.61,405.28l5.26,-9.11h10.52l5.26,9.11l-5.26,9.11h-10.52zM722.61,678.52l5.26,-9.11h10.52l5.26,9.11l-5.26,9.11h-10.52zM738.38,396.18l5.26,-9.11h10.52l5.26,9.11l-5.26,9.11h-10.52zM738.38,687.62l5.26,-9.11h10.52l5.26,9.11l-5.26,9.11h-10.52zM754.16,478.15l5.26,-9.11h10.52l5.26,9.11l-5.26,9.11h-10.52zM754.16,605.65l5.26,-9.11h10.52l5.26,9.11l-5.26,9.11h-10.52zM769.93,414.39l5.26,-9.11h10.52l5.26,9.11l-5.26,9.11h-10.52zM769.93,432.61l5.26,-9.11h10.52l5.26,9.11l-5.26,9.11h-10.52zM769.93,450.82l5.26,-9.11h10.52l5.26,9.11l-5.26,9.11h-10.52zM769.93,469.04l5.26,-9.11h10.52l5.26,9.11l-5.26,9.11h-10.52zM769.93,487.25l5.26,-9.11h10.52l5.26,9.11l-5.26,9.11h-10.52zM769.93,505.47l5.26,-9.11h10.52l5.26,9.11l-5.26,9.11h-10.52zM769.93,578.33l5.26,-9.11h10.52l5.26,9.11l-5.26,9.11h-10.52zM769.93,596.55l5.26,-9.11h10.52l5.26,9.11l-5.26,9.11h-10.52zM769.93,614.76l5.26,-9.11h10.52l5.26,9.11l-5.26,9.11h-10.52zM769.93,632.98l5.26,-9.11h10.52l5.26,9.11l-5.26,9.11h-10.52zM769.93,651.19l5.26,-9.11h10.52l5.26,9.11l-5.26,9.11h-10.52zM769.93,669.41l5.26,-9.11h10.52l5.26,9.11l-5.26,9.11h-10.52zM785.71,496.36l5.26,-9.11h10.52l5.26,9.11l-5.26,9.11h-10.52zM785.71,587.44l5.26,-9.11h10.52l5.26,9.11l-5.26,9.11h-10.52zM801.48,505.47l5.26,-9.11h10.52l5.26,9.11l-5.26,9.11h-10.52zM801.48,578.33l5.26,-9.11h10.52l5.26,9.11l-5.26,9.11h-10.52z"/>
<path fill="#470d60" d="M549.08,523.68l5.26,-9.11h10.52l5.26,9.11l-5.26,9.11h-10.52zM549.08,560.12l5.26,-9.11h10.52l5.26,9.11l-5.26,9.11h-10.52zM564.86,532.79l5.26,-9.11h10.52l5.26,9.11l-5.26,9.11h-10.52zM564.86,551.01l5.26,-9.11h10.52l5.26,9.11l-5.26,9.11h-10.52zM596.41,405.28l5.26,-9.11h10.52l5.26,9.11l-5.26,9.11h-10.52zM596.41,423.5l5.26,-9.11h10.52l5.26,9.11l-5.26,9.11h-10.52zM596.41,441.72l5.26,-9.11h10.52l5.26,9.11l-5.26,9.11h-10.52zM596.41,642.08l5.26,-9.11h10.52l5.26,9.11l-5.26,9.11h-10.52zM596.41,660.3l5.26,-9.11h10.52l5.26,9.11l-5.26,9.11h-10.52zM596.41,678.52l5.26,-9.11h10.52l5.26,9.11l-5.26,9.11h-10.52zM612.18,414.39l5.26,-9.11h10.52l5.26,9.11l-5.26,9.11h-10.52zM612.18,450.82l5.26,-9.11h10.52l5.26,9.11l-5.26,9.11h-10.52zM612.18,632.98l5.26,-9.11h10.52l5.26,9.11l-5.26,9.11h-10.52zM612.18,669.41l5.26,-9.11h10.52l5.26,9.11l-5.26,9.11h-10.52zM627.96,423.5l5.26,-9.11h10.52l5.26,9.11l-5.26,9.11h-10.52zM627.96,441.72l5.26,-9.11h10.52l5.26,9.11l-5.26,9.11h-10.52zM627.96,642.08l5.26,-9.11h10.52l5.26,9.11l-5.26,9.11h-10.52zM627.96,660.3l5.26,-9.11h10.52l5.26,9.11l-5.26,9.11h-10.52zM722.61,423.5l5.26,-9.11h10.52l5.26,9.11l-5.26,9.11h-10.52zM722.61,441.72l5.26,-9.11h10.52l5.26,9.11l-5.26,9.11h-10.52zM722.61,642.08l5.26,-9.11h10.52l5.26,9.11l-5.26,9.11h-10.52zM722.61,660.3l5.26,-9.11h10.52l5.26,9.11l-5.26,9.11h-10.52zM738.38,414.39l5.26,-9.11h10.52l5.26,9.11l-5.26,9.11h-10.52zM738.38,450.82l5.26,-9.11h10.52l5.26,9.11l-5.26,9.11h-10.52zM738.38,632.98l5.26,-9.11h10.52l5.26,9.11l-5.26,9.11h-10.52zM738.38,669.41l5.26,-9.11h10.52l5.26,9.11l-5.26,9.11h-10.52zM754.16,405.28l5.26,-9.11h10.52l5.26,9.11l-5.26,9.11h-10.52zM754.16,423.5l5.26,-9.11h10.52l5.26,9.11l-5.26,9.11h-10.52zM754.16,441.72l5.26,-9.11h10.52l5.26,9.11l-5.26,9.11h-10.52zM754.16,642.08l5.26,-9.11h10.52l5.26,9.11l-5.26,9.11h-10.52zM754.16,660.3l5.26,-9.11h10.52l5.26,9.11l-5.26,9.11h-10.52zM754.16,678.52l5.26,-9.11h10.52l5.26,9.11l-5.26,9.11h-10.52zM785.71,532.79l5.26,-9.11h10.52l5.26,9.11l-5.26,9.11h-10.52zM785.71,551.01l5.26,-9.11h10.52l5.26,9.11l-5.26,9.11h-10.52zM801.48,523.68l5.26,-9.11h10.52l5.26,9.11l-5.26,9.11h-10.52zM801.48,560.12l5.26,-9.11h10.52l5.26,9.11l-5.26,9.11h-10.52z"/>
<path fill="#460b5e" d="M549.08,541.9l5.26,-9.11h10.52l5.26,9.11l-5.26,9.11h-10.52zM612.18,432.61l5.26,-9.11h10.52l5.26,9.11l-5.26,9.11h-10.52zM612.18,651.19l5.26,-9.11h10.52l5.26,9.11l-5.26,9.11h-10.52zM738.38,432.61l5.26,-9.11h10.52l5.26,9.11l-5.26,9.11h-10.52zM738.38,651.19l5.26,-9.11h10.52l5.26,9.11l-5.26,9.11h-10.52zM801.48,541.9l5.26,-9.11h10.52l5.26,9.11l-5.26,9.11h-10.52z"/>
<path fill="#471164" d="M564.86,387.07l5.26,-9.11h10.52l5.26,9.11l-5.26,9.11h-10.52zM564.86,696.73l5.26,-9.11h10.52l5.26,9.11l-5.26,9.11h-10.52zM580.63,523.68l5.26,-9.11h10.52l5.26,9.11l-5.26,9.11h-10.52zM580.63,541.9l5.26,-9.11h10.52l5.26,9.11l-5.26,9.11h-10.52zM580.63,560.12l5.26,-9.11h10.52l5.26,9.11l-5.26,9.11h-10.52zM612.18,469.04l5.26,-9.11h10.52l5.26,9.11l-5.26,9.11h-10.52zM612.18,614.76l5.26,-9.11h10.52l5.26,9.11l-5.26,9.11h-10.52zM627.96,459.93l5.26,-9.11h10.52l5.26,9.11l-5.26,9.11h-10.52zM627.96,623.87l5.26,-9.11h10.52l5.26,9.11l-5.26,9.11h-10.52zM643.73,450.82l5.26,-9.11h10.52l5.26,9.11l-5.26,9.11h-10.52zM643.73,632.98l5.26,-9.11h10.52l5.26,9.11l-5.26,9.11h-10.52zM706.83,450.82l5.26,-9.11h10.52l5.26,9.11l-5.26,9.11h-10.52zM706.83,632.98l5.26,-9.11h10.52l5.26,9.11l-5.26,9.11h-10.52zM722.61,459.93l5.26,-9.11h10.52l5.26,9.11l-5.26,9.11h-10.52zM722.61,623.87l5.26,-9.11h10.52l5.26,9.11l-5.26,9.11h-10.52zM738.38,469.04l5.26,-9.11h10.52l5.26,9.11l-5.26,9.11h-10.52zM738.38,614.76l5.26,-9.11h10.52l5.26,9.11l-5.26,9.11h-10.52zM769.93,523.68l5.26,-9.11h10.52l5.26,9.11l-5.26,9.11h-10.52zM769.93,541.9l5.26,-9.11h10.52l5.26,9.11l-5.26,9.11h-10.52zM769.93,560.12l5.26,-9.11h10.52l5.26,9.11l-5.26,9.11h-10.52zM785.71,387.07l5.26,-9.11h10.52l5.26,9.11l-5.26,9.11h-10.52zM785.71,696.73l5.26,-9.11h10.52l5.26,9.11l-5.26,9.11h-10.52z"/>
<path fill="#471365" d="M564.86,478.15l5.26,-9.11h10.52l5.26,9.11l-5.26,9.11h-10.52zM564.86,605.65l5.26,-9.11h10.52l5.26,9.11l-5.26,9.11h-10.52zM675.28,414.39l5.26,-9.11h10.52l5.26,9.11l-5.26,9.11h-10.52zM675.28,669.41l5.26,-9.11h10.52l5.26,9.11l-5.26,9.11h-10.52zM785.71,478.15l5.26,-9.11h10.52l5.26,9.11l-5.26,9.11h-10.52zM785.71,605.65l5.26,-9.11h10.52l5.26,9.11l-5.26,9.11h-10.52z"/>
<path fill="#470e61" d="M564.86,514.58l5.26,-9.11h10.52l5.26,9.11l-5.26,9.11h-10.52zM564.86,569.22l5.26,-9.11h10.52l5.26,9.11l-5.26,9.11h-10.52zM580.63,396.18l5.26,-9.11h10.52l5.26,9.11l-5.26,9.11h-10.52zM580.63,687.62l5.26,-9.11h10.52l5.26,9.11l-5.26,9.11h-10.52zM596.41,387.07l5.26,-9.11h10.52l5.26,9.11l-5.26,9.11h-10.52zM596.41,459.93l5.26,-9.11h10.52l5.26,9.11l-5.26,9.11h-10.52zM596.41,623.87l5.26,-9.11h10.52l5.26,9.11l-5.26,9.11h-10.52zM596.41,696.73l5.26,-9.11h10.52l5.26,9.11l-5.26,9.11h-10.52zM643.73,432.61l5.26,-9.11h10.52l5.26,9.11l-5.26,9.11h-10.52zM643.73,651.19l5.26,-9.11h10.52l5.26,9.11l-5.26,9.11h-10.52zM706.83,432.61l5.26,-9.11h10.52l5.26,9.11l-5.26,9.11h-10.52zM706.83,651.19l5.26,-9.11h10.52l5.26,9.11l-5.26,9.11h-10.52zM754.16,387.07l5.26,-9.11h10.52l5.26,9.11l-5.26,9.11h-10.52zM754.16,459.93l5.26,-9.11h10.52l5.26,9.11l-5.26,9.11h-10.52zM754.16,623.87l5.26,-9.11h10.52l5.26,9.11l-5.26,9.11h-10.52zM754.16,696.73l5.26,-9.11h10.52l5.26,9.11l-5.26,9.11h-10.52zM769.93,396.18l5.26,-9.11h10.52l5.26,9.11l-5.26,9.11h-10.52zM769.93,687.62l5.26,-9.11h10.52l5.26,9.11l-5.26,9.11h-10.52zM785.71,514.58l5.26,-9.11h10.52l5.26,9.11l-5.26,9.11h-10.52zM785.71,569.22l5.26,-9.11h10.52l5.26,9.11l-5.26,9.11h-10.52z"/>
<path fill="#481467" d="M596.41,496.36l5.26,-9.11h10.52l5.26,9.11l-5.26,9.11h-10.52zM596.41,587.44l5.26,-9.11h10.52l5.26,9.11l-5.26,9.11h-10.52zM675.28,450.82l5.26,-9.11h10.52l5.26,9.11l-5.26,9.11h-10.52zM675.28,632.98l5.26,-9.11h10.52l5.26,9.11l-5.26,9.11h-10.52zM754.16,496.36l5.26,-9.11h10.52l5.26,9.11l-5.26,9.11h-10.52zM754.16,587.44l5.26,-9.11h10.52l5.26,9.11l-5.26,9.11h-10.52z"/>
<path fill="#482878" d="M612.18,523.68l5.26,-9.11h10.52l5.26,9.11l-5.26,9.11h-10.52zM612.18,560.12l5.26,-9.11h10.52l5.26,9.11l-5.26,9.11h-10.52zM627.96,496.36l5.26,-9.11h10.52l5.26,9.11l-5.26,9.11h-10.52zM627.96,587.44l5.26,-9.11h10.52l5.26,9.11l-5.26,9.11h-10.52zM659.51,478.15l5.26,-9.11h10.52l5.26,9.11l-5.26,9.11h-10.52zM659.51,605.65l5.26,-9.11h10.52l5.26,9.11l-5.26,9.11h-10.52zM691.06,478.15l5.26,-9.11h10.52l5.26,9.11l-5.26,9.11h-10.52zM691.06,605.65l5.26,-9.11h10.52l5.26,9.11l-5.26,9.11h-10.52zM722.61,496.36l5.26,-9.11h10.52l5.26,9.11l-5.26,9.11h-10.52zM722.61,587.44l5.26,-9.11h10.52l5.26,9.11l-5.26,9.11h-10.52zM738.38,523.68l5.26,-9.11h10.52l5.26,9.11l-5.26,9.11h-10.52zM738.38,560.12l5.26,-9.11h10.52l5.26,9.11l-5.26,9.11h-10.52z"/>
<path fill="#472a7a" d="M612.18,541.9l5.26,-9.11h10.52l5.26,9.11l-5.26,9.11h-10.52zM643.73,487.25l5.26,-9.11h10.52l5.26,9.11l-5.26,9.11h-10.52zM643.73,596.55l5.26,-9.11h10.52l5.26,9.11l-5.26,9.11h-10.52zM706.83,487.25l5.26,-9.11h10.52l5.26,9.11l-5.26,9.11h-10.52zM706.83,596.55l5.26,-9.11h10.52l5.26,9.11l-5.26,9.11h-10.52zM738.38,541.9l5.26,-9.11h10.52l5.26,9.11l-5.26,9.11h-10.52z"/>
<path fill="#443a83" d="M627.96,514.58l5.26,-9.11h10.52l5.26,9.11l-5.26,9.11h-10.52zM627.96,569.22l5.26,-9.11h10.52l5.26,9.11l-5.26,9.11h-10.52zM675.28,487.25l5.26,-9.11h10.52l5.26,9.11l-5.26,9.11h-10.52zM675.28,596.55l5.26,-9.11h10.52l5.26,9.11l-5.26,9.11h-10.52zM722.61,514.58l5.26,-9.11h10.52l5.26,9.11l-5.26,9.11h-10.52zM722.61,569.22l5.26,-9.11h10.52l5.26,9.11l-5.26,9.11h-10.52z"/>
<path fill="#3e4989" d="M627.96,532.79l5.26,-9.11h10.52l5.26,9.11l-5.26,9.11h-10.52zM627.96,551.01l5.26,-9.11h10.52l5.26,9.11l-5.26,9.11h-10.52zM643.73,505.47l5.26,-9.11h10.52l5.26,9.11l-5.26,9.11h-10.52zM643.73,578.33l5.26,-9.11h10.52l5.26,9.11l-5.26,9.11h-10.52zM659.51,496.36l5.26,-9.11h10.52l5.26,9.11l-5.26,9.11h-10.52zM659.51,587.44l5.26,-9.11h10.52l5.26,9.11l-5.26,9.11h-10.52zM691.06,496.36l5.26,-9.11h10.52l5.26,9.11l-5.26,9.11h-10.52zM691.06,587.44l5.26,-9.11h10.52l5.26,9.11l-5.26,9.11h-10.52zM706.83,505.47l5.26,-9.11h10.52l5.26,9.11l-5.26,9.11h-10.52zM706.83,578.33l5.26,-9.11h10.52l5.26,9.11l-5.26,9.11h-10.52zM722.61,532.79l5.26,-9.11h10.52l5.26,9.11l-5.26,9.11h-10.52zM722.61,551.01l5.26,-9.11h10.52l5.26,9.11l-5.26,9.11h-10.52z"/>
<path fill="#2e6e8e" d="M643.73,523.68l5.26,-9.11h10.52l5.26,9.11l-5.26,9.11h-10.52zM643.73,560.12l5.26,-9.11h10.52l5.26,9.11l-5.26,9.11h-10.52zM675.28,505.47l5.26,-9.11h10.52l5.26,9.11l-5.26,9.11h-10.52zM675.28,578.33l5.26,-9.11h10.52l5.26,9.11l-5.26,9.11h-10.52zM706.83,523.68l5.26,-9.11h10.52l5.26,9.11l-5.26,9.11h-10.52zM706.83,560.12l5.26,-9.11h10.52l5.26,9.11l-5.26,9.11h-10.52z"/>
<path fill="#26828e" d="M643.73,541.9l5.26,-9.11h10.52l5.26,9.11l-5.26,9.11h-10.52zM659.51,514.58l5.26,-9.11h10.52l5.26,9.11l-5.26,9.11h-10.52zM659.51,569.22l5.26,-9.11h10.52l5.26,9.11l-5.26,9.11h-10.52zM691.06,514.58l5.26,-9.11h10.52l5.26,9.11l-5.26,9.11h-10.52zM691.06,569.22l5.26,-9.11h10.52l5.26,9.11l-5.26,9.11h-10.52zM706.83,541.9l5.26,-9.11h10.52l5.26,9.11l-5.26,9.11h-10.52z"/>
<path fill="#56c667" d="M659.51,532.79l5.26,-9.11h10.52l5.26,9.11l-5.26,9.11h-10.52zM659.51,551.01l5.26,-9.11h10.52l5.26,9.11l-5.26,9.11h-10.52zM675.28,523.68l5.26,-9.11h10.52l5.26,9.11l-5.26,9.11h-10.52zM675.28,560.12l5.26,-9.11h10.52l5.26,9.11l-5.26,9.11h-10.52zM691.06,532.79l5.26,-9.11h10.52l5.26,9.11l-5.26,9.11h-10.52zM691.06,551.01l5.26,-9.11h10.52l5.26,9.11l-5.26,9.11h-10.52z"/>
<path fill="#fde725" d="M675.28,541.9l5.26,-9.11h10.52l5.26,9.11l-5.26,9.11h-10.52z"/>
</g>
<polygon points="812.0,541.9 748.9,432.6 622.7,432.6 559.6,541.9 622.7,651.2 748.9,651.2" fill="none" stroke="#000" stroke-width="2.6" stroke-linejoin="miter"/>
<rect x="553.5" y="406.4" width="47.5" height="41" fill="#fff"/>
<text x="563" y="436.1" font-size="26" fill="#d40a0a">D<tspan font-size="16.5" dy="6.2" dx="-0.2">II</tspan></text>
<clipPath id="c854_396"><rect x="854" y="396.9" width="290.6" height="290.6"/></clipPath>
<g clip-path="url(#c854_396)" stroke="#fff" stroke-opacity="0.45" stroke-width="0.4" stroke-dasharray="1.2 0.8">
<rect x="854" y="396.9" width="290.6" height="290.6" fill="#2a788e" stroke="none"/>
<path fill="#404688" d="M831.53,396.18l5.26,-9.11h10.52l5.26,9.11l-5.26,9.11h-10.52zM831.53,469.04l5.26,-9.11h10.52l5.26,9.11l-5.26,9.11h-10.52zM831.53,614.76l5.26,-9.11h10.52l5.26,9.11l-5.26,9.11h-10.52zM831.53,687.62l5.26,-9.11h10.52l5.26,9.11l-5.26,9.11h-10.52zM847.31,423.5l5.26,-9.11h10.52l5.26,9.11l-5.26,9.11h-10.52zM847.31,441.72l5.26,-9.11h10.52l5.26,9.11l-5.26,9.11h-10.52zM847.31,642.08l5.26,-9.11h10.52l5.26,9.11l-5.26,9.11h-10.52zM847.31,660.3l5.26,-9.11h10.52l5.26,9.11l-5.26,9.11h-10.52zM941.96,532.79l5.26,-9.11h10.52l5.26,9.11l-5.26,9.11h-10.52zM941.96,551.01l5.26,-9.11h10.52l5.26,9.11l-5.26,9.11h-10.52zM957.73,505.47l5.26,-9.11h10.52l5.26,9.11l-5.26,9.11h-10.52zM957.73,578.33l5.26,-9.11h10.52l5.26,9.11l-5.26,9.11h-10.52zM973.51,496.36l5.26,-9.11h10.52l5.26,9.11l-5.26,9.11h-10.52zM973.51,587.44l5.26,-9.11h10.52l5.26,9.11l-5.26,9.11h-10.52zM1005.06,496.36l5.26,-9.11h10.52l5.26,9.11l-5.26,9.11h-10.52zM1005.06,587.44l5.26,-9.11h10.52l5.26,9.11l-5.26,9.11h-10.52zM1020.83,505.47l5.26,-9.11h10.52l5.26,9.11l-5.26,9.11h-10.52zM1020.83,578.33l5.26,-9.11h10.52l5.26,9.11l-5.26,9.11h-10.52zM1036.61,532.79l5.26,-9.11h10.52l5.26,9.11l-5.26,9.11h-10.52zM1036.61,551.01l5.26,-9.11h10.52l5.26,9.11l-5.26,9.11h-10.52zM1131.26,423.5l5.26,-9.11h10.52l5.26,9.11l-5.26,9.11h-10.52zM1131.26,441.72l5.26,-9.11h10.52l5.26,9.11l-5.26,9.11h-10.52zM1131.26,642.08l5.26,-9.11h10.52l5.26,9.11l-5.26,9.11h-10.52zM1131.26,660.3l5.26,-9.11h10.52l5.26,9.11l-5.26,9.11h-10.52zM1147.03,396.18l5.26,-9.11h10.52l5.26,9.11l-5.26,9.11h-10.52zM1147.03,469.04l5.26,-9.11h10.52l5.26,9.11l-5.26,9.11h-10.52zM1147.03,614.76l5.26,-9.11h10.52l5.26,9.11l-5.26,9.11h-10.52zM1147.03,687.62l5.26,-9.11h10.52l5.26,9.11l-5.26,9.11h-10.52z"/>
<path fill="#472c7a" d="M831.53,414.39l5.26,-9.11h10.52l5.26,9.11l-5.26,9.11h-10.52zM831.53,450.82l5.26,-9.11h10.52l5.26,9.11l-5.26,9.11h-10.52zM831.53,632.98l5.26,-9.11h10.52l5.26,9.11l-5.26,9.11h-10.52zM831.53,669.41l5.26,-9.11h10.52l5.26,9.11l-5.26,9.11h-10.52zM957.73,523.68l5.26,-9.11h10.52l5.26,9.11l-5.26,9.11h-10.52zM957.73,560.12l5.26,-9.11h10.52l5.26,9.11l-5.26,9.11h-10.52zM989.28,505.47l5.26,-9.11h10.52l5.26,9.11l-5.26,9.11h-10.52zM989.28,578.33l5.26,-9.11h10.52l5.26,9.11l-5.26,9.11h-10.52zM1020.83,523.68l5.26,-9.11h10.52l5.26,9.11l-5.26,9.11h-10.52zM1020.83,560.12l5.26,-9.11h10.52l5.26,9.11l-5.26,9.11h-10.52zM1147.03,414.39l5.26,-9.11h10.52l5.26,9.11l-5.26,9.11h-10.52zM1147.03,450.82l5.26,-9.11h10.52l5.26,9.11l-5.26,9.11h-10.52zM1147.03,632.98l5.26,-9.11h10.52l5.26,9.11l-5.26,9.11h-10.52zM1147.03,669.41l5.26,-9.11h10.52l5.26,9.11l-5.26,9.11h-10.52z"/>
<path fill="#482374" d="M831.53,432.61l5.26,-9.11h10.52l5.26,9.11l-5.26,9.11h-10.52zM831.53,651.19l5.26,-9.11h10.52l5.26,9.11l-5.26,9.11h-10.52zM957.73,541.9l5.26,-9.11h10.52l5.26,9.11l-5.26,9.11h-10.52zM973.51,514.58l5.26,-9.11h10.52l5.26,9.11l-5.26,9.11h-10.52zM973.51,569.22l5.26,-9.11h10.52l5.26,9.11l-5.26,9.11h-10.52zM1005.06,514.58l5.26,-9.11h10.52l5.26,9.11l-5.26,9.11h-10.52zM1005.06,569.22l5.26,-9.11h10.52l5.26,9.11l-5.26,9.11h-10.52zM1020.83,541.9l5.26,-9.11h10.52l5.26,9.11l-5.26,9.11h-10.52zM1147.03,432.61l5.26,-9.11h10.52l5.26,9.11l-5.26,9.11h-10.52zM1147.03,651.19l5.26,-9.11h10.52l5.26,9.11l-5.26,9.11h-10.52z"/>
<path fill="#31688e" d="M831.53,487.25l5.26,-9.11h10.52l5.26,9.11l-5.26,9.11h-10.52zM831.53,596.55l5.26,-9.11h10.52l5.26,9.11l-5.26,9.11h-10.52zM863.08,432.61l5.26,-9.11h10.52l5.26,9.11l-5.26,9.11h-10.52zM863.08,651.19l5.26,-9.11h10.52l5.26,9.11l-5.26,9.11h-10.52zM926.18,541.9l5.26,-9.11h10.52l5.26,9.11l-5.26,9.11h-10.52zM957.73,487.25l5.26,-9.11h10.52l5.26,9.11l-5.26,9.11h-10.52zM957.73,596.55l5.26,-9.11h10.52l5.26,9.11l-5.26,9.11h-10.52zM1020.83,487.25l5.26,-9.11h10.52l5.26,9.11l-5.26,9.11h-10.52zM1020.83,596.55l5.26,-9.11h10.52l5.26,9.11l-5.26,9.11h-10.52zM1052.38,541.9l5.26,-9.11h10.52l5.26,9.11l-5.26,9.11h-10.52zM1115.48,432.61l5.26,-9.11h10.52l5.26,9.11l-5.26,9.11h-10.52zM1115.48,651.19l5.26,-9.11h10.52l5.26,9.11l-5.26,9.11h-10.52zM1147.03,487.25l5.26,-9.11h10.52l5.26,9.11l-5.26,9.11h-10.52zM1147.03,596.55l5.26,-9.11h10.52l5.26,9.11l-5.26,9.11h-10.52z"/>
<path fill="#21918c" d="M831.53,505.47l5.26,-9.11h10.52l5.26,9.11l-5.26,9.11h-10.52zM831.53,578.33l5.26,-9.11h10.52l5.26,9.11l-5.26,9.11h-10.52zM847.31,496.36l5.26,-9.11h10.52l5.26,9.11l-5.26,9.11h-10.52zM847.31,587.44l5.26,-9.11h10.52l5.26,9.11l-5.26,9.11h-10.52zM878.86,423.5l5.26,-9.11h10.52l5.26,9.11l-5.26,9.11h-10.52zM878.86,441.72l5.26,-9.11h10.52l5.26,9.11l-5.26,9.11h-10.52zM878.86,642.08l5.26,-9.11h10.52l5.26,9.11l-5.26,9.11h-10.52zM878.86,660.3l5.26,-9.11h10.52l5.26,9.11l-5.26,9.11h-10.52zM910.41,532.79l5.26,-9.11h10.52l5.26,9.11l-5.26,9.11h-10.52zM910.41,551.01l5.26,-9.11h10.52l5.26,9.11l-5.26,9.11h-10.52zM941.96,387.07l5.26,-9.11h10.52l5.26,9.11l-5.26,9.11h-10.52zM941.96,478.15l5.26,-9.11h10.52l5.26,9.11l-5.26,9.11h-10.52zM941.96,605.65l5.26,-9.11h10.52l5.26,9.11l-5.26,9.11h-10.52zM941.96,696.73l5.26,-9.11h10.52l5.26,9.11l-5.26,9.11h-10.52zM957.73,396.18l5.26,-9.11h10.52l5.26,9.11l-5.26,9.11h-10.52zM957.73,469.04l5.26,-9.11h10.52l5.26,9.11l-5.26,9.11h-10.52zM957.73,614.76l5.26,-9.11h10.52l5.26,9.11l-5.26,9.11h-10.52zM957.73,687.62l5.26,-9.11h10.52l5.26,9.11l-5.26,9.11h-10.52zM1020.83,396.18l5.26,-9.11h10.52l5.26,9.11l-5.26,9.11h-10.52zM1020.83,469.04l5.26,-9.11h10.52l5.26,9.11l-5.26,9.11h-10.52zM1020.83,614.76l5.26,-9.11h10.52l5.26,9.11l-5.26,9.11h-10.52zM1020.83,687.62l5.26,-9.11h10.52l5.26,9.11l-5.26,9.11h-10.52zM1036.61,387.07l5.26,-9.11h10.52l5.26,9.11l-5.26,9.11h-10.52zM1036.61,478.15l5.26,-9.11h10.52l5.26,9.11l-5.26,9.11h-10.52zM1036.61,605.65l5.26,-9.11h10.52l5.26,9.11l-5.26,9.11h-10.52zM1036.61,696.73l5.26,-9.11h10.52l5.26,9.11l-5.26,9.11h-10.52zM1068.16,532.79l5.26,-9.11h10.52l5.26,9.11l-5.26,9.11h-10.52zM1068.16,551.01l5.26,-9.11h10.52l5.26,9.11l-5.26,9.11h-10.52zM1099.71,423.5l5.26,-9.11h10.52l5.26,9.11l-5.26,9.11h-10.52zM1099.71,441.72l5.26,-9.11h10.52l5.26,9.11l-5.26,9.11h-10.52zM1099.71,642.08l5.26,-9.11h10.52l5.26,9.11l-5.26,9.11h-10.52zM1099.71,660.3l5.26,-9.11h10.52l5.26,9.11l-5.26,9.11h-10.52zM1131.26,496.36l5.26,-9.11h10.52l5.26,9.11l-5.26,9.11h-10.52zM1131.26,587.44l5.26,-9.11h10.52l5.26,9.11l-5.26,9.11h-10.52zM1147.03,505.47l5.26,-9.11h10.52l5.26,9.11l-5.26,9.11h-10.52zM1147.03,578.33l5.26,-9.11h10.52l5.26,9.11l-5.26,9.11h-10.52z"/>
<path fill="#52c569" d="M831.53,523.68l5.26,-9.11h10.52l5.26,9.11l-5.26,9.11h-10.52zM831.53,560.12l5.26,-9.11h10.52l5.26,9.11l-5.26,9.11h-10.52zM863.08,505.47l5.26,-9.11h10.52l5.26,9.11l-5.26,9.11h-10.52zM863.08,578.33l5.26,-9.11h10.52l5.26,9.11l-5.26,9.11h-10.52zM894.63,414.39l5.26,-9.11h10.52l5.26,9.11l-5.26,9.11h-10.52zM894.63,450.82l5.26,-9.11h10.52l5.26,9.11l-5.26,9.11h-10.52zM894.63,523.68l5.26,-9.11h10.52l5.26,9.11l-5.26,9.11h-10.52zM894.63,560.12l5.26,-9.11h10.52l5.26,9.11l-5.26,9.11h-10.52zM894.63,632.98l5.26,-9.11h10.52l5.26,9.11l-5.26,9.11h-10.52zM894.63,669.41l5.26,-9.11h10.52l5.26,9.11l-5.26,9.11h-10.52zM926.18,396.18l5.26,-9.11h10.52l5.26,9.11l-5.26,9.11h-10.52zM926.18,469.04l5.26,-9.11h10.52l5.26,9.11l-5.26,9.11h-10.52zM926.18,614.76l5.26,-9.11h10.52l5.26,9.11l-5.26,9.11h-10.52zM926.18,687.62l5.26,-9.11h10.52l5.26,9.11l-5.26,9.11h-10.52zM957.73,414.39l5.26,-9.11h10.52l5.26,9.11l-5.26,9.11h-10.52zM957.73,450.82l5.26,-9.11h10.52l5.26,9.11l-5.26,9.11h-10.52zM957.73,632.98l5.26,-9.11h10.52l5.26,9.11l-5.26,9.11h-10.52zM957.73,669.41l5.26,-9.11h10.52l5.26,9.11l-5.26,9.11h-10.52zM1020.83,414.39l5.26,-9.11h10.52l5.26,9.11l-5.26,9.11h-10.52zM1020.83,450.82l5.26,-9.11h10.52l5.26,9.11l-5.26,9.11h-10.52zM1020.83,632.98l5.26,-9.11h10.52l5.26,9.11l-5.26,9.11h-10.52zM1020.83,669.41l5.26,-9.11h10.52l5.26,9.11l-5.26,9.11h-10.52zM1052.38,396.18l5.26,-9.11h10.52l5.26,9.11l-5.26,9.11h-10.52zM1052.38,469.04l5.26,-9.11h10.52l5.26,9.11l-5.26,9.11h-10.52zM1052.38,614.76l5.26,-9.11h10.52l5.26,9.11l-5.26,9.11h-10.52zM1052.38,687.62l5.26,-9.11h10.52l5.26,9.11l-5.26,9.11h-10.52zM1083.93,414.39l5.26,-9.11h10.52l5.26,9.11l-5.26,9.11h-10.52zM1083.93,450.82l5.26,-9.11h10.52l5.26,9.11l-5.26,9.11h-10.52zM1083.93,523.68l5.26,-9.11h10.52l5.26,9.11l-5.26,9.11h-10.52zM1083.93,560.12l5.26,-9.11h10.52l5.26,9.11l-5.26,9.11h-10.52zM1083.93,632.98l5.26,-9.11h10.52l5.26,9.11l-5.26,9.11h-10.52zM1083.93,669.41l5.26,-9.11h10.52l5.26,9.11l-5.26,9.11h-10.52zM1115.48,505.47l5.26,-9.11h10.52l5.26,9.11l-5.26,9.11h-10.52zM1115.48,578.33l5.26,-9.11h10.52l5.26,9.11l-5.26,9.11h-10.52zM1147.03,523.68l5.26,-9.11h10.52l5.26,9.11l-5.26,9.11h-10.52zM1147.03,560.12l5.26,-9.11h10.52l5.26,9.11l-5.26,9.11h-10.52z"/>
<path fill="#a2da37" d="M831.53,541.9l5.26,-9.11h10.52l5.26,9.11l-5.26,9.11h-10.52zM878.86,514.58l5.26,-9.11h10.52l5.26,9.11l-5.26,9.11h-10.52zM878.86,569.22l5.26,-9.11h10.52l5.26,9.11l-5.26,9.11h-10.52zM910.41,405.28l5.26,-9.11h10.52l5.26,9.11l-5.26,9.11h-10.52zM910.41,459.93l5.26,-9.11h10.52l5.26,9.11l-5.26,9.11h-10.52zM910.41,623.87l5.26,-9.11h10.52l5.26,9.11l-5.26,9.11h-10.52zM910.41,678.52l5.26,-9.11h10.52l5.26,9.11l-5.26,9.11h-10.52zM957.73,432.61l5.26,-9.11h10.52l5.26,9.11l-5.26,9.11h-10.52zM957.73,651.19l5.26,-9.11h10.52l5.26,9.11l-5.26,9.11h-10.52zM1020.83,432.61l5.26,-9.11h10.52l5.26,9.11l-5.26,9.11h-10.52zM1020.83,651.19l5.26,-9.11h10.52l5.26,9.11l-5.26,9.11h-10.52zM1068.16,405.28l5.26,-9.11h10.52l5.26,9.11l-5.26,9.11h-10.52zM1068.16,459.93l5.26,-9.11h10.52l5.26,9.11l-5.26,9.11h-10.52zM1068.16,623.87l5.26,-9.11h10.52l5.26,9.11l-5.26,9.11h-10.52zM1068.16,678.52l5.26,-9.11h10.52l5.26,9.11l-5.26,9.11h-10.52zM1099.71,514.58l5.26,-9.11h10.52l5.26,9.11l-5.26,9.11h-10.52zM1099.71,569.22l5.26,-9.11h10.52l5.26,9.11l-5.26,9.11h-10.52zM1147.03,541.9l5.26,-9.11h10.52l5.26,9.11l-5.26,9.11h-10.52z"/>
<path fill="#2d718e" d="M847.31,387.07l5.26,-9.11h10.52l5.26,9.11l-5.26,9.11h-10.52zM847.31,478.15l5.26,-9.11h10.52l5.26,9.11l-5.26,9.11h-10.52zM847.31,605.65l5.26,-9.11h10.52l5.26,9.11l-5.26,9.11h-10.52zM847.31,696.73l5.26,-9.11h10.52l5.26,9.11l-5.26,9.11h-10.52zM863.08,414.39l5.26,-9.11h10.52l5.26,9.11l-5.26,9.11h-10.52zM863.08,450.82l5.26,-9.11h10.52l5.26,9.11l-5.26,9.11h-10.52zM863.08,632.98l5.26,-9.11h10.52l5.26,9.11l-5.26,9.11h-10.52zM863.08,669.41l5.26,-9.11h10.52l5.26,9.11l-5.26,9.11h-10.52zM926.18,523.68l5.26,-9.11h10.52l5.26,9.11l-5.26,9.11h-10.52zM926.18,560.12l5.26,-9.11h10.52l5.26,9.11l-5.26,9.11h-10.52zM941.96,496.36l5.26,-9.11h10.52l5.26,9.11l-5.26,9.11h-10.52zM941.96,587.44l5.26,-9.11h10.52l5.26,9.11l-5.26,9.11h-10.52zM973.51,387.07l5.26,-9.11h10.52l5.26,9.11l-5.26,9.11h-10.52zM973.51,478.15l5.26,-9.11h10.52l5.26,9.11l-5.26,9.11h-10.52zM973.51,605.65l5.26,-9.11h10.52l5.26,9.11l-5.26,9.11h-10.52zM973.51,696.73l5.26,-9.11h10.52l5.26,9.11l-5.26,9.11h-10.52zM1005.06,387.07l5.26,-9.11h10.52l5.26,9.11l-5.26,9.11h-10.52zM1005.06,478.15l5.26,-9.11h10.52l5.26,9.11l-5.26,9.11h-10.52zM1005.06,605.65l5.26,-9.11h10.52l5.26,9.11l-5.26,9.11h-10.52zM1005.06,696.73l5.26,-9.11h10.52l5.26,9.11l-5.26,9.11h-10.52zM1036.61,496.36l5.26,-9.11h10.52l5.26,9.11l-5.26,9.11h-10.52zM1036.61,587.44l5.26,-9.11h10.52l5.26,9.11l-5.26,9.11h-10.52zM1052.38,523.68l5.26,-9.11h10.52l5.26,9.11l-5.26,9.11h-10.52zM1052.38,560.12l5.26,-9.11h10.52l5.26,9.11l-5.26,9.11h-10.52zM1115.48,414.39l5.26,-9.11h10.52l5.26,9.11l-5.26,9.11h-10.52zM1115.48,450.82l5.26,-9.11h10.52l5.26,9.11l-5.26,9.11h-10.52zM1115.48,632.98l5.26,-9.11h10.52l5.26,9.11l-5.26,9.11h-10.52zM1115.48,669.41l5.26,-9.11h10.52l5.26,9.11l-5.26,9.11h-10.52zM1131.26,387.07l5.26,-9.11h10.52l5.26,9.11l-5.26,9.11h-10.52zM1131.26,478.15l5.26,-9.11h10.52l5.26,9.11l-5.26,9.11h-10.52zM1131.26,605.65l5.26,-9.11h10.52l5.26,9.11l-5.26,9.11h-10.52zM1131.26,696.73l5.26,-9.11h10.52l5.26,9.11l-5.26,9.11h-10.52z"/>
<path fill="#39558c" d="M847.31,405.28l5.26,-9.11h10.52l5.26,9.11l-5.26,9.11h-10.52zM847.31,459.93l5.26,-9.11h10.52l5.26,9.11l-5.26,9.11h-10.52zM847.31,623.87l5.26,-9.11h10.52l5.26,9.11l-5.26,9.11h-10.52zM847.31,678.52l5.26,-9.11h10.52l5.26,9.11l-5.26,9.11h-10.52zM941.96,514.58l5.26,-9.11h10.52l5.26,9.11l-5.26,9.11h-10.52zM941.96,569.22l5.26,-9.11h10.52l5.26,9.11l-5.26,9.11h-10.52zM989.28,487.25l5.26,-9.11h10.52l5.26,9.11l-5.26,9.11h-10.52zM989.28,596.55l5.26,-9.11h10.52l5.26,9.11l-5.26,9.11h-10.52zM1036.61,514.58l5.26,-9.11h10.52l5.26,9.11l-5.26,9.11h-10.52zM1036.61,569.22l5.26,-9.11h10.52l5.26,9.11l-5.26,9.11h-10.52zM1131.26,405.28l5.26,-9.11h10.52l5.26,9.11l-5.26,9.11h-10.52zM1131.26,459.93l5.26,-9.11h10.52l5.26,9.11l-5.26,9.11h-10.52zM1131.26,623.87l5.26,-9.11h10.52l5.26,9.11l-5.26,9.11h-10.52zM1131.26,678.52l5.26,-9.11h10.52l5.26,9.11l-5.26,9.11h-10.52z"/>
<path fill="#2eb37c" d="M847.31,514.58l5.26,-9.11h10.52l5.26,9.11l-5.26,9.11h-10.52zM847.31,569.22l5.26,-9.11h10.52l5.26,9.11l-5.26,9.11h-10.52zM894.63,432.61l5.26,-9.11h10.52l5.26,9.11l-5.26,9.11h-10.52zM894.63,541.9l5.26,-9.11h10.52l5.26,9.11l-5.26,9.11h-10.52zM894.63,651.19l5.26,-9.11h10.52l5.26,9.11l-5.26,9.11h-10.52zM941.96,405.28l5.26,-9.11h10.52l5.26,9.11l-5.26,9.11h-10.52zM941.96,459.93l5.26,-9.11h10.52l5.26,9.11l-5.26,9.11h-10.52zM941.96,623.87l5.26,-9.11h10.52l5.26,9.11l-5.26,9.11h-10.52zM941.96,678.52l5.26,-9.11h10.52l5.26,9.11l-5.26,9.11h-10.52zM1036.61,405.28l5.26,-9.11h10.52l5.26,9.11l-5.26,9.11h-10.52zM1036.61,459.93l5.26,-9.11h10.52l5.26,9.11l-5.26,9.11h-10.52zM1036.61,623.87l5.26,-9.11h10.52l5.26,9.11l-5.26,9.11h-10.52zM1036.61,678.52l5.26,-9.11h10.52l5.26,9.11l-5.26,9.11h-10.52zM1083.93,432.61l5.26,-9.11h10.52l5.26,9.11l-5.26,9.11h-10.52zM1083.93,541.9l5.26,-9.11h10.52l5.26,9.11l-5.26,9.11h-10.52zM1083.93,651.19l5.26,-9.11h10.52l5.26,9.11l-5.26,9.11h-10.52zM1131.26,514.58l5.26,-9.11h10.52l5.26,9.11l-5.26,9.11h-10.52zM1131.26,569.22l5.26,-9.11h10.52l5.26,9.11l-5.26,9.11h-10.52z"/>
<path fill="#67cc5c" d="M847.31,532.79l5.26,-9.11h10.52l5.26,9.11l-5.26,9.11h-10.52zM847.31,551.01l5.26,-9.11h10.52l5.26,9.11l-5.26,9.11h-10.52zM863.08,523.68l5.26,-9.11h10.52l5.26,9.11l-5.26,9.11h-10.52zM863.08,560.12l5.26,-9.11h10.52l5.26,9.11l-5.26,9.11h-10.52zM878.86,532.79l5.26,-9.11h10.52l5.26,9.11l-5.26,9.11h-10.52zM878.86,551.01l5.26,-9.11h10.52l5.26,9.11l-5.26,9.11h-10.52zM910.41,423.5l5.26,-9.11h10.52l5.26,9.11l-5.26,9.11h-10.52zM910.41,441.72l5.26,-9.11h10.52l5.26,9.11l-5.26,9.11h-10.52zM910.41,642.08l5.26,-9.11h10.52l5.26,9.11l-5.26,9.11h-10.52zM910.41,660.3l5.26,-9.11h10.52l5.26,9.11l-5.26,9.11h-10.52zM926.18,414.39l5.26,-9.11h10.52l5.26,9.11l-5.26,9.11h-10.52zM926.18,450.82l5.26,-9.11h10.52l5.26,9.11l-5.26,9.11h-10.52zM926.18,632.98l5.26,-9.11h10.52l5.26,9.11l-5.26,9.11h-10.52zM926.18,669.41l5.26,-9.11h10.52l5.26,9.11l-5.26,9.11h-10.52zM941.96,423.5l5.26,-9.11h10.52l5.26,9.11l-5.26,9.11h-10.52zM941.96,441.72l5.26,-9.11h10.52l5.26,9.11l-5.26,9.11h-10.52zM941.96,642.08l5.26,-9.11h10.52l5.26,9.11l-5.26,9.11h-10.52zM941.96,660.3l5.26,-9.11h10.52l5.26,9.11l-5.26,9.11h-10.52zM1036.61,423.5l5.26,-9.11h10.52l5.26,9.11l-5.26,9.11h-10.52zM1036.61,441.72l5.26,-9.11h10.52l5.26,9.11l-5.26,9.11h-10.52zM1036.61,642.08l5.26,-9.11h10.52l5.26,9.11l-5.26,9.11h-10.52zM1036.61,660.3l5.26,-9.11h10.52l5.26,9.11l-5.26,9.11h-10.52zM1052.38,414.39l5.26,-9.11h10.52l5.26,9.11l-5.26,9.11h-10.52zM1052.38,450.82l5.26,-9.11h10.52l5.26,9.11l-5.26,9.11h-10.52zM1052.38,632.98l5.26,-9.11h10.52l5.26,9.11l-5.26,9.11h-10.52zM1052.38,669.41l5.26,-9.11h10.52l5.26,9.11l-5.26,9.11h-10.52zM1068.16,423.5l5.26,-9.11h10.52l5.26,9.11l-5.26,9.11h-10.52zM1068.16,441.72l5.26,-9.11h10.52l5.26,9.11l-5.26,9.11h-10.52zM1068.16,642.08l5.26,-9.11h10.52l5.26,9.11l-5.26,9.11h-10.52zM1068.16,660.3l5.26,-9.11h10.52l5.26,9.11l-5.26,9.11h-10.52zM1099.71,532.79l5.26,-9.11h10.52l5.26,9.11l-5.26,9.11h-10.52zM1099.71,551.01l5.26,-9.11h10.52l5.26,9.11l-5.26,9.11h-10.52zM1115.48,523.68l5.26,-9.11h10.52l5.26,9.11l-5.26,9.11h-10.52zM1115.48,560.12l5.26,-9.11h10.52l5.26,9.11l-5.26,9.11h-10.52zM1131.26,532.79l5.26,-9.11h10.52l5.26,9.11l-5.26,9.11h-10.52zM1131.26,551.01l5.26,-9.11h10.52l5.26,9.11l-5.26,9.11h-10.52z"/>
<path fill="#228b8d" d="M863.08,396.18l5.26,-9.11h10.52l5.26,9.11l-5.26,9.11h-10.52zM863.08,469.04l5.26,-9.11h10.52l5.26,9.11l-5.26,9.11h-10.52zM863.08,614.76l5.26,-9.11h10.52l5.26,9.11l-5.26,9.11h-10.52zM863.08,687.62l5.26,-9.11h10.52l5.26,9.11l-5.26,9.11h-10.52zM926.18,505.47l5.26,-9.11h10.52l5.26,9.11l-5.26,9.11h-10.52zM926.18,578.33l5.26,-9.11h10.52l5.26,9.11l-5.26,9.11h-10.52zM989.28,396.18l5.26,-9.11h10.52l5.26,9.11l-5.26,9.11h-10.52zM989.28,469.04l5.26,-9.11h10.52l5.26,9.11l-5.26,9.11h-10.52zM989.28,614.76l5.26,-9.11h10.52l5.26,9.11l-5.26,9.11h-10.52zM989.28,687.62l5.26,-9.11h10.52l5.26,9.11l-5.26,9.11h-10.52zM1052.38,505.47l5.26,-9.11h10.52l5.26,9.11l-5.26,9.11h-10.52zM1052.38,578.33l5.26,-9.11h10.52l5.26,9.11l-5.26,9.11h-10.52zM1115.48,396.18l5.26,-9.11h10.52l5.26,9.11l-5.26,9.11h-10.52zM1115.48,469.04l5.26,-9.11h10.52l5.26,9.11l-5.26,9.11h-10.52zM1115.48,614.76l5.26,-9.11h10.52l5.26,9.11l-5.26,9.11h-10.52zM1115.48,687.62l5.26,-9.11h10.52l5.26,9.11l-5.26,9.11h-10.52z"/>
<path fill="#27ad81" d="M863.08,487.25l5.26,-9.11h10.52l5.26,9.11l-5.26,9.11h-10.52zM863.08,596.55l5.26,-9.11h10.52l5.26,9.11l-5.26,9.11h-10.52zM878.86,405.28l5.26,-9.11h10.52l5.26,9.11l-5.26,9.11h-10.52zM878.86,459.93l5.26,-9.11h10.52l5.26,9.11l-5.26,9.11h-10.52zM878.86,623.87l5.26,-9.11h10.52l5.26,9.11l-5.26,9.11h-10.52zM878.86,678.52l5.26,-9.11h10.52l5.26,9.11l-5.26,9.11h-10.52zM910.41,514.58l5.26,-9.11h10.52l5.26,9.11l-5.26,9.11h-10.52zM910.41,569.22l5.26,-9.11h10.52l5.26,9.11l-5.26,9.11h-10.52zM926.18,487.25l5.26,-9.11h10.52l5.26,9.11l-5.26,9.11h-10.52zM926.18,596.55l5.26,-9.11h10.52l5.26,9.11l-5.26,9.11h-10.52zM973.51,405.28l5.26,-9.11h10.52l5.26,9.11l-5.26,9.11h-10.52zM973.51,459.93l5.26,-9.11h10.52l5.26,9.11l-5.26,9.11h-10.52zM973.51,623.87l5.26,-9.11h10.52l5.26,9.11l-5.26,9.11h-10.52zM973.51,678.52l5.26,-9.11h10.52l5.26,9.11l-5.26,9.11h-10.52zM1005.06,405.28l5.26,-9.11h10.52l5.26,9.11l-5.26,9.11h-10.52zM1005.06,459.93l5.26,-9.11h10.52l5.26,9.11l-5.26,9.11h-10.52zM1005.06,623.87l5.26,-9.11h10.52l5.26,9.11l-5.26,9.11h-10.52zM1005.06,678.52l5.26,-9.11h10.52l5.26,9.11l-5.26,9.11h-10.52zM1052.38,487.25l5.26,-9.11h10.52l5.26,9.11l-5.26,9.11h-10.52zM1052.38,596.55l5.26,-9.11h10.52l5.26,9.11l-5.26,9.11h-10.52zM1068.16,514.58l5.26,-9.11h10.52l5.26,9.11l-5.26,9.11h-10.52zM1068.16,569.22l5.26,-9.11h10.52l5.26,9.11l-5.26,9.11h-10.52zM1099.71,405.28l5.26,-9.11h10.52l5.26,9.11l-5.26,9.11h-10.52zM1099.71,459.93l5.26,-9.11h10.52l5.26,9.11l-5.26,9.11h-10.52zM1099.71,623.87l5.26,-9.11h10.52l5.26,9.11l-5.26,9.11h-10.52zM1099.71,678.52l5.26,-9.11h10.52l5.26,9.11l-5.26,9.11h-10.52zM1115.48,487.25l5.26,-9.11h10.52l5.26,9.11l-5.26,9.11h-10.52zM1115.48,596.55l5.26,-9.11h10.52l5.26,9.11l-5.26,9.11h-10.52z"/>
<path fill="#6ece58" d="M863.08,541.9l5.26,-9.11h10.52l5.26,9.11l-5.26,9.11h-10.52zM926.18,432.61l5.26,-9.11h10.52l5.26,9.11l-5.26,9.11h-10.52zM926.18,651.19l5.26,-9.11h10.52l5.26,9.11l-5.26,9.11h-10.52zM1052.38,432.61l5.26,-9.11h10.52l5.26,9.11l-5.26,9.11h-10.52zM1052.38,651.19l5.26,-9.11h10.52l5.26,9.11l-5.26,9.11h-10.52zM1115.48,541.9l5.26,-9.11h10.52l5.26,9.11l-5.26,9.11h-10.52z"/>
<path fill="#7cd250" d="M878.86,387.07l5.26,-9.11h10.52l5.26,9.11l-5.26,9.11h-10.52zM878.86,478.15l5.26,-9.11h10.52l5.26,9.11l-5.26,9.11h-10.52zM878.86,605.65l5.26,-9.11h10.52l5.26,9.11l-5.26,9.11h-10.52zM878.86,696.73l5.26,-9.11h10.52l5.26,9.11l-5.26,9.11h-10.52zM910.41,496.36l5.26,-9.11h10.52l5.26,9.11l-5.26,9.11h-10.52zM910.41,587.44l5.26,-9.11h10.52l5.26,9.11l-5.26,9.11h-10.52zM989.28,414.39l5.26,-9.11h10.52l5.26,9.11l-5.26,9.11h-10.52zM989.28,450.82l5.26,-9.11h10.52l5.26,9.11l-5.26,9.11h-10.52zM989.28,632.98l5.26,-9.11h10.52l5.26,9.11l-5.26,9.11h-10.52zM989.28,669.41l5.26,-9.11h10.52l5.26,9.11l-5.26,9.11h-10.52zM1068.16,496.36l5.26,-9.11h10.52l5.26,9.11l-5.26,9.11h-10.52zM1068.16,587.44l5.26,-9.11h10.52l5.26,9.11l-5.26,9.11h-10.52zM1099.71,387.07l5.26,-9.11h10.52l5.26,9.11l-5.26,9.11h-10.52zM1099.71,478.15l5.26,-9.11h10.52l5.26,9.11l-5.26,9.11h-10.52zM1099.71,605.65l5.26,-9.11h10.52l5.26,9.11l-5.26,9.11h-10.52zM1099.71,696.73l5.26,-9.11h10.52l5.26,9.11l-5.26,9.11h-10.52z"/>
<path fill="#c2df23" d="M878.86,496.36l5.26,-9.11h10.52l5.26,9.11l-5.26,9.11h-10.52zM878.86,587.44l5.26,-9.11h10.52l5.26,9.11l-5.26,9.11h-10.52zM894.63,396.18l5.26,-9.11h10.52l5.26,9.11l-5.26,9.11h-10.52zM894.63,469.04l5.26,-9.11h10.52l5.26,9.11l-5.26,9.11h-10.52zM894.63,505.47l5.26,-9.11h10.52l5.26,9.11l-5.26,9.11h-10.52zM894.63,578.33l5.26,-9.11h10.52l5.26,9.11l-5.26,9.11h-10.52zM894.63,614.76l5.26,-9.11h10.52l5.26,9.11l-5.26,9.11h-10.52zM894.63,687.62l5.26,-9.11h10.52l5.26,9.11l-5.26,9.11h-10.52zM910.41,387.07l5.26,-9.11h10.52l5.26,9.11l-5.26,9.11h-10.52zM910.41,478.15l5.26,-9.11h10.52l5.26,9.11l-5.26,9.11h-10.52zM910.41,605.65l5.26,-9.11h10.52l5.26,9.11l-5.26,9.11h-10.52zM910.41,696.73l5.26,-9.11h10.52l5.26,9.11l-5.26,9.11h-10.52zM973.51,423.5l5.26,-9.11h10.52l5.26,9.11l-5.26,9.11h-10.52zM973.51,441.72l5.26,-9.11h10.52l5.26,9.11l-5.26,9.11h-10.52zM973.51,642.08l5.26,-9.11h10.52l5.26,9.11l-5.26,9.11h-10.52zM973.51,660.3l5.26,-9.11h10.52l5.26,9.11l-5.26,9.11h-10.52zM1005.06,423.5l5.26,-9.11h10.52l5.26,9.11l-5.26,9.11h-10.52zM1005.06,441.72l5.26,-9.11h10.52l5.26,9.11l-5.26,9.11h-10.52zM1005.06,642.08l5.26,-9.11h10.52l5.26,9.11l-5.26,9.11h-10.52zM1005.06,660.3l5.26,-9.11h10.52l5.26,9.11l-5.26,9.11h-10.52zM1068.16,387.07l5.26,-9.11h10.52l5.26,9.11l-5.26,9.11h-10.52zM1068.16,478.15l5.26,-9.11h10.52l5.26,9.11l-5.26,9.11h-10.52zM1068.16,605.65l5.26,-9.11h10.52l5.26,9.11l-5.26,9.11h-10.52zM1068.16,696.73l5.26,-9.11h10.52l5.26,9.11l-5.26,9.11h-10.52zM1083.93,396.18l5.26,-9.11h10.52l5.26,9.11l-5.26,9.11h-10.52zM1083.93,469.04l5.26,-9.11h10.52l5.26,9.11l-5.26,9.11h-10.52zM1083.93,505.47l5.26,-9.11h10.52l5.26,9.11l-5.26,9.11h-10.52zM1083.93,578.33l5.26,-9.11h10.52l5.26,9.11l-5.26,9.11h-10.52zM1083.93,614.76l5.26,-9.11h10.52l5.26,9.11l-5.26,9.11h-10.52zM1083.93,687.62l5.26,-9.11h10.52l5.26,9.11l-5.26,9.11h-10.52zM1099.71,496.36l5.26,-9.11h10.52l5.26,9.11l-5.26,9.11h-10.52zM1099.71,587.44l5.26,-9.11h10.52l5.26,9.11l-5.26,9.11h-10.52z"/>
<path fill="#fde725" d="M894.63,487.25l5.26,-9.11h10.52l5.26,9.11l-5.26,9.11h-10.52zM894.63,596.55l5.26,-9.11h10.52l5.26,9.11l-5.26,9.11h-10.52zM989.28,432.61l5.26,-9.11h10.52l5.26,9.11l-5.26,9.11h-10.52zM989.28,651.19l5.26,-9.11h10.52l5.26,9.11l-5.26,9.11h-10.52zM1083.93,487.25l5.26,-9.11h10.52l5.26,9.11l-5.26,9.11h-10.52zM1083.93,596.55l5.26,-9.11h10.52l5.26,9.11l-5.26,9.11h-10.52z"/>
<path fill="#470d60" d="M973.51,532.79l5.26,-9.11h10.52l5.26,9.11l-5.26,9.11h-10.52zM973.51,551.01l5.26,-9.11h10.52l5.26,9.11l-5.26,9.11h-10.52zM989.28,523.68l5.26,-9.11h10.52l5.26,9.11l-5.26,9.11h-10.52zM989.28,560.12l5.26,-9.11h10.52l5.26,9.11l-5.26,9.11h-10.52zM1005.06,532.79l5.26,-9.11h10.52l5.26,9.11l-5.26,9.11h-10.52zM1005.06,551.01l5.26,-9.11h10.52l5.26,9.11l-5.26,9.11h-10.52z"/>
<path fill="#440154" d="M989.28,541.9l5.26,-9.11h10.52l5.26,9.11l-5.26,9.11h-10.52z"/>
</g>
<polygon points="1126.0,541.9 1062.9,432.6 936.7,432.6 873.6,541.9 936.7,651.2 1062.9,651.2" fill="none" stroke="#000" stroke-width="2.6" stroke-linejoin="miter"/>
<rect x="867.5" y="406.4" width="47.5" height="41" fill="#fff"/>
<text x="877.3" y="436.1" font-size="26" fill="#d40a0a">B<tspan font-size="16.5" dy="6.2" dx="0.4">II</tspan></text>
<defs><linearGradient id="vg" x1="0" y1="1" x2="0" y2="0">
<stop offset="0%" stop-color="#440154"/>
<stop offset="5%" stop-color="#471365"/>
<stop offset="10%" stop-color="#482475"/>
<stop offset="15%" stop-color="#463480"/>
<stop offset="20%" stop-color="#414487"/>
<stop offset="25%" stop-color="#3b528b"/>
<stop offset="30%" stop-color="#355f8d"/>
<stop offset="35%" stop-color="#2f6c8e"/>
<stop offset="40%" stop-color="#2a788e"/>
<stop offset="45%" stop-color="#25848e"/>
<stop offset="50%" stop-color="#21918c"/>
<stop offset="55%" stop-color="#1e9c89"/>
<stop offset="60%" stop-color="#22a884"/>
<stop offset="65%" stop-color="#2fb47c"/>
<stop offset="70%" stop-color="#44bf70"/>
<stop offset="75%" stop-color="#5ec962"/>
<stop offset="80%" stop-color="#7ad151"/>
<stop offset="85%" stop-color="#9bd93c"/>
<stop offset="90%" stop-color="#bddf26"/>
<stop offset="95%" stop-color="#dfe318"/>
<stop offset="100%" stop-color="#fde725"/>
</linearGradient></defs>
<rect x="1161" y="88.2" width="15.2" height="283.4" fill="url(#vg)" stroke="#000" stroke-width="1.9"/>
<path d="M1176,88.2 h6.5 M1176,371.6 h6.5" stroke="#000" stroke-width="1.9"/>
<path d="M1177,144.9 h2" stroke="#000" stroke-width="0.7"/>
<path d="M1177,201.6 h2" stroke="#000" stroke-width="0.7"/>
<path d="M1177,258.2 h2" stroke="#000" stroke-width="0.7"/>
<path d="M1177,314.9 h2" stroke="#000" stroke-width="0.7"/>
<text x="1185.8" y="107.8" font-size="31.6">High</text>
<text x="1186.7" y="372.7" font-size="31.6">Low</text>
<rect x="1161" y="399.1" width="15.2" height="284.3" fill="url(#vg)" stroke="#000" stroke-width="1.9"/>
<path d="M1176,399.1 h6.5 M1176,683.4 h6.5" stroke="#000" stroke-width="1.9"/>
<path d="M1177,456 h2" stroke="#000" stroke-width="0.7"/>
<path d="M1177,512.8 h2" stroke="#000" stroke-width="0.7"/>
<path d="M1177,569.7 h2" stroke="#000" stroke-width="0.7"/>
<path d="M1177,626.5 h2" stroke="#000" stroke-width="0.7"/>
<text x="1185.8" y="419.2" font-size="31.6">High</text>
<text x="1186.7" y="684.0" font-size="31.6">Low</text>
<text x="487.9" y="109.5" font-size="37.4">(c)</text>
</svg>
</body></html>
